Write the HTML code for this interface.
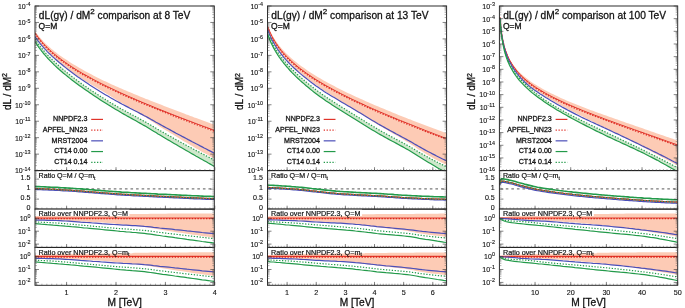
<!DOCTYPE html>
<html><head><meta charset="utf-8"><style>
html,body{margin:0;padding:0;background:#fff;}
svg{display:block;will-change:transform;}
text{font-family:"Liberation Sans", sans-serif;fill:#111;stroke:#111;stroke-width:0.28px;}
</style></head><body>
<svg xmlns="http://www.w3.org/2000/svg" width="685" height="308" viewBox="0 0 685 308">
<rect width="685" height="308" fill="#fff"/>
<g>
<clipPath id="cm0"><rect x="35.00" y="6.00" width="179.30" height="164.60"/></clipPath>
<clipPath id="ca0"><rect x="35.00" y="170.60" width="179.30" height="38.50"/></clipPath>
<clipPath id="cb0"><rect x="35.00" y="209.10" width="179.30" height="38.30"/></clipPath>
<clipPath id="cc0"><rect x="35.00" y="247.40" width="179.30" height="37.90"/></clipPath>
<g clip-path="url(#cm0)">
<path d="M35.0,31.0L35.5,31.7L36.0,32.4L36.5,33.1L37.0,33.8L37.5,34.5L38.0,35.1L38.5,35.7L39.0,36.3L39.5,36.9L40.0,37.5L40.5,38.1L41.0,38.7L41.5,39.3L42.0,39.8L42.5,40.3L43.0,40.9L43.5,41.4L44.0,41.9L44.5,42.4L45.0,42.9L45.5,43.4L46.0,43.9L46.5,44.4L47.0,44.9L47.5,45.3L48.0,45.8L48.5,46.3L49.0,46.7L49.5,47.2L50.0,47.6L50.5,48.0L51.0,48.5L51.5,48.9L52.0,49.3L52.5,49.7L53.0,50.1L53.5,50.5L54.0,51.0L54.5,51.4L55.0,51.7L55.5,52.1L57.5,53.7L59.5,55.2L61.5,56.6L63.5,58.0L65.6,59.3L67.6,60.6L69.6,61.9L71.6,63.2L73.6,64.4L75.6,65.6L77.6,66.8L79.6,68.0L81.6,69.1L83.6,70.3L85.7,71.4L87.7,72.5L89.7,73.6L91.7,74.6L93.7,75.7L95.7,76.7L97.7,77.7L99.7,78.7L101.7,79.7L103.7,80.7L105.8,81.6L107.8,82.5L109.8,83.5L111.8,84.4L113.8,85.3L115.8,86.2L117.8,87.0L119.8,87.9L121.8,88.8L123.8,89.7L125.9,90.5L127.9,91.4L129.9,92.3L131.9,93.1L133.9,93.9L135.9,94.8L137.9,95.6L139.9,96.4L141.9,97.2L143.9,98.0L146.0,98.9L148.0,99.6L150.0,100.4L152.0,101.2L154.0,102.0L156.0,102.8L158.0,103.6L160.0,104.3L162.0,105.1L164.0,105.9L166.1,106.7L168.1,107.5L170.1,108.3L172.1,109.0L174.1,109.8L176.1,110.6L178.1,111.3L180.1,112.1L182.1,112.8L184.1,113.6L186.2,114.4L188.2,115.1L190.2,115.9L192.2,116.6L194.2,117.4L196.2,118.1L198.2,118.8L200.2,119.6L202.2,120.3L204.2,121.1L206.3,121.8L208.3,122.5L210.3,123.3L212.3,124.0L214.3,124.8 L214.3,158.6L212.3,157.5L210.3,156.4L208.3,155.3L206.3,154.1L204.2,153.0L202.2,151.9L200.2,150.7L198.2,149.6L196.2,148.4L194.2,147.2L192.2,146.1L190.2,144.9L188.2,143.7L186.2,142.5L184.1,141.4L182.1,140.2L180.1,139.0L178.1,137.8L176.1,136.5L174.1,135.3L172.1,134.1L170.1,132.9L168.1,131.6L166.1,130.4L164.0,129.2L162.0,127.9L160.0,126.7L158.0,125.4L156.0,124.1L154.0,122.8L152.0,121.5L150.0,120.2L148.0,118.9L146.0,117.6L143.9,116.4L141.9,115.1L139.9,113.9L137.9,112.7L135.9,111.5L133.9,110.3L131.9,109.1L129.9,107.9L127.9,106.7L125.9,105.5L123.8,104.3L121.8,103.1L119.8,101.9L117.8,100.7L115.8,99.5L113.8,98.2L111.8,97.0L109.8,95.7L107.8,94.4L105.8,93.2L103.7,92.0L101.7,90.8L99.7,89.7L97.7,88.5L95.7,87.3L93.7,86.1L91.7,84.9L89.7,83.6L87.7,82.4L85.7,81.2L83.6,79.9L81.6,78.6L79.6,77.3L77.6,76.0L75.6,74.6L73.6,73.2L71.6,71.8L69.6,70.3L67.6,68.9L65.6,67.3L63.5,65.8L61.5,64.2L59.5,62.5L57.5,60.8L55.5,59.1L55.0,58.7L54.5,58.2L54.0,57.8L53.5,57.3L53.0,56.9L52.5,56.4L52.0,56.0L51.5,55.5L51.0,55.0L50.5,54.5L50.0,54.0L49.5,53.6L49.0,53.1L48.5,52.6L48.0,52.1L47.5,51.6L47.0,51.0L46.5,50.5L46.0,50.0L45.5,49.5L45.0,48.9L44.5,48.4L44.0,47.8L43.5,47.2L43.0,46.7L42.5,46.1L42.0,45.5L41.5,44.9L41.0,44.3L40.5,43.7L40.0,43.0L39.5,42.4L39.0,41.8L38.5,41.1L38.0,40.4L37.5,39.7L37.0,39.0L36.5,38.3L36.0,37.6L35.5,36.8L35.0,36.1 Z" fill="#fdcbb5" stroke="none"/>
<path d="M35.0,39.0L35.5,39.8L36.0,40.6L36.5,41.3L37.0,42.0L37.5,42.7L38.0,43.4L38.5,44.1L39.0,44.8L39.5,45.5L40.0,46.1L40.5,46.8L41.0,47.4L41.5,48.0L42.0,48.6L42.5,49.2L43.0,49.8L43.5,50.4L44.0,51.0L44.5,51.6L45.0,52.1L45.5,52.7L46.0,53.3L46.5,53.8L47.0,54.3L47.5,54.9L48.0,55.4L48.5,55.9L49.0,56.4L49.5,57.0L50.0,57.5L50.5,58.0L51.0,58.5L51.5,58.9L52.0,59.4L52.5,59.9L53.0,60.4L53.5,60.9L54.0,61.3L54.5,61.8L55.0,62.3L55.5,62.7L57.5,64.6L59.5,66.3L61.5,68.1L63.5,69.8L65.6,71.5L67.6,73.1L69.6,74.7L71.6,76.3L73.6,77.8L75.6,79.3L77.6,80.8L79.6,82.3L81.6,83.7L83.6,85.2L85.7,86.6L87.7,87.9L89.7,89.3L91.7,90.7L93.7,92.0L95.7,93.3L97.7,94.6L99.7,95.9L101.7,97.2L103.7,98.4L105.8,99.7L107.8,100.9L109.8,102.2L111.8,103.4L113.8,104.6L115.8,105.8L117.8,106.9L119.8,108.1L121.8,109.2L123.8,110.3L125.9,111.4L127.9,112.5L129.9,113.6L131.9,114.7L133.9,115.7L135.9,116.8L137.9,117.9L139.9,119.0L141.9,120.1L143.9,121.2L146.0,122.3L148.0,123.5L150.0,124.6L152.0,125.8L154.0,127.0L156.0,128.2L158.0,129.4L160.0,130.6L162.0,131.7L164.0,132.9L166.1,134.0L168.1,135.2L170.1,136.3L172.1,137.4L174.1,138.5L176.1,139.7L178.1,140.8L180.1,141.9L182.1,143.0L184.1,144.1L186.2,145.2L188.2,146.3L190.2,147.3L192.2,148.4L194.2,149.5L196.2,150.6L198.2,151.6L200.2,152.7L202.2,153.8L204.2,154.8L206.3,155.9L208.3,156.9L210.3,158.0L212.3,159.0L214.3,160.0 L214.3,166.4L212.3,165.2L210.3,164.1L208.3,163.0L206.3,161.8L204.2,160.7L202.2,159.6L200.2,158.4L198.2,157.3L196.2,156.2L194.2,155.0L192.2,153.9L190.2,152.7L188.2,151.6L186.2,150.4L184.1,149.2L182.1,148.1L180.1,146.9L178.1,145.8L176.1,144.6L174.1,143.4L172.1,142.2L170.1,141.0L168.1,139.9L166.1,138.7L164.0,137.5L162.0,136.3L160.0,135.1L158.0,133.9L156.0,132.6L154.0,131.4L152.0,130.2L150.0,128.9L148.0,127.7L146.0,126.5L143.9,125.4L141.9,124.2L139.9,123.1L137.9,122.0L135.9,120.8L133.9,119.7L131.9,118.6L129.9,117.5L127.9,116.4L125.9,115.2L123.8,114.1L121.8,113.0L119.8,111.8L117.8,110.6L115.8,109.4L113.8,108.2L111.8,107.0L109.8,105.7L107.8,104.5L105.8,103.2L103.7,101.9L101.7,100.7L99.7,99.4L97.7,98.1L95.7,96.7L93.7,95.4L91.7,94.1L89.7,92.7L87.7,91.3L85.7,89.9L83.6,88.5L81.6,87.1L79.6,85.7L77.6,84.2L75.6,82.7L73.6,81.2L71.6,79.7L69.6,78.1L67.6,76.5L65.6,74.9L63.5,73.2L61.5,71.5L59.5,69.8L57.5,68.0L55.5,66.1L55.0,65.6L54.5,65.1L54.0,64.7L53.5,64.2L53.0,63.7L52.5,63.2L52.0,62.7L51.5,62.2L51.0,61.7L50.5,61.2L50.0,60.7L49.5,60.1L49.0,59.6L48.5,59.1L48.0,58.5L47.5,58.0L47.0,57.4L46.5,56.9L46.0,56.3L45.5,55.7L45.0,55.2L44.5,54.6L44.0,54.0L43.5,53.4L43.0,52.8L42.5,52.2L42.0,51.5L41.5,50.9L41.0,50.2L40.5,49.6L40.0,48.9L39.5,48.2L39.0,47.6L38.5,46.9L38.0,46.1L37.5,45.4L37.0,44.7L36.5,43.9L36.0,43.1L35.5,42.4L35.0,41.6 Z" fill="#cfe8cc" stroke="none"/>
<path d="M35.0,32.8L35.5,33.5L36.0,34.3L36.5,35.0L37.0,35.7L37.5,36.4L38.0,37.0L38.5,37.7L39.0,38.3L39.5,39.0L40.0,39.6L40.5,40.2L41.0,40.8L41.5,41.4L42.0,42.0L42.5,42.5L43.0,43.1L43.5,43.7L44.0,44.2L44.5,44.7L45.0,45.3L45.5,45.8L46.0,46.3L46.5,46.8L47.0,47.3L47.5,47.8L48.0,48.3L48.5,48.8L49.0,49.3L49.5,49.7L50.0,50.2L50.5,50.7L51.0,51.1L51.5,51.6L52.0,52.0L52.5,52.4L53.0,52.9L53.5,53.3L54.0,53.7L54.5,54.2L55.0,54.6L55.5,55.0L57.5,56.6L59.5,58.2L61.5,59.7L63.5,61.2L65.6,62.6L67.6,64.0L69.6,65.4L71.6,66.7L73.6,68.0L75.6,69.3L77.6,70.5L79.6,71.7L81.6,72.9L83.6,74.1L85.7,75.2L87.7,76.3L89.7,77.4L91.7,78.5L93.7,79.6L95.7,80.7L97.7,81.7L99.7,82.8L101.7,83.8L103.7,84.8L105.8,85.8L107.8,86.8L109.8,87.7L111.8,88.7L113.8,89.6L115.8,90.6L117.8,91.5L119.8,92.5L121.8,93.4L123.8,94.3L125.9,95.2L127.9,96.1L129.9,97.0L131.9,97.8L133.9,98.7L135.9,99.6L137.9,100.5L139.9,101.3L141.9,102.2L143.9,103.0L146.0,103.9L148.0,104.7L150.0,105.5L152.0,106.3L154.0,107.2L156.0,108.0L158.0,108.8L160.0,109.6L162.0,110.4L164.0,111.2L166.1,112.0L168.1,112.8L170.1,113.6L172.1,114.4L174.1,115.2L176.1,116.0L178.1,116.7L180.1,117.5L182.1,118.3L184.1,119.0L186.2,119.8L188.2,120.6L190.2,121.3L192.2,122.1L194.2,122.9L196.2,123.6L198.2,124.4L200.2,125.1L202.2,125.9L204.2,126.6L206.3,127.3L208.3,128.1L210.3,128.8L212.3,129.6L214.3,130.3" fill="none" stroke="#e0332a" stroke-width="1.0"/>
<path d="M35.0,33.6L35.5,34.3L36.0,35.1L36.5,35.8L37.0,36.5L37.5,37.2L38.0,37.8L38.5,38.5L39.0,39.1L39.5,39.8L40.0,40.4L40.5,41.0L41.0,41.6L41.5,42.2L42.0,42.8L42.5,43.3L43.0,43.9L43.5,44.5L44.0,45.0L44.5,45.5L45.0,46.1L45.5,46.6L46.0,47.1L46.5,47.6L47.0,48.1L47.5,48.6L48.0,49.1L48.5,49.6L49.0,50.1L49.5,50.5L50.0,51.0L50.5,51.5L51.0,51.9L51.5,52.4L52.0,52.8L52.5,53.2L53.0,53.7L53.5,54.1L54.0,54.5L54.5,55.0L55.0,55.4L55.5,55.8L57.5,57.4L59.5,59.0L61.5,60.5L63.5,62.0L65.6,63.4L67.6,64.8L69.6,66.2L71.6,67.5L73.6,68.8L75.6,70.1L77.6,71.3L79.6,72.5L81.6,73.7L83.6,74.9L85.7,76.0L87.7,77.1L89.7,78.2L91.7,79.3L93.7,80.4L95.7,81.5L97.7,82.5L99.7,83.6L101.7,84.6L103.7,85.6L105.8,86.6L107.8,87.6L109.8,88.5L111.8,89.5L113.8,90.4L115.8,91.4L117.8,92.3L119.8,93.3L121.8,94.2L123.8,95.1L125.9,96.0L127.9,96.9L129.9,97.8L131.9,98.6L133.9,99.5L135.9,100.4L137.9,101.3L139.9,102.1L141.9,103.0L143.9,103.8L146.0,104.7L148.0,105.5L150.0,106.3L152.0,107.1L154.0,108.0L156.0,108.8L158.0,109.6L160.0,110.4L162.0,111.2L164.0,112.0L166.1,112.8L168.1,113.6L170.1,114.4L172.1,115.2L174.1,116.0L176.1,116.8L178.1,117.5L180.1,118.3L182.1,119.1L184.1,119.8L186.2,120.6L188.2,121.4L190.2,122.1L192.2,122.9L194.2,123.7L196.2,124.4L198.2,125.2L200.2,125.9L202.2,126.7L204.2,127.4L206.3,128.1L208.3,128.9L210.3,129.6L212.3,130.4L214.3,131.1" fill="none" stroke="#e0332a" stroke-width="1.5" stroke-dasharray="1.4,1.45"/>
<path d="M35.0,36.5L35.5,37.2L36.0,38.0L36.5,38.7L37.0,39.4L37.5,40.1L38.0,40.8L38.5,41.4L39.0,42.1L39.5,42.7L40.0,43.4L40.5,44.0L41.0,44.6L41.5,45.2L42.0,45.8L42.5,46.4L43.0,46.9L43.5,47.5L44.0,48.0L44.5,48.6L45.0,49.1L45.5,49.7L46.0,50.2L46.5,50.7L47.0,51.3L47.5,51.8L48.0,52.3L48.5,52.8L49.0,53.3L49.5,53.8L50.0,54.2L50.5,54.7L51.0,55.2L51.5,55.7L52.0,56.1L52.5,56.6L53.0,57.0L53.5,57.5L54.0,57.9L54.5,58.4L55.0,58.8L55.5,59.3L57.5,61.0L59.5,62.7L61.5,64.3L63.5,66.0L65.6,67.6L67.6,69.2L69.6,70.8L71.6,72.3L73.6,73.8L75.6,75.2L77.6,76.7L79.6,78.1L81.6,79.5L83.6,80.8L85.7,82.2L87.7,83.5L89.7,84.9L91.7,86.2L93.7,87.5L95.7,88.8L97.7,90.0L99.7,91.3L101.7,92.5L103.7,93.7L105.8,94.9L107.8,96.1L109.8,97.3L111.8,98.4L113.8,99.6L115.8,100.7L117.8,101.8L119.8,102.9L121.8,104.0L123.8,105.0L125.9,106.1L127.9,107.1L129.9,108.2L131.9,109.2L133.9,110.3L135.9,111.3L137.9,112.3L139.9,113.4L141.9,114.4L143.9,115.5L146.0,116.5L148.0,117.6L150.0,118.7L152.0,119.9L154.0,121.0L156.0,122.2L158.0,123.3L160.0,124.4L162.0,125.5L164.0,126.6L166.1,127.7L168.1,128.8L170.1,129.9L172.1,131.0L174.1,132.1L176.1,133.2L178.1,134.2L180.1,135.3L182.1,136.4L184.1,137.4L186.2,138.5L188.2,139.6L190.2,140.6L192.2,141.7L194.2,142.7L196.2,143.8L198.2,144.8L200.2,145.9L202.2,146.9L204.2,148.0L206.3,149.0L208.3,150.1L210.3,151.1L212.3,152.1L214.3,153.2" fill="none" stroke="#4b4fb8" stroke-width="1.20"/>
<path d="M35.0,41.6L35.5,42.4L36.0,43.1L36.5,43.9L37.0,44.7L37.5,45.4L38.0,46.1L38.5,46.9L39.0,47.6L39.5,48.2L40.0,48.9L40.5,49.6L41.0,50.2L41.5,50.9L42.0,51.5L42.5,52.2L43.0,52.8L43.5,53.4L44.0,54.0L44.5,54.6L45.0,55.2L45.5,55.7L46.0,56.3L46.5,56.9L47.0,57.4L47.5,58.0L48.0,58.5L48.5,59.1L49.0,59.6L49.5,60.1L50.0,60.7L50.5,61.2L51.0,61.7L51.5,62.2L52.0,62.7L52.5,63.2L53.0,63.7L53.5,64.2L54.0,64.7L54.5,65.1L55.0,65.6L55.5,66.1L57.5,68.0L59.5,69.8L61.5,71.5L63.5,73.2L65.6,74.9L67.6,76.5L69.6,78.1L71.6,79.7L73.6,81.2L75.6,82.7L77.6,84.2L79.6,85.7L81.6,87.1L83.6,88.5L85.7,89.9L87.7,91.3L89.7,92.7L91.7,94.1L93.7,95.4L95.7,96.7L97.7,98.1L99.7,99.4L101.7,100.7L103.7,101.9L105.8,103.2L107.8,104.5L109.8,105.7L111.8,107.0L113.8,108.2L115.8,109.4L117.8,110.6L119.8,111.8L121.8,113.0L123.8,114.1L125.9,115.2L127.9,116.4L129.9,117.5L131.9,118.6L133.9,119.7L135.9,120.8L137.9,122.0L139.9,123.1L141.9,124.2L143.9,125.4L146.0,126.5L148.0,127.7L150.0,128.9L152.0,130.2L154.0,131.4L156.0,132.6L158.0,133.9L160.0,135.1L162.0,136.3L164.0,137.5L166.1,138.7L168.1,139.9L170.1,141.0L172.1,142.2L174.1,143.4L176.1,144.6L178.1,145.8L180.1,146.9L182.1,148.1L184.1,149.2L186.2,150.4L188.2,151.6L190.2,152.7L192.2,153.9L194.2,155.0L196.2,156.2L198.2,157.3L200.2,158.4L202.2,159.6L204.2,160.7L206.3,161.8L208.3,163.0L210.3,164.1L212.3,165.2L214.3,166.4" fill="none" stroke="#239a4a" stroke-width="1.20"/>
<path d="M35.0,39.0L35.5,39.8L36.0,40.6L36.5,41.3L37.0,42.0L37.5,42.7L38.0,43.4L38.5,44.1L39.0,44.8L39.5,45.5L40.0,46.1L40.5,46.8L41.0,47.4L41.5,48.0L42.0,48.6L42.5,49.2L43.0,49.8L43.5,50.4L44.0,51.0L44.5,51.6L45.0,52.1L45.5,52.7L46.0,53.3L46.5,53.8L47.0,54.3L47.5,54.9L48.0,55.4L48.5,55.9L49.0,56.4L49.5,57.0L50.0,57.5L50.5,58.0L51.0,58.5L51.5,58.9L52.0,59.4L52.5,59.9L53.0,60.4L53.5,60.9L54.0,61.3L54.5,61.8L55.0,62.3L55.5,62.7L57.5,64.6L59.5,66.3L61.5,68.1L63.5,69.8L65.6,71.5L67.6,73.1L69.6,74.7L71.6,76.3L73.6,77.8L75.6,79.3L77.6,80.8L79.6,82.3L81.6,83.7L83.6,85.2L85.7,86.6L87.7,87.9L89.7,89.3L91.7,90.7L93.7,92.0L95.7,93.3L97.7,94.6L99.7,95.9L101.7,97.2L103.7,98.4L105.8,99.7L107.8,100.9L109.8,102.2L111.8,103.4L113.8,104.6L115.8,105.8L117.8,106.9L119.8,108.1L121.8,109.2L123.8,110.3L125.9,111.4L127.9,112.5L129.9,113.6L131.9,114.7L133.9,115.7L135.9,116.8L137.9,117.9L139.9,119.0L141.9,120.1L143.9,121.2L146.0,122.3L148.0,123.5L150.0,124.6L152.0,125.8L154.0,127.0L156.0,128.2L158.0,129.4L160.0,130.6L162.0,131.7L164.0,132.9L166.1,134.0L168.1,135.2L170.1,136.3L172.1,137.4L174.1,138.5L176.1,139.7L178.1,140.8L180.1,141.9L182.1,143.0L184.1,144.1L186.2,145.2L188.2,146.3L190.2,147.3L192.2,148.4L194.2,149.5L196.2,150.6L198.2,151.6L200.2,152.7L202.2,153.8L204.2,154.8L206.3,155.9L208.3,156.9L210.3,158.0L212.3,159.0L214.3,160.0" fill="none" stroke="#239a4a" stroke-width="1.20" stroke-dasharray="1.3,1.6"/>
</g>
<g clip-path="url(#cb0)">
<path d="M35.0,216.2L38.0,216.1L41.1,215.9L44.1,215.8L47.2,215.7L50.2,215.6L53.2,215.5L56.3,215.4L59.3,215.3L62.4,215.2L65.4,215.1L68.4,215.0L71.5,215.0L74.5,214.9L77.5,214.8L80.6,214.8L83.6,214.8L86.7,214.7L89.7,214.7L92.7,214.7L95.8,214.6L98.8,214.6L101.9,214.5L104.9,214.5L107.9,214.4L111.0,214.4L114.0,214.3L117.1,214.3L120.1,214.2L123.1,214.2L126.2,214.1L129.2,214.1L132.2,214.1L135.3,214.0L138.3,214.0L141.4,213.9L144.4,213.9L147.4,213.9L150.5,213.8L153.5,213.8L156.6,213.7L159.6,213.7L162.6,213.7L165.7,213.7L168.7,213.6L171.8,213.6L174.8,213.6L177.8,213.6L180.9,213.6L183.9,213.6L186.9,213.6L190.0,213.5L193.0,213.5L196.1,213.5L199.1,213.5L202.1,213.5L205.2,213.5L208.2,213.5L211.3,213.5L214.3,213.5 L214.3,237.6L211.3,237.2L208.2,236.8L205.2,236.4L202.1,236.0L199.1,235.5L196.1,235.1L193.0,234.7L190.0,234.2L186.9,233.8L183.9,233.3L180.9,232.8L177.8,232.4L174.8,231.9L171.8,231.4L168.7,231.0L165.7,230.5L162.6,230.0L159.6,229.5L156.6,229.0L153.5,228.5L150.5,228.0L147.4,227.5L144.4,227.0L141.4,226.6L138.3,226.2L135.3,225.9L132.2,225.5L129.2,225.2L126.2,224.9L123.1,224.5L120.1,224.2L117.1,223.9L114.0,223.6L111.0,223.3L107.9,222.9L104.9,222.7L101.9,222.5L98.8,222.3L95.8,222.2L92.7,222.0L89.7,221.9L86.7,221.7L83.6,221.6L80.6,221.5L77.5,221.4L74.5,221.2L71.5,221.1L68.4,220.9L65.4,220.8L62.4,220.7L59.3,220.5L56.3,220.4L53.2,220.3L50.2,220.2L47.2,220.1L44.1,220.0L41.1,219.9L38.0,219.9L35.0,219.8 Z" fill="#fdcbb5" stroke="none"/>
<path d="M35.0,218.0L38.0,218.0L41.1,218.0L44.1,218.0L47.2,218.0L50.2,218.0L53.2,218.0L56.3,218.0L59.3,218.0L62.4,218.0L65.4,218.0L68.4,218.0L71.5,218.0L74.5,218.0L77.5,218.0L80.6,218.0L83.6,218.0L86.7,218.0L89.7,218.0L92.7,218.0L95.8,218.0L98.8,218.0L101.9,218.0L104.9,218.0L107.9,218.0L111.0,218.0L114.0,218.0L117.1,218.0L120.1,218.0L123.1,218.0L126.2,218.0L129.2,218.0L132.2,218.0L135.3,218.0L138.3,218.0L141.4,218.0L144.4,218.0L147.4,218.0L150.5,218.0L153.5,218.0L156.6,218.0L159.6,218.0L162.6,218.0L165.7,218.0L168.7,218.0L171.8,218.0L174.8,218.0L177.8,218.0L180.9,218.0L183.9,218.0L186.9,218.0L190.0,218.0L193.0,218.0L196.1,218.0L199.1,218.0L202.1,218.0L205.2,218.0L208.2,218.0L211.3,218.0L214.3,218.0" fill="none" stroke="#e43a2e" stroke-width="1.2"/>
<path d="M35.0,218.7L38.0,218.7L41.1,218.7L44.1,218.7L47.2,218.7L50.2,218.7L53.2,218.7L56.3,218.7L59.3,218.7L62.4,218.7L65.4,218.7L68.4,218.7L71.5,218.7L74.5,218.7L77.5,218.7L80.6,218.7L83.6,218.7L86.7,218.7L89.7,218.7L92.7,218.7L95.8,218.7L98.8,218.7L101.9,218.7L104.9,218.7L107.9,218.7L111.0,218.7L114.0,218.7L117.1,218.7L120.1,218.7L123.1,218.7L126.2,218.7L129.2,218.7L132.2,218.7L135.3,218.7L138.3,218.7L141.4,218.7L144.4,218.7L147.4,218.7L150.5,218.7L153.5,218.7L156.6,218.7L159.6,218.7L162.6,218.7L165.7,218.7L168.7,218.7L171.8,218.7L174.8,218.7L177.8,218.7L180.9,218.7L183.9,218.7L186.9,218.7L190.0,218.7L193.0,218.7L196.1,218.7L199.1,218.7L202.1,218.7L205.2,218.7L208.2,218.7L211.3,218.7L214.3,218.7" fill="none" stroke="#dc2418" stroke-width="1.3" stroke-dasharray="1.4,1.45"/>
<path d="M35.0,220.1L38.0,220.1L41.1,220.1L44.1,220.2L47.2,220.3L50.2,220.3L53.2,220.4L56.3,220.5L59.3,220.6L62.4,220.8L65.4,221.0L68.4,221.2L71.5,221.4L74.5,221.6L77.5,221.8L80.6,222.1L83.6,222.3L86.7,222.5L89.7,222.7L92.7,223.0L95.8,223.2L98.8,223.4L101.9,223.7L104.9,223.9L107.9,224.1L111.0,224.3L114.0,224.5L117.1,224.7L120.1,224.9L123.1,225.1L126.2,225.2L129.2,225.4L132.2,225.6L135.3,225.7L138.3,225.9L141.4,226.1L144.4,226.4L147.4,226.6L150.5,226.9L153.5,227.3L156.6,227.6L159.6,228.0L162.6,228.3L165.7,228.6L168.7,228.9L171.8,229.2L174.8,229.6L177.8,229.9L180.9,230.2L183.9,230.5L186.9,230.9L190.0,231.2L193.0,231.5L196.1,231.8L199.1,232.1L202.1,232.5L205.2,232.8L208.2,233.1L211.3,233.4L214.3,233.7" fill="none" stroke="#4b4fb8" stroke-width="1.20"/>
<path d="M35.0,223.7L38.0,223.9L41.1,224.2L44.1,224.4L47.2,224.7L50.2,224.9L53.2,225.2L56.3,225.4L59.3,225.7L62.4,225.9L65.4,226.2L68.4,226.4L71.5,226.7L74.5,226.9L77.5,227.2L80.6,227.5L83.6,227.8L86.7,228.0L89.7,228.3L92.7,228.6L95.8,228.9L98.8,229.2L101.9,229.5L104.9,229.8L107.9,230.1L111.0,230.4L114.0,230.7L117.1,231.0L120.1,231.3L123.1,231.5L126.2,231.8L129.2,232.0L132.2,232.3L135.3,232.5L138.3,232.8L141.4,233.1L144.4,233.4L147.4,233.8L150.5,234.2L153.5,234.6L156.6,235.1L159.6,235.5L162.6,236.0L165.7,236.4L168.7,236.8L171.8,237.2L174.8,237.7L177.8,238.1L180.9,238.5L183.9,238.9L186.9,239.4L190.0,239.8L193.0,240.2L196.1,240.6L199.1,241.0L202.1,241.5L205.2,241.9L208.2,242.3L211.3,242.7L214.3,243.1" fill="none" stroke="#239a4a" stroke-width="1.20"/>
<path d="M35.0,221.9L38.0,222.0L41.1,222.2L44.1,222.3L47.2,222.5L50.2,222.6L53.2,222.8L56.3,223.0L59.3,223.2L62.4,223.5L65.4,223.7L68.4,224.0L71.5,224.3L74.5,224.5L77.5,224.8L80.6,225.1L83.6,225.4L86.7,225.6L89.7,225.9L92.7,226.2L95.8,226.5L98.8,226.7L101.9,227.0L104.9,227.3L107.9,227.6L111.0,227.8L114.0,228.1L117.1,228.4L120.1,228.6L123.1,228.8L126.2,229.0L129.2,229.2L132.2,229.5L135.3,229.7L138.3,229.9L141.4,230.2L144.4,230.4L147.4,230.8L150.5,231.1L153.5,231.5L156.6,232.0L159.6,232.4L162.6,232.7L165.7,233.1L168.7,233.5L171.8,233.8L174.8,234.2L177.8,234.5L180.9,234.9L183.9,235.3L186.9,235.6L190.0,236.0L193.0,236.3L196.1,236.6L199.1,237.0L202.1,237.3L205.2,237.7L208.2,238.0L211.3,238.3L214.3,238.6" fill="none" stroke="#239a4a" stroke-width="1.20" stroke-dasharray="1.3,1.6"/>
</g>
<g clip-path="url(#cc0)">
<path d="M35.0,255.0L38.0,254.9L41.1,254.7L44.1,254.6L47.2,254.5L50.2,254.4L53.2,254.3L56.3,254.2L59.3,254.1L62.4,254.0L65.4,253.9L68.4,253.8L71.5,253.8L74.5,253.7L77.5,253.6L80.6,253.6L83.6,253.6L86.7,253.5L89.7,253.5L92.7,253.5L95.8,253.4L98.8,253.4L101.9,253.3L104.9,253.3L107.9,253.2L111.0,253.2L114.0,253.1L117.1,253.1L120.1,253.0L123.1,253.0L126.2,252.9L129.2,252.9L132.2,252.9L135.3,252.8L138.3,252.8L141.4,252.7L144.4,252.7L147.4,252.7L150.5,252.6L153.5,252.6L156.6,252.5L159.6,252.5L162.6,252.5L165.7,252.5L168.7,252.4L171.8,252.4L174.8,252.4L177.8,252.4L180.9,252.4L183.9,252.4L186.9,252.4L190.0,252.3L193.0,252.3L196.1,252.3L199.1,252.3L202.1,252.3L205.2,252.3L208.2,252.3L211.3,252.3L214.3,252.3 L214.3,275.9L211.3,275.5L208.2,275.1L205.2,274.7L202.1,274.3L199.1,273.8L196.1,273.4L193.0,273.0L190.0,272.5L186.9,272.1L183.9,271.6L180.9,271.1L177.8,270.7L174.8,270.2L171.8,269.7L168.7,269.3L165.7,268.8L162.6,268.3L159.6,267.8L156.6,267.3L153.5,266.8L150.5,266.3L147.4,265.8L144.4,265.3L141.4,264.9L138.3,264.5L135.3,264.2L132.2,263.8L129.2,263.5L126.2,263.2L123.1,262.8L120.1,262.5L117.1,262.2L114.0,261.9L111.0,261.6L107.9,261.2L104.9,261.0L101.9,260.8L98.8,260.6L95.8,260.5L92.7,260.3L89.7,260.2L86.7,260.0L83.6,259.9L80.6,259.8L77.5,259.7L74.5,259.5L71.5,259.4L68.4,259.2L65.4,259.1L62.4,259.0L59.3,258.8L56.3,258.7L53.2,258.6L50.2,258.5L47.2,258.4L44.1,258.3L41.1,258.2L38.0,258.2L35.0,258.1 Z" fill="#fdcbb5" stroke="none"/>
<path d="M35.0,256.3L38.0,256.3L41.1,256.3L44.1,256.3L47.2,256.3L50.2,256.3L53.2,256.3L56.3,256.3L59.3,256.3L62.4,256.3L65.4,256.3L68.4,256.3L71.5,256.3L74.5,256.3L77.5,256.3L80.6,256.3L83.6,256.3L86.7,256.3L89.7,256.3L92.7,256.3L95.8,256.3L98.8,256.3L101.9,256.3L104.9,256.3L107.9,256.3L111.0,256.3L114.0,256.3L117.1,256.3L120.1,256.3L123.1,256.3L126.2,256.3L129.2,256.3L132.2,256.3L135.3,256.3L138.3,256.3L141.4,256.3L144.4,256.3L147.4,256.3L150.5,256.3L153.5,256.3L156.6,256.3L159.6,256.3L162.6,256.3L165.7,256.3L168.7,256.3L171.8,256.3L174.8,256.3L177.8,256.3L180.9,256.3L183.9,256.3L186.9,256.3L190.0,256.3L193.0,256.3L196.1,256.3L199.1,256.3L202.1,256.3L205.2,256.3L208.2,256.3L211.3,256.3L214.3,256.3" fill="none" stroke="#e43a2e" stroke-width="1.2"/>
<path d="M35.0,257.0L38.0,257.0L41.1,257.0L44.1,257.0L47.2,257.0L50.2,257.0L53.2,257.0L56.3,257.0L59.3,257.0L62.4,257.0L65.4,257.0L68.4,257.0L71.5,257.0L74.5,257.0L77.5,257.0L80.6,257.0L83.6,257.0L86.7,257.0L89.7,257.0L92.7,257.0L95.8,257.0L98.8,257.0L101.9,257.0L104.9,257.0L107.9,257.0L111.0,257.0L114.0,257.0L117.1,257.0L120.1,257.0L123.1,257.0L126.2,257.0L129.2,257.0L132.2,257.0L135.3,257.0L138.3,257.0L141.4,257.0L144.4,257.0L147.4,257.0L150.5,257.0L153.5,257.0L156.6,257.0L159.6,257.0L162.6,257.0L165.7,257.0L168.7,257.0L171.8,257.0L174.8,257.0L177.8,257.0L180.9,257.0L183.9,257.0L186.9,257.0L190.0,257.0L193.0,257.0L196.1,257.0L199.1,257.0L202.1,257.0L205.2,257.0L208.2,257.0L211.3,257.0L214.3,257.0" fill="none" stroke="#dc2418" stroke-width="1.3" stroke-dasharray="1.4,1.45"/>
<path d="M35.0,258.4L38.0,258.4L41.1,258.4L44.1,258.5L47.2,258.6L50.2,258.6L53.2,258.7L56.3,258.8L59.3,258.9L62.4,259.1L65.4,259.3L68.4,259.5L71.5,259.7L74.5,259.9L77.5,260.1L80.6,260.4L83.6,260.6L86.7,260.8L89.7,261.0L92.7,261.3L95.8,261.5L98.8,261.7L101.9,262.0L104.9,262.2L107.9,262.4L111.0,262.6L114.0,262.8L117.1,263.0L120.1,263.2L123.1,263.4L126.2,263.5L129.2,263.7L132.2,263.9L135.3,264.0L138.3,264.2L141.4,264.4L144.4,264.7L147.4,264.9L150.5,265.2L153.5,265.6L156.6,265.9L159.6,266.3L162.6,266.6L165.7,266.9L168.7,267.2L171.8,267.5L174.8,267.9L177.8,268.2L180.9,268.5L183.9,268.8L186.9,269.2L190.0,269.5L193.0,269.8L196.1,270.1L199.1,270.4L202.1,270.8L205.2,271.1L208.2,271.4L211.3,271.7L214.3,272.0" fill="none" stroke="#4b4fb8" stroke-width="1.20"/>
<path d="M35.0,262.0L38.0,262.2L41.1,262.5L44.1,262.7L47.2,263.0L50.2,263.2L53.2,263.5L56.3,263.7L59.3,264.0L62.4,264.2L65.4,264.5L68.4,264.7L71.5,265.0L74.5,265.2L77.5,265.5L80.6,265.8L83.6,266.1L86.7,266.3L89.7,266.6L92.7,266.9L95.8,267.2L98.8,267.5L101.9,267.8L104.9,268.1L107.9,268.4L111.0,268.7L114.0,269.0L117.1,269.3L120.1,269.6L123.1,269.8L126.2,270.1L129.2,270.3L132.2,270.6L135.3,270.8L138.3,271.1L141.4,271.4L144.4,271.7L147.4,272.1L150.5,272.5L153.5,272.9L156.6,273.4L159.6,273.8L162.6,274.3L165.7,274.7L168.7,275.1L171.8,275.5L174.8,276.0L177.8,276.4L180.9,276.8L183.9,277.2L186.9,277.7L190.0,278.1L193.0,278.5L196.1,278.9L199.1,279.3L202.1,279.8L205.2,280.2L208.2,280.6L211.3,281.0L214.3,281.4" fill="none" stroke="#239a4a" stroke-width="1.20"/>
<path d="M35.0,260.2L38.0,260.3L41.1,260.5L44.1,260.6L47.2,260.8L50.2,260.9L53.2,261.1L56.3,261.3L59.3,261.5L62.4,261.8L65.4,262.0L68.4,262.3L71.5,262.6L74.5,262.8L77.5,263.1L80.6,263.4L83.6,263.7L86.7,263.9L89.7,264.2L92.7,264.5L95.8,264.8L98.8,265.0L101.9,265.3L104.9,265.6L107.9,265.9L111.0,266.1L114.0,266.4L117.1,266.7L120.1,266.9L123.1,267.1L126.2,267.3L129.2,267.5L132.2,267.8L135.3,268.0L138.3,268.2L141.4,268.5L144.4,268.7L147.4,269.1L150.5,269.4L153.5,269.8L156.6,270.3L159.6,270.7L162.6,271.0L165.7,271.4L168.7,271.8L171.8,272.1L174.8,272.5L177.8,272.8L180.9,273.2L183.9,273.6L186.9,273.9L190.0,274.3L193.0,274.6L196.1,274.9L199.1,275.3L202.1,275.6L205.2,276.0L208.2,276.3L211.3,276.6L214.3,276.9" fill="none" stroke="#239a4a" stroke-width="1.20" stroke-dasharray="1.3,1.6"/>
</g>
<g clip-path="url(#ca0)">
<line x1="35.00" y1="188.85" x2="214.30" y2="188.85" stroke="#7a7a7a" stroke-width="1.1" stroke-dasharray="2.6,2.97" stroke-dashoffset="-0.8"/>
<path d="M35.0,188.6L37.0,188.7L39.0,188.7L41.0,188.8L43.1,188.9L45.1,189.0L47.1,189.1L49.1,189.2L51.1,189.3L53.1,189.3L55.1,189.4L57.2,189.5L59.2,189.6L61.2,189.8L63.2,189.9L65.2,190.0L67.2,190.1L69.2,190.2L71.3,190.3L73.3,190.5L75.3,190.6L77.3,190.8L79.3,190.9L81.3,191.0L83.4,191.2L85.4,191.4L87.4,191.5L89.4,191.7L91.4,191.8L93.4,192.0L95.4,192.2L97.5,192.3L99.5,192.5L101.5,192.7L103.5,192.8L105.5,193.0L107.5,193.1L109.5,193.3L111.6,193.4L113.6,193.6L115.6,193.7L117.6,193.9L119.6,194.0L121.6,194.2L123.6,194.3L125.7,194.4L127.7,194.5L129.7,194.6L131.7,194.8L133.7,194.9L135.7,195.0L137.7,195.1L139.8,195.2L141.8,195.3L143.8,195.4L145.8,195.5L147.8,195.6L149.8,195.7L151.8,195.8L153.9,195.9L155.9,196.0L157.9,196.2L159.9,196.3L161.9,196.3L163.9,196.4L165.9,196.5L168.0,196.6L170.0,196.7L172.0,196.8L174.0,196.9L176.0,197.0L178.0,197.1L180.1,197.2L182.1,197.3L184.1,197.4L186.1,197.5L188.1,197.6L190.1,197.7L192.1,197.8L194.2,197.9L196.2,197.9L198.2,198.0L200.2,198.1L202.2,198.2L204.2,198.3L206.2,198.4L208.3,198.5L210.3,198.5L212.3,198.6L214.3,198.7" fill="none" stroke="#e0332a" stroke-width="1.0"/>
<path d="M35.0,189.5L37.0,189.6L39.0,189.6L41.0,189.7L43.1,189.8L45.1,189.9L47.1,190.0L49.1,190.1L51.1,190.2L53.1,190.2L55.1,190.3L57.2,190.4L59.2,190.5L61.2,190.7L63.2,190.8L65.2,190.9L67.2,191.0L69.2,191.1L71.3,191.2L73.3,191.4L75.3,191.5L77.3,191.7L79.3,191.8L81.3,191.9L83.4,192.1L85.4,192.3L87.4,192.4L89.4,192.6L91.4,192.7L93.4,192.9L95.4,193.1L97.5,193.2L99.5,193.4L101.5,193.6L103.5,193.7L105.5,193.9L107.5,194.0L109.5,194.2L111.6,194.3L113.6,194.5L115.6,194.6L117.6,194.8L119.6,194.9L121.6,195.1L123.6,195.2L125.7,195.3L127.7,195.4L129.7,195.5L131.7,195.7L133.7,195.8L135.7,195.9L137.7,196.0L139.8,196.1L141.8,196.2L143.8,196.3L145.8,196.4L147.8,196.5L149.8,196.6L151.8,196.7L153.9,196.8L155.9,196.9L157.9,197.1L159.9,197.2L161.9,197.2L163.9,197.3L165.9,197.4L168.0,197.5L170.0,197.6L172.0,197.7L174.0,197.8L176.0,197.9L178.0,198.0L180.1,198.1L182.1,198.2L184.1,198.3L186.1,198.4L188.1,198.5L190.1,198.6L192.1,198.7L194.2,198.8L196.2,198.8L198.2,198.9L200.2,199.0L202.2,199.1L204.2,199.2L206.2,199.3L208.3,199.4L210.3,199.4L212.3,199.5L214.3,199.6" fill="none" stroke="#4b4fb8" stroke-width="1.2"/>
<path d="M35.0,186.5L37.0,186.6L39.0,186.6L41.0,186.7L43.1,186.8L45.1,186.9L47.1,187.0L49.1,187.1L51.1,187.2L53.1,187.2L55.1,187.3L57.2,187.4L59.2,187.5L61.2,187.7L63.2,187.8L65.2,187.9L67.2,188.0L69.2,188.1L71.3,188.2L73.3,188.4L75.3,188.5L77.3,188.7L79.3,188.8L81.3,188.9L83.4,189.1L85.4,189.3L87.4,189.4L89.4,189.6L91.4,189.7L93.4,189.9L95.4,190.1L97.5,190.2L99.5,190.4L101.5,190.6L103.5,190.7L105.5,190.9L107.5,191.0L109.5,191.2L111.6,191.3L113.6,191.5L115.6,191.6L117.6,191.8L119.6,191.9L121.6,192.1L123.6,192.2L125.7,192.3L127.7,192.4L129.7,192.5L131.7,192.7L133.7,192.8L135.7,192.9L137.7,193.0L139.8,193.1L141.8,193.2L143.8,193.3L145.8,193.4L147.8,193.5L149.8,193.6L151.8,193.7L153.9,193.8L155.9,193.9L157.9,194.1L159.9,194.2L161.9,194.2L163.9,194.3L165.9,194.4L168.0,194.5L170.0,194.6L172.0,194.7L174.0,194.8L176.0,194.9L178.0,195.0L180.1,195.1L182.1,195.2L184.1,195.3L186.1,195.4L188.1,195.5L190.1,195.6L192.1,195.7L194.2,195.8L196.2,195.8L198.2,195.9L200.2,196.0L202.2,196.1L204.2,196.2L206.2,196.3L208.3,196.4L210.3,196.4L212.3,196.5L214.3,196.6" fill="none" stroke="#239a4a" stroke-width="1.6"/>
<path d="M35.0,188.6L37.0,188.7L39.0,188.7L41.0,188.8L43.1,188.9L45.1,189.0L47.1,189.1L49.1,189.2L51.1,189.3L53.1,189.3L55.1,189.4L57.2,189.5L59.2,189.6L61.2,189.8L63.2,189.9L65.2,190.0L67.2,190.1L69.2,190.2L71.3,190.3L73.3,190.5L75.3,190.6L77.3,190.8L79.3,190.9L81.3,191.0L83.4,191.2L85.4,191.4L87.4,191.5L89.4,191.7L91.4,191.8L93.4,192.0L95.4,192.2L97.5,192.3L99.5,192.5L101.5,192.7L103.5,192.8L105.5,193.0L107.5,193.1L109.5,193.3L111.6,193.4L113.6,193.6L115.6,193.7L117.6,193.9L119.6,194.0L121.6,194.2L123.6,194.3L125.7,194.4L127.7,194.5L129.7,194.6L131.7,194.8L133.7,194.9L135.7,195.0L137.7,195.1L139.8,195.2L141.8,195.3L143.8,195.4L145.8,195.5L147.8,195.6L149.8,195.7L151.8,195.8L153.9,195.9L155.9,196.0L157.9,196.2L159.9,196.3L161.9,196.3L163.9,196.4L165.9,196.5L168.0,196.6L170.0,196.7L172.0,196.8L174.0,196.9L176.0,197.0L178.0,197.1L180.1,197.2L182.1,197.3L184.1,197.4L186.1,197.5L188.1,197.6L190.1,197.7L192.1,197.8L194.2,197.9L196.2,197.9L198.2,198.0L200.2,198.1L202.2,198.2L204.2,198.3L206.2,198.4L208.3,198.5L210.3,198.5L212.3,198.6L214.3,198.7" fill="none" stroke="#1d7a48" stroke-width="1.2"/>
<path d="M35.0,188.6L37.0,188.7L39.0,188.7L41.0,188.8L43.1,188.9L45.1,189.0L47.1,189.1L49.1,189.2L51.1,189.3L53.1,189.3L55.1,189.4L57.2,189.5L59.2,189.6L61.2,189.8L63.2,189.9L65.2,190.0L67.2,190.1L69.2,190.2L71.3,190.3L73.3,190.5L75.3,190.6L77.3,190.8L79.3,190.9L81.3,191.0L83.4,191.2L85.4,191.4L87.4,191.5L89.4,191.7L91.4,191.8L93.4,192.0L95.4,192.2L97.5,192.3L99.5,192.5L101.5,192.7L103.5,192.8L105.5,193.0L107.5,193.1L109.5,193.3L111.6,193.4L113.6,193.6L115.6,193.7L117.6,193.9L119.6,194.0L121.6,194.2L123.6,194.3L125.7,194.4L127.7,194.5L129.7,194.6L131.7,194.8L133.7,194.9L135.7,195.0L137.7,195.1L139.8,195.2L141.8,195.3L143.8,195.4L145.8,195.5L147.8,195.6L149.8,195.7L151.8,195.8L153.9,195.9L155.9,196.0L157.9,196.2L159.9,196.3L161.9,196.3L163.9,196.4L165.9,196.5L168.0,196.6L170.0,196.7L172.0,196.8L174.0,196.9L176.0,197.0L178.0,197.1L180.1,197.2L182.1,197.3L184.1,197.4L186.1,197.5L188.1,197.6L190.1,197.7L192.1,197.8L194.2,197.9L196.2,197.9L198.2,198.0L200.2,198.1L202.2,198.2L204.2,198.3L206.2,198.4L208.3,198.5L210.3,198.5L212.3,198.6L214.3,198.7" fill="none" stroke="#e8503a" stroke-width="1.3" stroke-dasharray="1.4,1.45"/>
</g>
<rect x="35.00" y="6.00" width="179.30" height="164.60" fill="none" stroke="#222" stroke-width="0.95"/>
<rect x="35.00" y="170.60" width="179.30" height="38.50" fill="none" stroke="#222" stroke-width="0.95"/>
<rect x="35.00" y="209.10" width="179.30" height="38.30" fill="none" stroke="#222" stroke-width="0.95"/>
<rect x="35.00" y="247.40" width="179.30" height="37.90" fill="none" stroke="#222" stroke-width="0.95"/>
<path d="M35.00,165.65h2.00M214.30,165.65h-2.00M35.00,162.75h2.00M214.30,162.75h-2.00M35.00,160.69h2.00M214.30,160.69h-2.00M35.00,159.09h2.00M214.30,159.09h-2.00M35.00,157.79h2.00M214.30,157.79h-2.00M35.00,156.69h2.00M214.30,156.69h-2.00M35.00,155.74h2.00M214.30,155.74h-2.00M35.00,154.89h2.00M214.30,154.89h-2.00M35.00,149.19h2.00M214.30,149.19h-2.00M35.00,146.29h2.00M214.30,146.29h-2.00M35.00,144.23h2.00M214.30,144.23h-2.00M35.00,142.63h2.00M214.30,142.63h-2.00M35.00,141.33h2.00M214.30,141.33h-2.00M35.00,140.23h2.00M214.30,140.23h-2.00M35.00,139.28h2.00M214.30,139.28h-2.00M35.00,138.43h2.00M214.30,138.43h-2.00M35.00,132.73h2.00M214.30,132.73h-2.00M35.00,129.83h2.00M214.30,129.83h-2.00M35.00,127.77h2.00M214.30,127.77h-2.00M35.00,126.17h2.00M214.30,126.17h-2.00M35.00,124.87h2.00M214.30,124.87h-2.00M35.00,123.77h2.00M214.30,123.77h-2.00M35.00,122.82h2.00M214.30,122.82h-2.00M35.00,121.97h2.00M214.30,121.97h-2.00M35.00,116.27h2.00M214.30,116.27h-2.00M35.00,113.37h2.00M214.30,113.37h-2.00M35.00,111.31h2.00M214.30,111.31h-2.00M35.00,109.71h2.00M214.30,109.71h-2.00M35.00,108.41h2.00M214.30,108.41h-2.00M35.00,107.31h2.00M214.30,107.31h-2.00M35.00,106.36h2.00M214.30,106.36h-2.00M35.00,105.51h2.00M214.30,105.51h-2.00M35.00,99.81h2.00M214.30,99.81h-2.00M35.00,96.91h2.00M214.30,96.91h-2.00M35.00,94.85h2.00M214.30,94.85h-2.00M35.00,93.25h2.00M214.30,93.25h-2.00M35.00,91.95h2.00M214.30,91.95h-2.00M35.00,90.85h2.00M214.30,90.85h-2.00M35.00,89.90h2.00M214.30,89.90h-2.00M35.00,89.05h2.00M214.30,89.05h-2.00M35.00,83.35h2.00M214.30,83.35h-2.00M35.00,80.45h2.00M214.30,80.45h-2.00M35.00,78.39h2.00M214.30,78.39h-2.00M35.00,76.79h2.00M214.30,76.79h-2.00M35.00,75.49h2.00M214.30,75.49h-2.00M35.00,74.39h2.00M214.30,74.39h-2.00M35.00,73.44h2.00M214.30,73.44h-2.00M35.00,72.59h2.00M214.30,72.59h-2.00M35.00,66.89h2.00M214.30,66.89h-2.00M35.00,63.99h2.00M214.30,63.99h-2.00M35.00,61.93h2.00M214.30,61.93h-2.00M35.00,60.33h2.00M214.30,60.33h-2.00M35.00,59.03h2.00M214.30,59.03h-2.00M35.00,57.93h2.00M214.30,57.93h-2.00M35.00,56.98h2.00M214.30,56.98h-2.00M35.00,56.13h2.00M214.30,56.13h-2.00M35.00,50.43h2.00M214.30,50.43h-2.00M35.00,47.53h2.00M214.30,47.53h-2.00M35.00,45.47h2.00M214.30,45.47h-2.00M35.00,43.87h2.00M214.30,43.87h-2.00M35.00,42.57h2.00M214.30,42.57h-2.00M35.00,41.47h2.00M214.30,41.47h-2.00M35.00,40.52h2.00M214.30,40.52h-2.00M35.00,39.67h2.00M214.30,39.67h-2.00M35.00,33.97h2.00M214.30,33.97h-2.00M35.00,31.07h2.00M214.30,31.07h-2.00M35.00,29.01h2.00M214.30,29.01h-2.00M35.00,27.41h2.00M214.30,27.41h-2.00M35.00,26.11h2.00M214.30,26.11h-2.00M35.00,25.01h2.00M214.30,25.01h-2.00M35.00,24.06h2.00M214.30,24.06h-2.00M35.00,23.21h2.00M214.30,23.21h-2.00M35.00,17.51h2.00M214.30,17.51h-2.00M35.00,14.61h2.00M214.30,14.61h-2.00M35.00,12.55h2.00M214.30,12.55h-2.00M35.00,10.95h2.00M214.30,10.95h-2.00M35.00,9.65h2.00M214.30,9.65h-2.00M35.00,8.55h2.00M214.30,8.55h-2.00M35.00,7.60h2.00M214.30,7.60h-2.00M35.00,6.75h2.00M214.30,6.75h-2.00M35.00,246.96h2.00M214.30,246.96h-2.00M35.00,246.10h2.00M214.30,246.10h-2.00M35.00,245.35h2.00M214.30,245.35h-2.00M35.00,244.69h2.00M214.30,244.69h-2.00M35.00,240.22h2.00M214.30,240.22h-2.00M35.00,237.95h2.00M214.30,237.95h-2.00M35.00,236.33h2.00M214.30,236.33h-2.00M35.00,235.08h2.00M214.30,235.08h-2.00M35.00,234.06h2.00M214.30,234.06h-2.00M35.00,233.20h2.00M214.30,233.20h-2.00M35.00,232.45h2.00M214.30,232.45h-2.00M35.00,231.79h2.00M214.30,231.79h-2.00M35.00,227.32h2.00M214.30,227.32h-2.00M35.00,225.05h2.00M214.30,225.05h-2.00M35.00,223.43h2.00M214.30,223.43h-2.00M35.00,222.18h2.00M214.30,222.18h-2.00M35.00,221.16h2.00M214.30,221.16h-2.00M35.00,220.30h2.00M214.30,220.30h-2.00M35.00,219.55h2.00M214.30,219.55h-2.00M35.00,218.89h2.00M214.30,218.89h-2.00M35.00,214.42h2.00M214.30,214.42h-2.00M35.00,212.15h2.00M214.30,212.15h-2.00M35.00,210.53h2.00M214.30,210.53h-2.00M35.00,209.28h2.00M214.30,209.28h-2.00M35.00,285.26h2.00M214.30,285.26h-2.00M35.00,284.40h2.00M214.30,284.40h-2.00M35.00,283.65h2.00M214.30,283.65h-2.00M35.00,282.99h2.00M214.30,282.99h-2.00M35.00,278.52h2.00M214.30,278.52h-2.00M35.00,276.25h2.00M214.30,276.25h-2.00M35.00,274.63h2.00M214.30,274.63h-2.00M35.00,273.38h2.00M214.30,273.38h-2.00M35.00,272.36h2.00M214.30,272.36h-2.00M35.00,271.50h2.00M214.30,271.50h-2.00M35.00,270.75h2.00M214.30,270.75h-2.00M35.00,270.09h2.00M214.30,270.09h-2.00M35.00,265.62h2.00M214.30,265.62h-2.00M35.00,263.35h2.00M214.30,263.35h-2.00M35.00,261.73h2.00M214.30,261.73h-2.00M35.00,260.48h2.00M214.30,260.48h-2.00M35.00,259.46h2.00M214.30,259.46h-2.00M35.00,258.60h2.00M214.30,258.60h-2.00M35.00,257.85h2.00M214.30,257.85h-2.00M35.00,257.19h2.00M214.30,257.19h-2.00M35.00,252.72h2.00M214.30,252.72h-2.00M35.00,250.45h2.00M214.30,250.45h-2.00M35.00,248.83h2.00M214.30,248.83h-2.00M35.00,247.58h2.00M214.30,247.58h-2.00M35.00,207.10h2.00M214.30,207.10h-2.00M35.00,205.10h2.00M214.30,205.10h-2.00M35.00,203.10h2.00M214.30,203.10h-2.00M35.00,201.10h2.00M214.30,201.10h-2.00M35.00,197.10h2.00M214.30,197.10h-2.00M35.00,195.10h2.00M214.30,195.10h-2.00M35.00,193.10h2.00M214.30,193.10h-2.00M35.00,191.10h2.00M214.30,191.10h-2.00M35.00,187.10h2.00M214.30,187.10h-2.00M35.00,185.10h2.00M214.30,185.10h-2.00M35.00,183.10h2.00M214.30,183.10h-2.00M35.00,181.10h2.00M214.30,181.10h-2.00M35.00,177.10h2.00M214.30,177.10h-2.00M35.00,175.10h2.00M214.30,175.10h-2.00M35.00,173.10h2.00M214.30,173.10h-2.00M35.00,171.10h2.00M214.30,171.10h-2.00M36.96,170.60v-1.60M36.96,209.10v-1.60M36.96,247.40v-1.60M36.96,285.30v-1.60M41.90,170.60v-1.60M41.90,209.10v-1.60M41.90,247.40v-1.60M41.90,285.30v-1.60M46.84,170.60v-1.60M46.84,209.10v-1.60M46.84,247.40v-1.60M46.84,285.30v-1.60M51.78,170.60v-1.60M51.78,209.10v-1.60M51.78,247.40v-1.60M51.78,285.30v-1.60M56.72,170.60v-1.60M56.72,209.10v-1.60M56.72,247.40v-1.60M56.72,285.30v-1.60M61.66,170.60v-1.60M61.66,209.10v-1.60M61.66,247.40v-1.60M61.66,285.30v-1.60M66.60,170.60v-1.60M66.60,209.10v-1.60M66.60,247.40v-1.60M66.60,285.30v-1.60M71.54,170.60v-1.60M71.54,209.10v-1.60M71.54,247.40v-1.60M71.54,285.30v-1.60M76.48,170.60v-1.60M76.48,209.10v-1.60M76.48,247.40v-1.60M76.48,285.30v-1.60M81.42,170.60v-1.60M81.42,209.10v-1.60M81.42,247.40v-1.60M81.42,285.30v-1.60M86.36,170.60v-1.60M86.36,209.10v-1.60M86.36,247.40v-1.60M86.36,285.30v-1.60M91.30,170.60v-1.60M91.30,209.10v-1.60M91.30,247.40v-1.60M91.30,285.30v-1.60M96.24,170.60v-1.60M96.24,209.10v-1.60M96.24,247.40v-1.60M96.24,285.30v-1.60M101.18,170.60v-1.60M101.18,209.10v-1.60M101.18,247.40v-1.60M101.18,285.30v-1.60M106.12,170.60v-1.60M106.12,209.10v-1.60M106.12,247.40v-1.60M106.12,285.30v-1.60M111.06,170.60v-1.60M111.06,209.10v-1.60M111.06,247.40v-1.60M111.06,285.30v-1.60M116.00,170.60v-1.60M116.00,209.10v-1.60M116.00,247.40v-1.60M116.00,285.30v-1.60M120.94,170.60v-1.60M120.94,209.10v-1.60M120.94,247.40v-1.60M120.94,285.30v-1.60M125.88,170.60v-1.60M125.88,209.10v-1.60M125.88,247.40v-1.60M125.88,285.30v-1.60M130.82,170.60v-1.60M130.82,209.10v-1.60M130.82,247.40v-1.60M130.82,285.30v-1.60M135.76,170.60v-1.60M135.76,209.10v-1.60M135.76,247.40v-1.60M135.76,285.30v-1.60M140.70,170.60v-1.60M140.70,209.10v-1.60M140.70,247.40v-1.60M140.70,285.30v-1.60M145.64,170.60v-1.60M145.64,209.10v-1.60M145.64,247.40v-1.60M145.64,285.30v-1.60M150.58,170.60v-1.60M150.58,209.10v-1.60M150.58,247.40v-1.60M150.58,285.30v-1.60M155.52,170.60v-1.60M155.52,209.10v-1.60M155.52,247.40v-1.60M155.52,285.30v-1.60M160.46,170.60v-1.60M160.46,209.10v-1.60M160.46,247.40v-1.60M160.46,285.30v-1.60M165.40,170.60v-1.60M165.40,209.10v-1.60M165.40,247.40v-1.60M165.40,285.30v-1.60M170.34,170.60v-1.60M170.34,209.10v-1.60M170.34,247.40v-1.60M170.34,285.30v-1.60M175.28,170.60v-1.60M175.28,209.10v-1.60M175.28,247.40v-1.60M175.28,285.30v-1.60M180.22,170.60v-1.60M180.22,209.10v-1.60M180.22,247.40v-1.60M180.22,285.30v-1.60M185.16,170.60v-1.60M185.16,209.10v-1.60M185.16,247.40v-1.60M185.16,285.30v-1.60M190.10,170.60v-1.60M190.10,209.10v-1.60M190.10,247.40v-1.60M190.10,285.30v-1.60M195.04,170.60v-1.60M195.04,209.10v-1.60M195.04,247.40v-1.60M195.04,285.30v-1.60M199.98,170.60v-1.60M199.98,209.10v-1.60M199.98,247.40v-1.60M199.98,285.30v-1.60M204.92,170.60v-1.60M204.92,209.10v-1.60M204.92,247.40v-1.60M204.92,285.30v-1.60M209.86,170.60v-1.60M209.86,209.10v-1.60M209.86,247.40v-1.60M209.86,285.30v-1.60" stroke="#555" stroke-width="0.45" fill="none"/>
<path d="M35.00,170.60h4.00M214.30,170.60h-4.00M35.00,154.14h4.00M214.30,154.14h-4.00M35.00,137.68h4.00M214.30,137.68h-4.00M35.00,121.22h4.00M214.30,121.22h-4.00M35.00,104.76h4.00M214.30,104.76h-4.00M35.00,88.30h4.00M214.30,88.30h-4.00M35.00,71.84h4.00M214.30,71.84h-4.00M35.00,55.38h4.00M214.30,55.38h-4.00M35.00,38.92h4.00M214.30,38.92h-4.00M35.00,22.46h4.00M214.30,22.46h-4.00M35.00,6.00h4.00M214.30,6.00h-4.00M35.00,244.10h4.00M214.30,244.10h-4.00M35.00,231.20h4.00M214.30,231.20h-4.00M35.00,218.30h4.00M214.30,218.30h-4.00M35.00,282.40h4.00M214.30,282.40h-4.00M35.00,269.50h4.00M214.30,269.50h-4.00M35.00,256.60h4.00M214.30,256.60h-4.00M35.00,209.10h4.00M214.30,209.10h-4.00M35.00,199.10h4.00M214.30,199.10h-4.00M35.00,189.10h4.00M214.30,189.10h-4.00M35.00,179.10h4.00M214.30,179.10h-4.00M66.60,170.60v-3.40M66.60,209.10v-3.40M66.60,247.40v-3.40M66.60,285.30v-3.40M116.00,170.60v-3.40M116.00,209.10v-3.40M116.00,247.40v-3.40M116.00,285.30v-3.40M165.40,170.60v-3.40M165.40,209.10v-3.40M165.40,247.40v-3.40M165.40,285.30v-3.40M214.80,170.60v-3.40M214.80,209.10v-3.40M214.80,247.40v-3.40M214.80,285.30v-3.40" stroke="#333" stroke-width="0.6" fill="none"/>
<text x="66.60" y="295.00" font-size="7.20" text-anchor="middle" fill="#000" style="stroke-width:0.12px">1</text>
<text x="116.00" y="295.00" font-size="7.20" text-anchor="middle" fill="#000" style="stroke-width:0.12px">2</text>
<text x="165.40" y="295.00" font-size="7.20" text-anchor="middle" fill="#000" style="stroke-width:0.12px">3</text>
<text x="214.80" y="295.00" font-size="7.20" text-anchor="middle" fill="#000" style="stroke-width:0.12px">4</text>
<text x="124.65" y="305.70" font-size="10.20" text-anchor="middle" fill="#000" >M [TeV]</text>
<text x="30.50" y="173.45" font-size="7.0" text-anchor="end" style="stroke-width:0.12px">10<tspan dy="-2.7" font-size="5.4">-14</tspan></text>
<text x="30.50" y="156.99" font-size="7.0" text-anchor="end" style="stroke-width:0.12px">10<tspan dy="-2.7" font-size="5.4">-13</tspan></text>
<text x="30.50" y="140.53" font-size="7.0" text-anchor="end" style="stroke-width:0.12px">10<tspan dy="-2.7" font-size="5.4">-12</tspan></text>
<text x="30.50" y="124.07" font-size="7.0" text-anchor="end" style="stroke-width:0.12px">10<tspan dy="-2.7" font-size="5.4">-11</tspan></text>
<text x="30.50" y="107.61" font-size="7.0" text-anchor="end" style="stroke-width:0.12px">10<tspan dy="-2.7" font-size="5.4">-10</tspan></text>
<text x="30.50" y="91.15" font-size="7.0" text-anchor="end" style="stroke-width:0.12px">10<tspan dy="-2.7" font-size="5.4">-9</tspan></text>
<text x="30.50" y="74.69" font-size="7.0" text-anchor="end" style="stroke-width:0.12px">10<tspan dy="-2.7" font-size="5.4">-8</tspan></text>
<text x="30.50" y="58.23" font-size="7.0" text-anchor="end" style="stroke-width:0.12px">10<tspan dy="-2.7" font-size="5.4">-7</tspan></text>
<text x="30.50" y="41.77" font-size="7.0" text-anchor="end" style="stroke-width:0.12px">10<tspan dy="-2.7" font-size="5.4">-6</tspan></text>
<text x="30.50" y="25.31" font-size="7.0" text-anchor="end" style="stroke-width:0.12px">10<tspan dy="-2.7" font-size="5.4">-5</tspan></text>
<text x="30.50" y="8.85" font-size="7.0" text-anchor="end" style="stroke-width:0.12px">10<tspan dy="-2.7" font-size="5.4">-4</tspan></text>
<text x="30.40" y="180.25" font-size="7.10" text-anchor="end" fill="#000" style="stroke-width:0.12px">1.5</text>
<text x="30.40" y="190.10" font-size="7.10" text-anchor="end" fill="#000" style="stroke-width:0.12px">1</text>
<text x="30.40" y="199.95" font-size="7.10" text-anchor="end" fill="#000" style="stroke-width:0.12px">0.5</text>
<text x="30.40" y="209.80" font-size="7.10" text-anchor="end" fill="#000" style="stroke-width:0.12px">0</text>
<text x="30.50" y="220.90" font-size="7.0" text-anchor="end" style="stroke-width:0.12px">10<tspan dy="-3" font-size="5.4">0</tspan></text>
<text x="30.50" y="233.80" font-size="7.0" text-anchor="end" style="stroke-width:0.12px">10<tspan dy="-3" font-size="5.4">-1</tspan></text>
<text x="30.50" y="246.70" font-size="7.0" text-anchor="end" style="stroke-width:0.12px">10<tspan dy="-3" font-size="5.4">-2</tspan></text>
<text x="30.50" y="259.20" font-size="7.0" text-anchor="end" style="stroke-width:0.12px">10<tspan dy="-3" font-size="5.4">0</tspan></text>
<text x="30.50" y="272.10" font-size="7.0" text-anchor="end" style="stroke-width:0.12px">10<tspan dy="-3" font-size="5.4">-1</tspan></text>
<text x="30.50" y="285.00" font-size="7.0" text-anchor="end" style="stroke-width:0.12px">10<tspan dy="-3" font-size="5.4">-2</tspan></text>
<text transform="translate(10.90,91.50) rotate(-90)" font-size="10" text-anchor="middle">dL / dM<tspan dy="-3.8" font-size="7">2</tspan></text>
<text x="38.80" y="18.70" font-size="10.2">dL(g&#947;) / dM<tspan dy="-4.6" font-size="8">2</tspan><tspan dy="4.6"> comparison at 8 TeV</tspan></text>
<text x="38.60" y="28.90" font-size="8.50" text-anchor="start" fill="#000" >Q=M</text>
<text x="87.40" y="121.30" font-size="7.10" text-anchor="end" fill="#000" >NNPDF2.3</text>
<line x1="91.20" y1="119.40" x2="103.00" y2="119.40" stroke="#e0332a" stroke-width="1.2" />
<text x="87.40" y="132.02" font-size="7.10" text-anchor="end" fill="#000" >APFEL_NN23</text>
<line x1="91.20" y1="130.12" x2="103.00" y2="130.12" stroke="#e0332a" stroke-width="1.2" stroke-dasharray="1.3,1.6"/>
<text x="87.40" y="142.74" font-size="7.10" text-anchor="end" fill="#000" >MRST2004</text>
<line x1="91.20" y1="140.84" x2="103.00" y2="140.84" stroke="#4b4fb8" stroke-width="1.2" />
<text x="87.40" y="153.46" font-size="7.10" text-anchor="end" fill="#000" >CT14 0.00</text>
<line x1="91.20" y1="151.56" x2="103.00" y2="151.56" stroke="#239a4a" stroke-width="1.2" />
<text x="87.40" y="164.18" font-size="7.10" text-anchor="end" fill="#000" >CT14 0.14</text>
<line x1="91.20" y1="162.28" x2="103.00" y2="162.28" stroke="#239a4a" stroke-width="1.2" stroke-dasharray="1.3,1.6"/>
<text x="38.60" y="178.30" font-size="7.08" style="stroke-width:0.2px">Ratio Q=M / Q=m<tspan dy="1.6" font-size="5">t</tspan></text>
<rect x="35.60" y="209.7" width="93.84" height="6.3" fill="#fff"/>
<text x="38.60" y="216.20" font-size="7.20" text-anchor="start" fill="#000" style="stroke-width:0.2px">Ratio over NNPDF2.3, Q=M</text>
<rect x="35.60" y="248.0" width="96.75" height="5.4" fill="#fff"/>
<text x="38.60" y="254.80" font-size="7.2" style="stroke-width:0.2px">Ratio over NNPDF2.3, Q=m<tspan dy="1.6" font-size="5">t</tspan></text>
</g>
<g>
<clipPath id="cm1"><rect x="267.50" y="6.00" width="179.10" height="164.60"/></clipPath>
<clipPath id="ca1"><rect x="267.50" y="170.60" width="179.10" height="38.50"/></clipPath>
<clipPath id="cb1"><rect x="267.50" y="209.10" width="179.10" height="38.30"/></clipPath>
<clipPath id="cc1"><rect x="267.50" y="247.40" width="179.10" height="37.90"/></clipPath>
<g clip-path="url(#cm1)">
<path d="M267.5,24.7L268.0,26.0L268.5,27.2L269.0,28.4L269.5,29.5L270.0,30.6L270.5,31.7L271.0,32.7L271.5,33.6L272.0,34.6L272.5,35.5L273.0,36.4L273.5,37.2L274.0,38.1L274.5,38.9L275.0,39.6L275.5,40.4L276.0,41.1L276.5,41.9L277.0,42.6L277.5,43.3L278.0,43.9L278.5,44.6L279.0,45.3L279.5,45.9L280.0,46.5L280.5,47.1L281.0,47.7L281.5,48.3L282.0,48.9L282.5,49.4L283.0,50.0L283.5,50.5L284.0,51.1L284.5,51.6L285.0,52.1L285.5,52.7L286.0,53.2L286.5,53.7L287.0,54.2L287.5,54.6L288.0,55.1L290.0,57.0L292.0,58.8L294.0,60.5L296.0,62.1L298.0,63.7L300.0,65.2L302.1,66.7L304.1,68.1L306.1,69.5L308.1,70.9L310.1,72.2L312.1,73.5L314.1,74.7L316.1,76.0L318.1,77.2L320.1,78.3L322.1,79.5L324.1,80.7L326.1,81.8L328.2,82.9L330.2,84.0L332.2,85.1L334.2,86.1L336.2,87.2L338.2,88.2L340.2,89.2L342.2,90.2L344.2,91.2L346.2,92.2L348.2,93.2L350.2,94.1L352.2,95.1L354.3,96.0L356.3,96.9L358.3,97.8L360.3,98.7L362.3,99.6L364.3,100.5L366.3,101.4L368.3,102.3L370.3,103.2L372.3,104.0L374.3,104.9L376.3,105.7L378.3,106.6L380.3,107.4L382.4,108.3L384.4,109.1L386.4,110.0L388.4,110.8L390.4,111.6L392.4,112.4L394.4,113.3L396.4,114.1L398.4,114.9L400.4,115.7L402.4,116.5L404.4,117.3L406.4,118.1L408.5,118.9L410.5,119.6L412.5,120.4L414.5,121.2L416.5,122.0L418.5,122.7L420.5,123.5L422.5,124.3L424.5,125.0L426.5,125.8L428.5,126.5L430.5,127.3L432.5,128.0L434.6,128.8L436.6,129.5L438.6,130.3L440.6,131.0L442.6,131.8L444.6,132.5L446.6,133.3 L446.6,165.0L444.6,164.1L442.6,163.1L440.6,162.1L438.6,161.0L436.6,160.0L434.6,158.9L432.5,157.7L430.5,156.6L428.5,155.4L426.5,154.2L424.5,153.0L422.5,151.8L420.5,150.6L418.5,149.4L416.5,148.0L414.5,146.6L412.5,145.2L410.5,143.9L408.5,142.6L406.4,141.4L404.4,140.2L402.4,139.0L400.4,137.8L398.4,136.6L396.4,135.5L394.4,134.3L392.4,133.2L390.4,132.0L388.4,130.8L386.4,129.7L384.4,128.5L382.4,127.3L380.3,126.1L378.3,124.9L376.3,123.7L374.3,122.4L372.3,121.2L370.3,119.9L368.3,118.6L366.3,117.4L364.3,116.1L362.3,114.8L360.3,113.5L358.3,112.3L356.3,111.0L354.3,109.7L352.2,108.5L350.2,107.2L348.2,106.0L346.2,104.7L344.2,103.5L342.2,102.2L340.2,101.0L338.2,99.7L336.2,98.4L334.2,97.1L332.2,95.8L330.2,94.5L328.2,93.2L326.1,91.9L324.1,90.6L322.1,89.2L320.1,87.9L318.1,86.5L316.1,85.1L314.1,83.7L312.1,82.3L310.1,80.8L308.1,79.3L306.1,77.8L304.1,76.2L302.1,74.6L300.0,73.0L298.0,71.3L296.0,69.6L294.0,67.8L292.0,65.9L290.0,63.9L288.0,61.9L287.5,61.3L287.0,60.8L286.5,60.3L286.0,59.7L285.5,59.1L285.0,58.6L284.5,58.0L284.0,57.4L283.5,56.8L283.0,56.3L282.5,55.6L282.0,55.0L281.5,54.4L281.0,53.8L280.5,53.1L280.0,52.5L279.5,51.8L279.0,51.1L278.5,50.4L278.0,49.7L277.5,49.0L277.0,48.2L276.5,47.5L276.0,46.7L275.5,45.9L275.0,45.1L274.5,44.3L274.0,43.4L273.5,42.5L273.0,41.6L272.5,40.7L272.0,39.7L271.5,38.7L271.0,37.7L270.5,36.7L270.0,35.6L269.5,34.4L269.0,33.2L268.5,32.0L268.0,30.7L267.5,29.4 Z" fill="#fdcbb5" stroke="none"/>
<path d="M267.5,31.9L268.0,33.2L268.5,34.5L269.0,35.8L269.5,37.0L270.0,38.1L270.5,39.2L271.0,40.3L271.5,41.3L272.0,42.3L272.5,43.3L273.0,44.3L273.5,45.2L274.0,46.1L274.5,47.0L275.0,47.8L275.5,48.6L276.0,49.4L276.5,50.2L277.0,51.0L277.5,51.8L278.0,52.5L278.5,53.3L279.0,54.0L279.5,54.7L280.0,55.4L280.5,56.0L281.0,56.7L281.5,57.4L282.0,58.0L282.5,58.6L283.0,59.3L283.5,59.9L284.0,60.5L284.5,61.1L285.0,61.7L285.5,62.3L286.0,62.8L286.5,63.4L287.0,64.0L287.5,64.5L288.0,65.1L290.0,67.2L292.0,69.3L294.0,71.2L296.0,73.1L298.0,75.0L300.0,76.8L302.1,78.6L304.1,80.3L306.1,82.0L308.1,83.6L310.1,85.2L312.1,86.8L314.1,88.4L316.1,89.9L318.1,91.4L320.1,92.8L322.1,94.3L324.1,95.7L326.1,97.0L328.2,98.4L330.2,99.7L332.2,101.0L334.2,102.3L336.2,103.6L338.2,104.9L340.2,106.1L342.2,107.4L344.2,108.6L346.2,109.9L348.2,111.1L350.2,112.3L352.2,113.6L354.3,114.8L356.3,116.1L358.3,117.3L360.3,118.6L362.3,119.8L364.3,121.0L366.3,122.3L368.3,123.5L370.3,124.7L372.3,125.9L374.3,127.1L376.3,128.3L378.3,129.5L380.3,130.6L382.4,131.8L384.4,132.9L386.4,134.0L388.4,135.1L390.4,136.2L392.4,137.2L394.4,138.3L396.4,139.4L398.4,140.4L400.4,141.5L402.4,142.6L404.4,143.7L406.4,144.8L408.5,145.9L410.5,147.0L412.5,148.2L414.5,149.4L416.5,150.7L418.5,151.9L420.5,153.1L422.5,154.2L424.5,155.3L426.5,156.4L428.5,157.6L430.5,158.6L432.5,159.7L434.6,160.8L436.6,161.8L438.6,162.9L440.6,163.9L442.6,164.9L444.6,165.9L446.6,166.8 L446.6,173.1L444.6,171.9L442.6,170.8L440.6,169.6L438.6,168.4L436.6,167.2L434.6,166.0L432.5,164.8L430.5,163.6L428.5,162.4L426.5,161.2L424.5,160.0L422.5,158.7L420.5,157.5L418.5,156.3L416.5,155.0L414.5,153.7L412.5,152.4L410.5,151.2L408.5,150.0L406.4,148.9L404.4,147.7L402.4,146.6L400.4,145.6L398.4,144.5L396.4,143.4L394.4,142.3L392.4,141.3L390.4,140.2L388.4,139.1L386.4,138.0L384.4,136.9L382.4,135.8L380.3,134.6L378.3,133.5L376.3,132.3L374.3,131.1L372.3,129.9L370.3,128.7L368.3,127.4L366.3,126.2L364.3,125.0L362.3,123.7L360.3,122.5L358.3,121.2L356.3,119.9L354.3,118.7L352.2,117.4L350.2,116.2L348.2,115.0L346.2,113.7L344.2,112.5L342.2,111.2L340.2,110.0L338.2,108.7L336.2,107.5L334.2,106.2L332.2,104.9L330.2,103.6L328.2,102.3L326.1,100.9L324.1,99.5L322.1,98.1L320.1,96.7L318.1,95.2L316.1,93.7L314.1,92.2L312.1,90.6L310.1,89.0L308.1,87.3L306.1,85.7L304.1,83.9L302.1,82.2L300.0,80.4L298.0,78.5L296.0,76.6L294.0,74.6L292.0,72.6L290.0,70.5L288.0,68.2L287.5,67.7L287.0,67.1L286.5,66.5L286.0,65.9L285.5,65.3L285.0,64.7L284.5,64.1L284.0,63.5L283.5,62.9L283.0,62.2L282.5,61.6L282.0,60.9L281.5,60.3L281.0,59.6L280.5,58.9L280.0,58.2L279.5,57.5L279.0,56.8L278.5,56.0L278.0,55.3L277.5,54.5L277.0,53.7L276.5,52.9L276.0,52.1L275.5,51.3L275.0,50.4L274.5,49.5L274.0,48.6L273.5,47.7L273.0,46.8L272.5,45.8L272.0,44.8L271.5,43.8L271.0,42.7L270.5,41.6L270.0,40.5L269.5,39.3L269.0,38.1L268.5,36.8L268.0,35.5L267.5,34.1 Z" fill="#cfe8cc" stroke="none"/>
<path d="M267.5,26.1L268.0,27.5L268.5,28.7L269.0,30.0L269.5,31.1L270.0,32.3L270.5,33.3L271.0,34.4L271.5,35.4L272.0,36.4L272.5,37.3L273.0,38.2L273.5,39.1L274.0,40.0L274.5,40.8L275.0,41.6L275.5,42.4L276.0,43.2L276.5,43.9L277.0,44.7L277.5,45.4L278.0,46.1L278.5,46.8L279.0,47.5L279.5,48.2L280.0,48.8L280.5,49.4L281.0,50.1L281.5,50.7L282.0,51.3L282.5,51.9L283.0,52.5L283.5,53.1L284.0,53.6L284.5,54.2L285.0,54.7L285.5,55.3L286.0,55.8L286.5,56.3L287.0,56.9L287.5,57.4L288.0,57.9L290.0,59.8L292.0,61.7L294.0,63.5L296.0,65.2L298.0,66.9L300.0,68.5L302.1,70.0L304.1,71.5L306.1,73.0L308.1,74.4L310.1,75.7L312.1,77.1L314.1,78.4L316.1,79.7L318.1,80.9L320.1,82.1L322.1,83.3L324.1,84.5L326.1,85.7L328.2,86.8L330.2,87.9L332.2,89.0L334.2,90.1L336.2,91.2L338.2,92.2L340.2,93.3L342.2,94.3L344.2,95.3L346.2,96.3L348.2,97.3L350.2,98.3L352.2,99.3L354.3,100.3L356.3,101.2L358.3,102.2L360.3,103.1L362.3,104.0L364.3,104.9L366.3,105.9L368.3,106.8L370.3,107.7L372.3,108.6L374.3,109.4L376.3,110.3L378.3,111.2L380.3,112.1L382.4,112.9L384.4,113.8L386.4,114.6L388.4,115.5L390.4,116.3L392.4,117.2L394.4,118.0L396.4,118.8L398.4,119.7L400.4,120.5L402.4,121.3L404.4,122.1L406.4,122.9L408.5,123.7L410.5,124.5L412.5,125.3L414.5,126.1L416.5,126.9L418.5,127.7L420.5,128.5L422.5,129.3L424.5,130.1L426.5,130.9L428.5,131.7L430.5,132.4L432.5,133.2L434.6,134.0L436.6,134.8L438.6,135.5L440.6,136.3L442.6,137.1L444.6,137.8L446.6,138.6" fill="none" stroke="#e0332a" stroke-width="1.0"/>
<path d="M267.5,26.9L268.0,28.3L268.5,29.5L269.0,30.8L269.5,31.9L270.0,33.1L270.5,34.1L271.0,35.2L271.5,36.2L272.0,37.2L272.5,38.1L273.0,39.0L273.5,39.9L274.0,40.8L274.5,41.6L275.0,42.4L275.5,43.2L276.0,44.0L276.5,44.7L277.0,45.5L277.5,46.2L278.0,46.9L278.5,47.6L279.0,48.3L279.5,49.0L280.0,49.6L280.5,50.2L281.0,50.9L281.5,51.5L282.0,52.1L282.5,52.7L283.0,53.3L283.5,53.9L284.0,54.4L284.5,55.0L285.0,55.5L285.5,56.1L286.0,56.6L286.5,57.1L287.0,57.7L287.5,58.2L288.0,58.7L290.0,60.6L292.0,62.5L294.0,64.3L296.0,66.0L298.0,67.7L300.0,69.3L302.1,70.8L304.1,72.3L306.1,73.8L308.1,75.2L310.1,76.5L312.1,77.9L314.1,79.2L316.1,80.5L318.1,81.7L320.1,82.9L322.1,84.1L324.1,85.3L326.1,86.5L328.2,87.6L330.2,88.7L332.2,89.8L334.2,90.9L336.2,92.0L338.2,93.0L340.2,94.1L342.2,95.1L344.2,96.1L346.2,97.1L348.2,98.1L350.2,99.1L352.2,100.1L354.3,101.1L356.3,102.0L358.3,103.0L360.3,103.9L362.3,104.8L364.3,105.7L366.3,106.7L368.3,107.6L370.3,108.5L372.3,109.4L374.3,110.2L376.3,111.1L378.3,112.0L380.3,112.9L382.4,113.7L384.4,114.6L386.4,115.4L388.4,116.3L390.4,117.1L392.4,118.0L394.4,118.8L396.4,119.6L398.4,120.5L400.4,121.3L402.4,122.1L404.4,122.9L406.4,123.7L408.5,124.5L410.5,125.3L412.5,126.1L414.5,126.9L416.5,127.7L418.5,128.5L420.5,129.3L422.5,130.1L424.5,130.9L426.5,131.7L428.5,132.5L430.5,133.2L432.5,134.0L434.6,134.8L436.6,135.6L438.6,136.3L440.6,137.1L442.6,137.9L444.6,138.6L446.6,139.4" fill="none" stroke="#e0332a" stroke-width="1.5" stroke-dasharray="1.4,1.45"/>
<path d="M267.5,29.4L268.0,30.7L268.5,32.0L269.0,33.3L269.5,34.4L270.0,35.6L270.5,36.7L271.0,37.7L271.5,38.8L272.0,39.7L272.5,40.7L273.0,41.6L273.5,42.5L274.0,43.4L274.5,44.3L275.0,45.1L275.5,45.9L276.0,46.7L276.5,47.5L277.0,48.3L277.5,49.0L278.0,49.8L278.5,50.5L279.0,51.2L279.5,51.9L280.0,52.5L280.5,53.2L281.0,53.9L281.5,54.5L282.0,55.1L282.5,55.7L283.0,56.4L283.5,57.0L284.0,57.6L284.5,58.1L285.0,58.7L285.5,59.3L286.0,59.8L286.5,60.4L287.0,60.9L287.5,61.5L288.0,62.0L290.0,64.1L292.0,66.1L294.0,68.0L296.0,69.8L298.0,71.6L300.0,73.4L302.1,75.1L304.1,76.7L306.1,78.3L308.1,79.9L310.1,81.5L312.1,83.0L314.1,84.4L316.1,85.9L318.1,87.3L320.1,88.7L322.1,90.0L324.1,91.4L326.1,92.7L328.2,93.9L330.2,95.2L332.2,96.4L334.2,97.6L336.2,98.8L338.2,100.0L340.2,101.2L342.2,102.4L344.2,103.6L346.2,104.7L348.2,105.9L350.2,107.1L352.2,108.3L354.3,109.5L356.3,110.7L358.3,111.9L360.3,113.1L362.3,114.3L364.3,115.6L366.3,116.8L368.3,118.0L370.3,119.2L372.3,120.4L374.3,121.6L376.3,122.8L378.3,124.0L380.3,125.1L382.4,126.3L384.4,127.4L386.4,128.5L388.4,129.6L390.4,130.7L392.4,131.8L394.4,132.9L396.4,134.0L398.4,135.0L400.4,136.1L402.4,137.2L404.4,138.3L406.4,139.4L408.5,140.5L410.5,141.6L412.5,142.8L414.5,144.0L416.5,145.1L418.5,146.3L420.5,147.4L422.5,148.5L424.5,149.6L426.5,150.7L428.5,151.8L430.5,152.8L432.5,153.9L434.6,154.9L436.6,156.0L438.6,157.0L440.6,158.0L442.6,159.0L444.6,159.9L446.6,160.9" fill="none" stroke="#4b4fb8" stroke-width="1.20"/>
<path d="M267.5,34.1L268.0,35.5L268.5,36.8L269.0,38.1L269.5,39.3L270.0,40.5L270.5,41.6L271.0,42.7L271.5,43.8L272.0,44.8L272.5,45.8L273.0,46.8L273.5,47.7L274.0,48.6L274.5,49.5L275.0,50.4L275.5,51.3L276.0,52.1L276.5,52.9L277.0,53.7L277.5,54.5L278.0,55.3L278.5,56.0L279.0,56.8L279.5,57.5L280.0,58.2L280.5,58.9L281.0,59.6L281.5,60.3L282.0,60.9L282.5,61.6L283.0,62.2L283.5,62.9L284.0,63.5L284.5,64.1L285.0,64.7L285.5,65.3L286.0,65.9L286.5,66.5L287.0,67.1L287.5,67.7L288.0,68.2L290.0,70.5L292.0,72.6L294.0,74.6L296.0,76.6L298.0,78.5L300.0,80.4L302.1,82.2L304.1,83.9L306.1,85.7L308.1,87.3L310.1,89.0L312.1,90.6L314.1,92.2L316.1,93.7L318.1,95.2L320.1,96.7L322.1,98.1L324.1,99.5L326.1,100.9L328.2,102.3L330.2,103.6L332.2,104.9L334.2,106.2L336.2,107.5L338.2,108.7L340.2,110.0L342.2,111.2L344.2,112.5L346.2,113.7L348.2,115.0L350.2,116.2L352.2,117.4L354.3,118.7L356.3,119.9L358.3,121.2L360.3,122.5L362.3,123.7L364.3,125.0L366.3,126.2L368.3,127.4L370.3,128.7L372.3,129.9L374.3,131.1L376.3,132.3L378.3,133.5L380.3,134.6L382.4,135.8L384.4,136.9L386.4,138.0L388.4,139.1L390.4,140.2L392.4,141.3L394.4,142.3L396.4,143.4L398.4,144.5L400.4,145.6L402.4,146.6L404.4,147.7L406.4,148.9L408.5,150.0L410.5,151.2L412.5,152.4L414.5,153.7L416.5,155.0L418.5,156.3L420.5,157.5L422.5,158.7L424.5,160.0L426.5,161.2L428.5,162.4L430.5,163.6L432.5,164.8L434.6,166.0L436.6,167.2L438.6,168.4L440.6,169.6L442.6,170.8L444.6,171.9L446.6,173.1" fill="none" stroke="#239a4a" stroke-width="1.20"/>
<path d="M267.5,31.9L268.0,33.2L268.5,34.5L269.0,35.8L269.5,37.0L270.0,38.1L270.5,39.2L271.0,40.3L271.5,41.3L272.0,42.3L272.5,43.3L273.0,44.3L273.5,45.2L274.0,46.1L274.5,47.0L275.0,47.8L275.5,48.6L276.0,49.4L276.5,50.2L277.0,51.0L277.5,51.8L278.0,52.5L278.5,53.3L279.0,54.0L279.5,54.7L280.0,55.4L280.5,56.0L281.0,56.7L281.5,57.4L282.0,58.0L282.5,58.6L283.0,59.3L283.5,59.9L284.0,60.5L284.5,61.1L285.0,61.7L285.5,62.3L286.0,62.8L286.5,63.4L287.0,64.0L287.5,64.5L288.0,65.1L290.0,67.2L292.0,69.3L294.0,71.2L296.0,73.1L298.0,75.0L300.0,76.8L302.1,78.6L304.1,80.3L306.1,82.0L308.1,83.6L310.1,85.2L312.1,86.8L314.1,88.4L316.1,89.9L318.1,91.4L320.1,92.8L322.1,94.3L324.1,95.7L326.1,97.0L328.2,98.4L330.2,99.7L332.2,101.0L334.2,102.3L336.2,103.6L338.2,104.9L340.2,106.1L342.2,107.4L344.2,108.6L346.2,109.9L348.2,111.1L350.2,112.3L352.2,113.6L354.3,114.8L356.3,116.1L358.3,117.3L360.3,118.6L362.3,119.8L364.3,121.0L366.3,122.3L368.3,123.5L370.3,124.7L372.3,125.9L374.3,127.1L376.3,128.3L378.3,129.5L380.3,130.6L382.4,131.8L384.4,132.9L386.4,134.0L388.4,135.1L390.4,136.2L392.4,137.2L394.4,138.3L396.4,139.4L398.4,140.4L400.4,141.5L402.4,142.6L404.4,143.7L406.4,144.8L408.5,145.9L410.5,147.0L412.5,148.2L414.5,149.4L416.5,150.7L418.5,151.9L420.5,153.1L422.5,154.2L424.5,155.3L426.5,156.4L428.5,157.6L430.5,158.6L432.5,159.7L434.6,160.8L436.6,161.8L438.6,162.9L440.6,163.9L442.6,164.9L444.6,165.9L446.6,166.8" fill="none" stroke="#239a4a" stroke-width="1.20" stroke-dasharray="1.3,1.6"/>
</g>
<g clip-path="url(#cb1)">
<path d="M267.5,216.4L270.5,216.2L273.6,216.1L276.6,215.9L279.6,215.8L282.7,215.7L285.7,215.5L288.7,215.4L291.8,215.3L294.8,215.2L297.9,215.1L300.9,215.1L303.9,215.0L307.0,214.9L310.0,214.9L313.0,214.8L316.1,214.8L319.1,214.7L322.1,214.7L325.2,214.6L328.2,214.6L331.2,214.6L334.3,214.5L337.3,214.5L340.4,214.5L343.4,214.5L346.4,214.4L349.5,214.4L352.5,214.4L355.5,214.3L358.6,214.3L361.6,214.3L364.6,214.2L367.7,214.2L370.7,214.2L373.7,214.2L376.8,214.1L379.8,214.1L382.9,214.1L385.9,214.1L388.9,214.0L392.0,214.0L395.0,214.0L398.0,214.0L401.1,214.0L404.1,213.9L407.1,213.9L410.2,213.9L413.2,213.9L416.2,213.8L419.3,213.8L422.3,213.8L425.4,213.8L428.4,213.7L431.4,213.7L434.5,213.7L437.5,213.7L440.5,213.6L443.6,213.6L446.6,213.6 L446.6,236.6L443.6,236.4L440.5,236.1L437.5,235.8L434.5,235.5L431.4,235.1L428.4,234.7L425.4,234.2L422.3,233.8L419.3,233.3L416.2,232.7L413.2,232.0L410.2,231.4L407.1,231.0L404.1,230.5L401.1,230.1L398.0,229.7L395.0,229.4L392.0,229.0L388.9,228.7L385.9,228.3L382.9,227.9L379.8,227.6L376.8,227.2L373.7,226.8L370.7,226.4L367.7,226.0L364.6,225.6L361.6,225.2L358.6,224.8L355.5,224.5L352.5,224.1L349.5,223.8L346.4,223.6L343.4,223.3L340.4,223.0L337.3,222.8L334.3,222.5L331.2,222.3L328.2,222.1L325.2,221.9L322.1,221.7L319.1,221.6L316.1,221.4L313.0,221.3L310.0,221.1L307.0,221.0L303.9,220.9L300.9,220.8L297.9,220.7L294.8,220.6L291.8,220.5L288.7,220.4L285.7,220.3L282.7,220.2L279.6,220.1L276.6,220.0L273.6,219.9L270.5,219.9L267.5,219.8 Z" fill="#fdcbb5" stroke="none"/>
<path d="M267.5,218.0L270.5,218.0L273.6,218.0L276.6,218.0L279.6,218.0L282.7,218.0L285.7,218.0L288.7,218.0L291.8,218.0L294.8,218.0L297.9,218.0L300.9,218.0L303.9,218.0L307.0,218.0L310.0,218.0L313.0,218.0L316.1,218.0L319.1,218.0L322.1,218.0L325.2,218.0L328.2,218.0L331.2,218.0L334.3,218.0L337.3,218.0L340.4,218.0L343.4,218.0L346.4,218.0L349.5,218.0L352.5,218.0L355.5,218.0L358.6,218.0L361.6,218.0L364.6,218.0L367.7,218.0L370.7,218.0L373.7,218.0L376.8,218.0L379.8,218.0L382.9,218.0L385.9,218.0L388.9,218.0L392.0,218.0L395.0,218.0L398.0,218.0L401.1,218.0L404.1,218.0L407.1,218.0L410.2,218.0L413.2,218.0L416.2,218.0L419.3,218.0L422.3,218.0L425.4,218.0L428.4,218.0L431.4,218.0L434.5,218.0L437.5,218.0L440.5,218.0L443.6,218.0L446.6,218.0" fill="none" stroke="#e43a2e" stroke-width="1.2"/>
<path d="M267.5,218.7L270.5,218.7L273.6,218.7L276.6,218.7L279.6,218.7L282.7,218.7L285.7,218.7L288.7,218.7L291.8,218.7L294.8,218.7L297.9,218.7L300.9,218.7L303.9,218.7L307.0,218.7L310.0,218.7L313.0,218.7L316.1,218.7L319.1,218.7L322.1,218.7L325.2,218.7L328.2,218.7L331.2,218.7L334.3,218.7L337.3,218.7L340.4,218.7L343.4,218.7L346.4,218.7L349.5,218.7L352.5,218.7L355.5,218.7L358.6,218.7L361.6,218.7L364.6,218.7L367.7,218.7L370.7,218.7L373.7,218.7L376.8,218.7L379.8,218.7L382.9,218.7L385.9,218.7L388.9,218.7L392.0,218.7L395.0,218.7L398.0,218.7L401.1,218.7L404.1,218.7L407.1,218.7L410.2,218.7L413.2,218.7L416.2,218.7L419.3,218.7L422.3,218.7L425.4,218.7L428.4,218.7L431.4,218.7L434.5,218.7L437.5,218.7L440.5,218.7L443.6,218.7L446.6,218.7" fill="none" stroke="#dc2418" stroke-width="1.3" stroke-dasharray="1.4,1.45"/>
<path d="M267.5,219.8L270.5,219.9L273.6,220.0L276.6,220.0L279.6,220.1L282.7,220.3L285.7,220.4L288.7,220.5L291.8,220.6L294.8,220.7L297.9,220.9L300.9,221.0L303.9,221.2L307.0,221.4L310.0,221.6L313.0,221.8L316.1,222.0L319.1,222.1L322.1,222.3L325.2,222.5L328.2,222.6L331.2,222.8L334.3,222.9L337.3,223.1L340.4,223.2L343.4,223.4L346.4,223.6L349.5,223.8L352.5,224.0L355.5,224.3L358.6,224.5L361.6,224.9L364.6,225.2L367.7,225.5L370.7,225.9L373.7,226.2L376.8,226.6L379.8,226.9L382.9,227.2L385.9,227.5L388.9,227.7L392.0,228.0L395.0,228.3L398.0,228.6L401.1,228.9L404.1,229.2L407.1,229.5L410.2,229.8L413.2,230.2L416.2,230.6L419.3,231.0L422.3,231.4L425.4,231.7L428.4,232.0L431.4,232.3L434.5,232.6L437.5,232.9L440.5,233.2L443.6,233.4L446.6,233.6" fill="none" stroke="#4b4fb8" stroke-width="1.20"/>
<path d="M267.5,223.2L270.5,223.5L273.6,223.7L276.6,224.0L279.6,224.2L282.7,224.5L285.7,224.8L288.7,225.0L291.8,225.3L294.8,225.6L297.9,225.9L300.9,226.2L303.9,226.5L307.0,226.8L310.0,227.1L313.0,227.4L316.1,227.6L319.1,227.9L322.1,228.2L325.2,228.4L328.2,228.7L331.2,228.9L334.3,229.1L337.3,229.4L340.4,229.6L343.4,229.8L346.4,230.1L349.5,230.3L352.5,230.6L355.5,231.0L358.6,231.3L361.6,231.7L364.6,232.0L367.7,232.4L370.7,232.7L373.7,233.1L376.8,233.5L379.8,233.8L382.9,234.1L385.9,234.4L388.9,234.6L392.0,234.9L395.0,235.2L398.0,235.4L401.1,235.7L404.1,236.0L407.1,236.3L410.2,236.7L413.2,237.2L416.2,237.7L419.3,238.3L422.3,238.8L425.4,239.3L428.4,239.7L431.4,240.2L434.5,240.7L437.5,241.2L440.5,241.6L443.6,242.1L446.6,242.5" fill="none" stroke="#239a4a" stroke-width="1.20"/>
<path d="M267.5,221.6L270.5,221.7L273.6,221.9L276.6,222.0L279.6,222.2L282.7,222.4L285.7,222.5L288.7,222.7L291.8,222.9L294.8,223.1L297.9,223.3L300.9,223.6L303.9,223.8L307.0,224.1L310.0,224.3L313.0,224.6L316.1,224.9L319.1,225.1L322.1,225.4L325.2,225.6L328.2,225.8L331.2,226.1L334.3,226.3L337.3,226.5L340.4,226.8L343.4,227.0L346.4,227.3L349.5,227.6L352.5,227.8L355.5,228.2L358.6,228.5L361.6,228.8L364.6,229.2L367.7,229.5L370.7,229.9L373.7,230.2L376.8,230.6L379.8,230.9L382.9,231.2L385.9,231.5L388.9,231.7L392.0,232.0L395.0,232.2L398.0,232.5L401.1,232.8L404.1,233.1L407.1,233.4L410.2,233.7L413.2,234.2L416.2,234.6L419.3,235.1L422.3,235.5L425.4,235.9L428.4,236.2L431.4,236.6L434.5,236.9L437.5,237.2L440.5,237.5L443.6,237.7L446.6,237.9" fill="none" stroke="#239a4a" stroke-width="1.20" stroke-dasharray="1.3,1.6"/>
</g>
<g clip-path="url(#cc1)">
<path d="M267.5,255.2L270.5,255.0L273.6,254.9L276.6,254.7L279.6,254.6L282.7,254.5L285.7,254.3L288.7,254.2L291.8,254.1L294.8,254.0L297.9,253.9L300.9,253.9L303.9,253.8L307.0,253.7L310.0,253.7L313.0,253.6L316.1,253.6L319.1,253.5L322.1,253.5L325.2,253.4L328.2,253.4L331.2,253.4L334.3,253.3L337.3,253.3L340.4,253.3L343.4,253.3L346.4,253.2L349.5,253.2L352.5,253.2L355.5,253.1L358.6,253.1L361.6,253.1L364.6,253.0L367.7,253.0L370.7,253.0L373.7,253.0L376.8,252.9L379.8,252.9L382.9,252.9L385.9,252.9L388.9,252.8L392.0,252.8L395.0,252.8L398.0,252.8L401.1,252.8L404.1,252.7L407.1,252.7L410.2,252.7L413.2,252.7L416.2,252.6L419.3,252.6L422.3,252.6L425.4,252.6L428.4,252.5L431.4,252.5L434.5,252.5L437.5,252.5L440.5,252.4L443.6,252.4L446.6,252.4 L446.6,274.9L443.6,274.7L440.5,274.4L437.5,274.1L434.5,273.8L431.4,273.4L428.4,273.0L425.4,272.5L422.3,272.1L419.3,271.6L416.2,271.0L413.2,270.3L410.2,269.7L407.1,269.3L404.1,268.8L401.1,268.4L398.0,268.0L395.0,267.7L392.0,267.3L388.9,267.0L385.9,266.6L382.9,266.2L379.8,265.9L376.8,265.5L373.7,265.1L370.7,264.7L367.7,264.3L364.6,263.9L361.6,263.5L358.6,263.1L355.5,262.8L352.5,262.4L349.5,262.1L346.4,261.9L343.4,261.6L340.4,261.3L337.3,261.1L334.3,260.8L331.2,260.6L328.2,260.4L325.2,260.2L322.1,260.0L319.1,259.9L316.1,259.7L313.0,259.6L310.0,259.4L307.0,259.3L303.9,259.2L300.9,259.1L297.9,259.0L294.8,258.9L291.8,258.8L288.7,258.7L285.7,258.6L282.7,258.5L279.6,258.4L276.6,258.3L273.6,258.2L270.5,258.2L267.5,258.1 Z" fill="#fdcbb5" stroke="none"/>
<path d="M267.5,256.3L270.5,256.3L273.6,256.3L276.6,256.3L279.6,256.3L282.7,256.3L285.7,256.3L288.7,256.3L291.8,256.3L294.8,256.3L297.9,256.3L300.9,256.3L303.9,256.3L307.0,256.3L310.0,256.3L313.0,256.3L316.1,256.3L319.1,256.3L322.1,256.3L325.2,256.3L328.2,256.3L331.2,256.3L334.3,256.3L337.3,256.3L340.4,256.3L343.4,256.3L346.4,256.3L349.5,256.3L352.5,256.3L355.5,256.3L358.6,256.3L361.6,256.3L364.6,256.3L367.7,256.3L370.7,256.3L373.7,256.3L376.8,256.3L379.8,256.3L382.9,256.3L385.9,256.3L388.9,256.3L392.0,256.3L395.0,256.3L398.0,256.3L401.1,256.3L404.1,256.3L407.1,256.3L410.2,256.3L413.2,256.3L416.2,256.3L419.3,256.3L422.3,256.3L425.4,256.3L428.4,256.3L431.4,256.3L434.5,256.3L437.5,256.3L440.5,256.3L443.6,256.3L446.6,256.3" fill="none" stroke="#e43a2e" stroke-width="1.2"/>
<path d="M267.5,257.0L270.5,257.0L273.6,257.0L276.6,257.0L279.6,257.0L282.7,257.0L285.7,257.0L288.7,257.0L291.8,257.0L294.8,257.0L297.9,257.0L300.9,257.0L303.9,257.0L307.0,257.0L310.0,257.0L313.0,257.0L316.1,257.0L319.1,257.0L322.1,257.0L325.2,257.0L328.2,257.0L331.2,257.0L334.3,257.0L337.3,257.0L340.4,257.0L343.4,257.0L346.4,257.0L349.5,257.0L352.5,257.0L355.5,257.0L358.6,257.0L361.6,257.0L364.6,257.0L367.7,257.0L370.7,257.0L373.7,257.0L376.8,257.0L379.8,257.0L382.9,257.0L385.9,257.0L388.9,257.0L392.0,257.0L395.0,257.0L398.0,257.0L401.1,257.0L404.1,257.0L407.1,257.0L410.2,257.0L413.2,257.0L416.2,257.0L419.3,257.0L422.3,257.0L425.4,257.0L428.4,257.0L431.4,257.0L434.5,257.0L437.5,257.0L440.5,257.0L443.6,257.0L446.6,257.0" fill="none" stroke="#dc2418" stroke-width="1.3" stroke-dasharray="1.4,1.45"/>
<path d="M267.5,258.1L270.5,258.2L273.6,258.3L276.6,258.3L279.6,258.4L282.7,258.6L285.7,258.7L288.7,258.8L291.8,258.9L294.8,259.0L297.9,259.2L300.9,259.3L303.9,259.5L307.0,259.7L310.0,259.9L313.0,260.1L316.1,260.3L319.1,260.4L322.1,260.6L325.2,260.8L328.2,260.9L331.2,261.1L334.3,261.2L337.3,261.4L340.4,261.5L343.4,261.7L346.4,261.9L349.5,262.1L352.5,262.3L355.5,262.6L358.6,262.8L361.6,263.2L364.6,263.5L367.7,263.8L370.7,264.2L373.7,264.5L376.8,264.9L379.8,265.2L382.9,265.5L385.9,265.8L388.9,266.0L392.0,266.3L395.0,266.6L398.0,266.9L401.1,267.2L404.1,267.5L407.1,267.8L410.2,268.1L413.2,268.5L416.2,268.9L419.3,269.3L422.3,269.7L425.4,270.0L428.4,270.3L431.4,270.6L434.5,270.9L437.5,271.2L440.5,271.5L443.6,271.7L446.6,271.9" fill="none" stroke="#4b4fb8" stroke-width="1.20"/>
<path d="M267.5,261.5L270.5,261.8L273.6,262.0L276.6,262.3L279.6,262.5L282.7,262.8L285.7,263.1L288.7,263.3L291.8,263.6L294.8,263.9L297.9,264.2L300.9,264.5L303.9,264.8L307.0,265.1L310.0,265.4L313.0,265.7L316.1,265.9L319.1,266.2L322.1,266.5L325.2,266.7L328.2,267.0L331.2,267.2L334.3,267.4L337.3,267.7L340.4,267.9L343.4,268.1L346.4,268.4L349.5,268.6L352.5,268.9L355.5,269.3L358.6,269.6L361.6,270.0L364.6,270.3L367.7,270.7L370.7,271.0L373.7,271.4L376.8,271.8L379.8,272.1L382.9,272.4L385.9,272.7L388.9,272.9L392.0,273.2L395.0,273.5L398.0,273.7L401.1,274.0L404.1,274.3L407.1,274.6L410.2,275.0L413.2,275.5L416.2,276.0L419.3,276.6L422.3,277.1L425.4,277.6L428.4,278.0L431.4,278.5L434.5,279.0L437.5,279.5L440.5,279.9L443.6,280.4L446.6,280.8" fill="none" stroke="#239a4a" stroke-width="1.20"/>
<path d="M267.5,259.9L270.5,260.0L273.6,260.2L276.6,260.3L279.6,260.5L282.7,260.7L285.7,260.8L288.7,261.0L291.8,261.2L294.8,261.4L297.9,261.6L300.9,261.9L303.9,262.1L307.0,262.4L310.0,262.6L313.0,262.9L316.1,263.2L319.1,263.4L322.1,263.7L325.2,263.9L328.2,264.1L331.2,264.4L334.3,264.6L337.3,264.8L340.4,265.1L343.4,265.3L346.4,265.6L349.5,265.9L352.5,266.1L355.5,266.5L358.6,266.8L361.6,267.1L364.6,267.5L367.7,267.8L370.7,268.2L373.7,268.5L376.8,268.9L379.8,269.2L382.9,269.5L385.9,269.8L388.9,270.0L392.0,270.3L395.0,270.5L398.0,270.8L401.1,271.1L404.1,271.4L407.1,271.7L410.2,272.0L413.2,272.5L416.2,272.9L419.3,273.4L422.3,273.8L425.4,274.2L428.4,274.5L431.4,274.9L434.5,275.2L437.5,275.5L440.5,275.8L443.6,276.0L446.6,276.2" fill="none" stroke="#239a4a" stroke-width="1.20" stroke-dasharray="1.3,1.6"/>
</g>
<g clip-path="url(#ca1)">
<line x1="267.50" y1="188.85" x2="446.60" y2="188.85" stroke="#7a7a7a" stroke-width="1.1" stroke-dasharray="2.6,2.97" stroke-dashoffset="-0.8"/>
<path d="M267.5,187.4L269.5,187.5L271.5,187.6L273.5,187.7L275.5,187.8L277.6,187.9L279.6,188.0L281.6,188.2L283.6,188.3L285.6,188.4L287.6,188.6L289.6,188.7L291.6,188.9L293.7,189.0L295.7,189.2L297.7,189.3L299.7,189.5L301.7,189.7L303.7,189.9L305.7,190.1L307.7,190.3L309.8,190.5L311.8,190.8L313.8,191.0L315.8,191.2L317.8,191.5L319.8,191.7L321.8,191.9L323.8,192.2L325.9,192.4L327.9,192.6L329.9,192.8L331.9,193.0L333.9,193.2L335.9,193.4L337.9,193.5L339.9,193.7L342.0,193.8L344.0,194.0L346.0,194.1L348.0,194.2L350.0,194.3L352.0,194.4L354.0,194.5L356.0,194.7L358.1,194.8L360.1,194.9L362.1,195.0L364.1,195.1L366.1,195.2L368.1,195.3L370.1,195.4L372.1,195.5L374.2,195.6L376.2,195.7L378.2,195.8L380.2,195.9L382.2,196.0L384.2,196.2L386.2,196.3L388.2,196.5L390.3,196.6L392.3,196.7L394.3,196.9L396.3,197.0L398.3,197.2L400.3,197.3L402.3,197.5L404.3,197.6L406.4,197.7L408.4,197.8L410.4,197.9L412.4,198.0L414.4,198.1L416.4,198.2L418.4,198.3L420.4,198.4L422.5,198.5L424.5,198.6L426.5,198.7L428.5,198.7L430.5,198.8L432.5,198.9L434.5,199.0L436.5,199.0L438.6,199.1L440.6,199.2L442.6,199.2L444.6,199.3L446.6,199.3" fill="none" stroke="#e0332a" stroke-width="1.0"/>
<path d="M267.5,188.2L269.5,188.3L271.5,188.4L273.5,188.5L275.5,188.6L277.6,188.7L279.6,188.8L281.6,189.0L283.6,189.1L285.6,189.2L287.6,189.4L289.6,189.5L291.6,189.7L293.7,189.8L295.7,190.0L297.7,190.1L299.7,190.3L301.7,190.5L303.7,190.7L305.7,190.9L307.7,191.1L309.8,191.3L311.8,191.6L313.8,191.8L315.8,192.0L317.8,192.3L319.8,192.5L321.8,192.7L323.8,193.0L325.9,193.2L327.9,193.4L329.9,193.6L331.9,193.8L333.9,194.0L335.9,194.2L337.9,194.3L339.9,194.5L342.0,194.6L344.0,194.8L346.0,194.9L348.0,195.0L350.0,195.1L352.0,195.2L354.0,195.3L356.0,195.5L358.1,195.6L360.1,195.7L362.1,195.8L364.1,195.9L366.1,196.0L368.1,196.1L370.1,196.2L372.1,196.3L374.2,196.4L376.2,196.5L378.2,196.6L380.2,196.7L382.2,196.8L384.2,197.0L386.2,197.1L388.2,197.3L390.3,197.4L392.3,197.5L394.3,197.7L396.3,197.8L398.3,198.0L400.3,198.1L402.3,198.3L404.3,198.4L406.4,198.5L408.4,198.6L410.4,198.7L412.4,198.8L414.4,198.9L416.4,199.0L418.4,199.1L420.4,199.2L422.5,199.3L424.5,199.4L426.5,199.5L428.5,199.5L430.5,199.6L432.5,199.7L434.5,199.8L436.5,199.8L438.6,199.9L440.6,200.0L442.6,200.0L444.6,200.1L446.6,200.1" fill="none" stroke="#4b4fb8" stroke-width="1.2"/>
<path d="M267.5,185.1L269.5,185.2L271.5,185.3L273.5,185.4L275.5,185.5L277.6,185.6L279.6,185.7L281.6,185.9L283.6,186.0L285.6,186.1L287.6,186.3L289.6,186.4L291.6,186.6L293.7,186.7L295.7,186.9L297.7,187.0L299.7,187.2L301.7,187.4L303.7,187.6L305.7,187.8L307.7,188.0L309.8,188.2L311.8,188.5L313.8,188.7L315.8,188.9L317.8,189.2L319.8,189.4L321.8,189.6L323.8,189.9L325.9,190.1L327.9,190.3L329.9,190.5L331.9,190.7L333.9,190.9L335.9,191.1L337.9,191.2L339.9,191.4L342.0,191.5L344.0,191.7L346.0,191.8L348.0,191.9L350.0,192.0L352.0,192.1L354.0,192.2L356.0,192.4L358.1,192.5L360.1,192.6L362.1,192.7L364.1,192.8L366.1,192.9L368.1,193.0L370.1,193.1L372.1,193.2L374.2,193.3L376.2,193.4L378.2,193.5L380.2,193.6L382.2,193.7L384.2,193.9L386.2,194.0L388.2,194.2L390.3,194.3L392.3,194.4L394.3,194.6L396.3,194.7L398.3,194.9L400.3,195.0L402.3,195.2L404.3,195.3L406.4,195.4L408.4,195.5L410.4,195.6L412.4,195.7L414.4,195.8L416.4,195.9L418.4,196.0L420.4,196.1L422.5,196.2L424.5,196.3L426.5,196.4L428.5,196.4L430.5,196.5L432.5,196.6L434.5,196.7L436.5,196.7L438.6,196.8L440.6,196.9L442.6,196.9L444.6,197.0L446.6,197.0" fill="none" stroke="#239a4a" stroke-width="1.6"/>
<path d="M267.5,187.4L269.5,187.5L271.5,187.6L273.5,187.7L275.5,187.8L277.6,187.9L279.6,188.0L281.6,188.2L283.6,188.3L285.6,188.4L287.6,188.6L289.6,188.7L291.6,188.9L293.7,189.0L295.7,189.2L297.7,189.3L299.7,189.5L301.7,189.7L303.7,189.9L305.7,190.1L307.7,190.3L309.8,190.5L311.8,190.8L313.8,191.0L315.8,191.2L317.8,191.5L319.8,191.7L321.8,191.9L323.8,192.2L325.9,192.4L327.9,192.6L329.9,192.8L331.9,193.0L333.9,193.2L335.9,193.4L337.9,193.5L339.9,193.7L342.0,193.8L344.0,194.0L346.0,194.1L348.0,194.2L350.0,194.3L352.0,194.4L354.0,194.5L356.0,194.7L358.1,194.8L360.1,194.9L362.1,195.0L364.1,195.1L366.1,195.2L368.1,195.3L370.1,195.4L372.1,195.5L374.2,195.6L376.2,195.7L378.2,195.8L380.2,195.9L382.2,196.0L384.2,196.2L386.2,196.3L388.2,196.5L390.3,196.6L392.3,196.7L394.3,196.9L396.3,197.0L398.3,197.2L400.3,197.3L402.3,197.5L404.3,197.6L406.4,197.7L408.4,197.8L410.4,197.9L412.4,198.0L414.4,198.1L416.4,198.2L418.4,198.3L420.4,198.4L422.5,198.5L424.5,198.6L426.5,198.7L428.5,198.7L430.5,198.8L432.5,198.9L434.5,199.0L436.5,199.0L438.6,199.1L440.6,199.2L442.6,199.2L444.6,199.3L446.6,199.3" fill="none" stroke="#1d7a48" stroke-width="1.2"/>
<path d="M267.5,187.4L269.5,187.5L271.5,187.6L273.5,187.7L275.5,187.8L277.6,187.9L279.6,188.0L281.6,188.2L283.6,188.3L285.6,188.4L287.6,188.6L289.6,188.7L291.6,188.9L293.7,189.0L295.7,189.2L297.7,189.3L299.7,189.5L301.7,189.7L303.7,189.9L305.7,190.1L307.7,190.3L309.8,190.5L311.8,190.8L313.8,191.0L315.8,191.2L317.8,191.5L319.8,191.7L321.8,191.9L323.8,192.2L325.9,192.4L327.9,192.6L329.9,192.8L331.9,193.0L333.9,193.2L335.9,193.4L337.9,193.5L339.9,193.7L342.0,193.8L344.0,194.0L346.0,194.1L348.0,194.2L350.0,194.3L352.0,194.4L354.0,194.5L356.0,194.7L358.1,194.8L360.1,194.9L362.1,195.0L364.1,195.1L366.1,195.2L368.1,195.3L370.1,195.4L372.1,195.5L374.2,195.6L376.2,195.7L378.2,195.8L380.2,195.9L382.2,196.0L384.2,196.2L386.2,196.3L388.2,196.5L390.3,196.6L392.3,196.7L394.3,196.9L396.3,197.0L398.3,197.2L400.3,197.3L402.3,197.5L404.3,197.6L406.4,197.7L408.4,197.8L410.4,197.9L412.4,198.0L414.4,198.1L416.4,198.2L418.4,198.3L420.4,198.4L422.5,198.5L424.5,198.6L426.5,198.7L428.5,198.7L430.5,198.8L432.5,198.9L434.5,199.0L436.5,199.0L438.6,199.1L440.6,199.2L442.6,199.2L444.6,199.3L446.6,199.3" fill="none" stroke="#e8503a" stroke-width="1.3" stroke-dasharray="1.4,1.45"/>
</g>
<rect x="267.50" y="6.00" width="179.10" height="164.60" fill="none" stroke="#222" stroke-width="0.95"/>
<rect x="267.50" y="170.60" width="179.10" height="38.50" fill="none" stroke="#222" stroke-width="0.95"/>
<rect x="267.50" y="209.10" width="179.10" height="38.30" fill="none" stroke="#222" stroke-width="0.95"/>
<rect x="267.50" y="247.40" width="179.10" height="37.90" fill="none" stroke="#222" stroke-width="0.95"/>
<path d="M267.50,165.65h2.00M446.60,165.65h-2.00M267.50,162.75h2.00M446.60,162.75h-2.00M267.50,160.69h2.00M446.60,160.69h-2.00M267.50,159.09h2.00M446.60,159.09h-2.00M267.50,157.79h2.00M446.60,157.79h-2.00M267.50,156.69h2.00M446.60,156.69h-2.00M267.50,155.74h2.00M446.60,155.74h-2.00M267.50,154.89h2.00M446.60,154.89h-2.00M267.50,149.19h2.00M446.60,149.19h-2.00M267.50,146.29h2.00M446.60,146.29h-2.00M267.50,144.23h2.00M446.60,144.23h-2.00M267.50,142.63h2.00M446.60,142.63h-2.00M267.50,141.33h2.00M446.60,141.33h-2.00M267.50,140.23h2.00M446.60,140.23h-2.00M267.50,139.28h2.00M446.60,139.28h-2.00M267.50,138.43h2.00M446.60,138.43h-2.00M267.50,132.73h2.00M446.60,132.73h-2.00M267.50,129.83h2.00M446.60,129.83h-2.00M267.50,127.77h2.00M446.60,127.77h-2.00M267.50,126.17h2.00M446.60,126.17h-2.00M267.50,124.87h2.00M446.60,124.87h-2.00M267.50,123.77h2.00M446.60,123.77h-2.00M267.50,122.82h2.00M446.60,122.82h-2.00M267.50,121.97h2.00M446.60,121.97h-2.00M267.50,116.27h2.00M446.60,116.27h-2.00M267.50,113.37h2.00M446.60,113.37h-2.00M267.50,111.31h2.00M446.60,111.31h-2.00M267.50,109.71h2.00M446.60,109.71h-2.00M267.50,108.41h2.00M446.60,108.41h-2.00M267.50,107.31h2.00M446.60,107.31h-2.00M267.50,106.36h2.00M446.60,106.36h-2.00M267.50,105.51h2.00M446.60,105.51h-2.00M267.50,99.81h2.00M446.60,99.81h-2.00M267.50,96.91h2.00M446.60,96.91h-2.00M267.50,94.85h2.00M446.60,94.85h-2.00M267.50,93.25h2.00M446.60,93.25h-2.00M267.50,91.95h2.00M446.60,91.95h-2.00M267.50,90.85h2.00M446.60,90.85h-2.00M267.50,89.90h2.00M446.60,89.90h-2.00M267.50,89.05h2.00M446.60,89.05h-2.00M267.50,83.35h2.00M446.60,83.35h-2.00M267.50,80.45h2.00M446.60,80.45h-2.00M267.50,78.39h2.00M446.60,78.39h-2.00M267.50,76.79h2.00M446.60,76.79h-2.00M267.50,75.49h2.00M446.60,75.49h-2.00M267.50,74.39h2.00M446.60,74.39h-2.00M267.50,73.44h2.00M446.60,73.44h-2.00M267.50,72.59h2.00M446.60,72.59h-2.00M267.50,66.89h2.00M446.60,66.89h-2.00M267.50,63.99h2.00M446.60,63.99h-2.00M267.50,61.93h2.00M446.60,61.93h-2.00M267.50,60.33h2.00M446.60,60.33h-2.00M267.50,59.03h2.00M446.60,59.03h-2.00M267.50,57.93h2.00M446.60,57.93h-2.00M267.50,56.98h2.00M446.60,56.98h-2.00M267.50,56.13h2.00M446.60,56.13h-2.00M267.50,50.43h2.00M446.60,50.43h-2.00M267.50,47.53h2.00M446.60,47.53h-2.00M267.50,45.47h2.00M446.60,45.47h-2.00M267.50,43.87h2.00M446.60,43.87h-2.00M267.50,42.57h2.00M446.60,42.57h-2.00M267.50,41.47h2.00M446.60,41.47h-2.00M267.50,40.52h2.00M446.60,40.52h-2.00M267.50,39.67h2.00M446.60,39.67h-2.00M267.50,33.97h2.00M446.60,33.97h-2.00M267.50,31.07h2.00M446.60,31.07h-2.00M267.50,29.01h2.00M446.60,29.01h-2.00M267.50,27.41h2.00M446.60,27.41h-2.00M267.50,26.11h2.00M446.60,26.11h-2.00M267.50,25.01h2.00M446.60,25.01h-2.00M267.50,24.06h2.00M446.60,24.06h-2.00M267.50,23.21h2.00M446.60,23.21h-2.00M267.50,17.51h2.00M446.60,17.51h-2.00M267.50,14.61h2.00M446.60,14.61h-2.00M267.50,12.55h2.00M446.60,12.55h-2.00M267.50,10.95h2.00M446.60,10.95h-2.00M267.50,9.65h2.00M446.60,9.65h-2.00M267.50,8.55h2.00M446.60,8.55h-2.00M267.50,7.60h2.00M446.60,7.60h-2.00M267.50,6.75h2.00M446.60,6.75h-2.00M267.50,246.96h2.00M446.60,246.96h-2.00M267.50,246.10h2.00M446.60,246.10h-2.00M267.50,245.35h2.00M446.60,245.35h-2.00M267.50,244.69h2.00M446.60,244.69h-2.00M267.50,240.22h2.00M446.60,240.22h-2.00M267.50,237.95h2.00M446.60,237.95h-2.00M267.50,236.33h2.00M446.60,236.33h-2.00M267.50,235.08h2.00M446.60,235.08h-2.00M267.50,234.06h2.00M446.60,234.06h-2.00M267.50,233.20h2.00M446.60,233.20h-2.00M267.50,232.45h2.00M446.60,232.45h-2.00M267.50,231.79h2.00M446.60,231.79h-2.00M267.50,227.32h2.00M446.60,227.32h-2.00M267.50,225.05h2.00M446.60,225.05h-2.00M267.50,223.43h2.00M446.60,223.43h-2.00M267.50,222.18h2.00M446.60,222.18h-2.00M267.50,221.16h2.00M446.60,221.16h-2.00M267.50,220.30h2.00M446.60,220.30h-2.00M267.50,219.55h2.00M446.60,219.55h-2.00M267.50,218.89h2.00M446.60,218.89h-2.00M267.50,214.42h2.00M446.60,214.42h-2.00M267.50,212.15h2.00M446.60,212.15h-2.00M267.50,210.53h2.00M446.60,210.53h-2.00M267.50,209.28h2.00M446.60,209.28h-2.00M267.50,285.26h2.00M446.60,285.26h-2.00M267.50,284.40h2.00M446.60,284.40h-2.00M267.50,283.65h2.00M446.60,283.65h-2.00M267.50,282.99h2.00M446.60,282.99h-2.00M267.50,278.52h2.00M446.60,278.52h-2.00M267.50,276.25h2.00M446.60,276.25h-2.00M267.50,274.63h2.00M446.60,274.63h-2.00M267.50,273.38h2.00M446.60,273.38h-2.00M267.50,272.36h2.00M446.60,272.36h-2.00M267.50,271.50h2.00M446.60,271.50h-2.00M267.50,270.75h2.00M446.60,270.75h-2.00M267.50,270.09h2.00M446.60,270.09h-2.00M267.50,265.62h2.00M446.60,265.62h-2.00M267.50,263.35h2.00M446.60,263.35h-2.00M267.50,261.73h2.00M446.60,261.73h-2.00M267.50,260.48h2.00M446.60,260.48h-2.00M267.50,259.46h2.00M446.60,259.46h-2.00M267.50,258.60h2.00M446.60,258.60h-2.00M267.50,257.85h2.00M446.60,257.85h-2.00M267.50,257.19h2.00M446.60,257.19h-2.00M267.50,252.72h2.00M446.60,252.72h-2.00M267.50,250.45h2.00M446.60,250.45h-2.00M267.50,248.83h2.00M446.60,248.83h-2.00M267.50,247.58h2.00M446.60,247.58h-2.00M267.50,207.10h2.00M446.60,207.10h-2.00M267.50,205.10h2.00M446.60,205.10h-2.00M267.50,203.10h2.00M446.60,203.10h-2.00M267.50,201.10h2.00M446.60,201.10h-2.00M267.50,197.10h2.00M446.60,197.10h-2.00M267.50,195.10h2.00M446.60,195.10h-2.00M267.50,193.10h2.00M446.60,193.10h-2.00M267.50,191.10h2.00M446.60,191.10h-2.00M267.50,187.10h2.00M446.60,187.10h-2.00M267.50,185.10h2.00M446.60,185.10h-2.00M267.50,183.10h2.00M446.60,183.10h-2.00M267.50,181.10h2.00M446.60,181.10h-2.00M267.50,177.10h2.00M446.60,177.10h-2.00M267.50,175.10h2.00M446.60,175.10h-2.00M267.50,173.10h2.00M446.60,173.10h-2.00M267.50,171.10h2.00M446.60,171.10h-2.00M269.62,170.60v-1.60M269.62,209.10v-1.60M269.62,247.40v-1.60M269.62,285.30v-1.60M272.53,170.60v-1.60M272.53,209.10v-1.60M272.53,247.40v-1.60M272.53,285.30v-1.60M275.44,170.60v-1.60M275.44,209.10v-1.60M275.44,247.40v-1.60M275.44,285.30v-1.60M278.36,170.60v-1.60M278.36,209.10v-1.60M278.36,247.40v-1.60M278.36,285.30v-1.60M281.27,170.60v-1.60M281.27,209.10v-1.60M281.27,247.40v-1.60M281.27,285.30v-1.60M284.19,170.60v-1.60M284.19,209.10v-1.60M284.19,247.40v-1.60M284.19,285.30v-1.60M287.10,170.60v-1.60M287.10,209.10v-1.60M287.10,247.40v-1.60M287.10,285.30v-1.60M290.01,170.60v-1.60M290.01,209.10v-1.60M290.01,247.40v-1.60M290.01,285.30v-1.60M292.93,170.60v-1.60M292.93,209.10v-1.60M292.93,247.40v-1.60M292.93,285.30v-1.60M295.84,170.60v-1.60M295.84,209.10v-1.60M295.84,247.40v-1.60M295.84,285.30v-1.60M298.76,170.60v-1.60M298.76,209.10v-1.60M298.76,247.40v-1.60M298.76,285.30v-1.60M301.67,170.60v-1.60M301.67,209.10v-1.60M301.67,247.40v-1.60M301.67,285.30v-1.60M304.58,170.60v-1.60M304.58,209.10v-1.60M304.58,247.40v-1.60M304.58,285.30v-1.60M307.50,170.60v-1.60M307.50,209.10v-1.60M307.50,247.40v-1.60M307.50,285.30v-1.60M310.41,170.60v-1.60M310.41,209.10v-1.60M310.41,247.40v-1.60M310.41,285.30v-1.60M313.33,170.60v-1.60M313.33,209.10v-1.60M313.33,247.40v-1.60M313.33,285.30v-1.60M316.24,170.60v-1.60M316.24,209.10v-1.60M316.24,247.40v-1.60M316.24,285.30v-1.60M319.15,170.60v-1.60M319.15,209.10v-1.60M319.15,247.40v-1.60M319.15,285.30v-1.60M322.07,170.60v-1.60M322.07,209.10v-1.60M322.07,247.40v-1.60M322.07,285.30v-1.60M324.98,170.60v-1.60M324.98,209.10v-1.60M324.98,247.40v-1.60M324.98,285.30v-1.60M327.90,170.60v-1.60M327.90,209.10v-1.60M327.90,247.40v-1.60M327.90,285.30v-1.60M330.81,170.60v-1.60M330.81,209.10v-1.60M330.81,247.40v-1.60M330.81,285.30v-1.60M333.72,170.60v-1.60M333.72,209.10v-1.60M333.72,247.40v-1.60M333.72,285.30v-1.60M336.64,170.60v-1.60M336.64,209.10v-1.60M336.64,247.40v-1.60M336.64,285.30v-1.60M339.55,170.60v-1.60M339.55,209.10v-1.60M339.55,247.40v-1.60M339.55,285.30v-1.60M342.47,170.60v-1.60M342.47,209.10v-1.60M342.47,247.40v-1.60M342.47,285.30v-1.60M345.38,170.60v-1.60M345.38,209.10v-1.60M345.38,247.40v-1.60M345.38,285.30v-1.60M348.29,170.60v-1.60M348.29,209.10v-1.60M348.29,247.40v-1.60M348.29,285.30v-1.60M351.21,170.60v-1.60M351.21,209.10v-1.60M351.21,247.40v-1.60M351.21,285.30v-1.60M354.12,170.60v-1.60M354.12,209.10v-1.60M354.12,247.40v-1.60M354.12,285.30v-1.60M357.04,170.60v-1.60M357.04,209.10v-1.60M357.04,247.40v-1.60M357.04,285.30v-1.60M359.95,170.60v-1.60M359.95,209.10v-1.60M359.95,247.40v-1.60M359.95,285.30v-1.60M362.86,170.60v-1.60M362.86,209.10v-1.60M362.86,247.40v-1.60M362.86,285.30v-1.60M365.78,170.60v-1.60M365.78,209.10v-1.60M365.78,247.40v-1.60M365.78,285.30v-1.60M368.69,170.60v-1.60M368.69,209.10v-1.60M368.69,247.40v-1.60M368.69,285.30v-1.60M371.61,170.60v-1.60M371.61,209.10v-1.60M371.61,247.40v-1.60M371.61,285.30v-1.60M374.52,170.60v-1.60M374.52,209.10v-1.60M374.52,247.40v-1.60M374.52,285.30v-1.60M377.43,170.60v-1.60M377.43,209.10v-1.60M377.43,247.40v-1.60M377.43,285.30v-1.60M380.35,170.60v-1.60M380.35,209.10v-1.60M380.35,247.40v-1.60M380.35,285.30v-1.60M383.26,170.60v-1.60M383.26,209.10v-1.60M383.26,247.40v-1.60M383.26,285.30v-1.60M386.18,170.60v-1.60M386.18,209.10v-1.60M386.18,247.40v-1.60M386.18,285.30v-1.60M389.09,170.60v-1.60M389.09,209.10v-1.60M389.09,247.40v-1.60M389.09,285.30v-1.60M392.00,170.60v-1.60M392.00,209.10v-1.60M392.00,247.40v-1.60M392.00,285.30v-1.60M394.92,170.60v-1.60M394.92,209.10v-1.60M394.92,247.40v-1.60M394.92,285.30v-1.60M397.83,170.60v-1.60M397.83,209.10v-1.60M397.83,247.40v-1.60M397.83,285.30v-1.60M400.75,170.60v-1.60M400.75,209.10v-1.60M400.75,247.40v-1.60M400.75,285.30v-1.60M403.66,170.60v-1.60M403.66,209.10v-1.60M403.66,247.40v-1.60M403.66,285.30v-1.60M406.57,170.60v-1.60M406.57,209.10v-1.60M406.57,247.40v-1.60M406.57,285.30v-1.60M409.49,170.60v-1.60M409.49,209.10v-1.60M409.49,247.40v-1.60M409.49,285.30v-1.60M412.40,170.60v-1.60M412.40,209.10v-1.60M412.40,247.40v-1.60M412.40,285.30v-1.60M415.32,170.60v-1.60M415.32,209.10v-1.60M415.32,247.40v-1.60M415.32,285.30v-1.60M418.23,170.60v-1.60M418.23,209.10v-1.60M418.23,247.40v-1.60M418.23,285.30v-1.60M421.14,170.60v-1.60M421.14,209.10v-1.60M421.14,247.40v-1.60M421.14,285.30v-1.60M424.06,170.60v-1.60M424.06,209.10v-1.60M424.06,247.40v-1.60M424.06,285.30v-1.60M426.97,170.60v-1.60M426.97,209.10v-1.60M426.97,247.40v-1.60M426.97,285.30v-1.60M429.89,170.60v-1.60M429.89,209.10v-1.60M429.89,247.40v-1.60M429.89,285.30v-1.60M432.80,170.60v-1.60M432.80,209.10v-1.60M432.80,247.40v-1.60M432.80,285.30v-1.60M435.71,170.60v-1.60M435.71,209.10v-1.60M435.71,247.40v-1.60M435.71,285.30v-1.60M438.63,170.60v-1.60M438.63,209.10v-1.60M438.63,247.40v-1.60M438.63,285.30v-1.60M441.54,170.60v-1.60M441.54,209.10v-1.60M441.54,247.40v-1.60M441.54,285.30v-1.60M444.46,170.60v-1.60M444.46,209.10v-1.60M444.46,247.40v-1.60M444.46,285.30v-1.60" stroke="#555" stroke-width="0.45" fill="none"/>
<path d="M267.50,170.60h4.00M446.60,170.60h-4.00M267.50,154.14h4.00M446.60,154.14h-4.00M267.50,137.68h4.00M446.60,137.68h-4.00M267.50,121.22h4.00M446.60,121.22h-4.00M267.50,104.76h4.00M446.60,104.76h-4.00M267.50,88.30h4.00M446.60,88.30h-4.00M267.50,71.84h4.00M446.60,71.84h-4.00M267.50,55.38h4.00M446.60,55.38h-4.00M267.50,38.92h4.00M446.60,38.92h-4.00M267.50,22.46h4.00M446.60,22.46h-4.00M267.50,6.00h4.00M446.60,6.00h-4.00M267.50,244.10h4.00M446.60,244.10h-4.00M267.50,231.20h4.00M446.60,231.20h-4.00M267.50,218.30h4.00M446.60,218.30h-4.00M267.50,282.40h4.00M446.60,282.40h-4.00M267.50,269.50h4.00M446.60,269.50h-4.00M267.50,256.60h4.00M446.60,256.60h-4.00M267.50,209.10h4.00M446.60,209.10h-4.00M267.50,199.10h4.00M446.60,199.10h-4.00M267.50,189.10h4.00M446.60,189.10h-4.00M267.50,179.10h4.00M446.60,179.10h-4.00M287.10,170.60v-3.40M287.10,209.10v-3.40M287.10,247.40v-3.40M287.10,285.30v-3.40M316.24,170.60v-3.40M316.24,209.10v-3.40M316.24,247.40v-3.40M316.24,285.30v-3.40M345.38,170.60v-3.40M345.38,209.10v-3.40M345.38,247.40v-3.40M345.38,285.30v-3.40M374.52,170.60v-3.40M374.52,209.10v-3.40M374.52,247.40v-3.40M374.52,285.30v-3.40M403.66,170.60v-3.40M403.66,209.10v-3.40M403.66,247.40v-3.40M403.66,285.30v-3.40M432.80,170.60v-3.40M432.80,209.10v-3.40M432.80,247.40v-3.40M432.80,285.30v-3.40" stroke="#333" stroke-width="0.6" fill="none"/>
<text x="287.10" y="295.00" font-size="7.20" text-anchor="middle" fill="#000" style="stroke-width:0.12px">1</text>
<text x="316.24" y="295.00" font-size="7.20" text-anchor="middle" fill="#000" style="stroke-width:0.12px">2</text>
<text x="345.38" y="295.00" font-size="7.20" text-anchor="middle" fill="#000" style="stroke-width:0.12px">3</text>
<text x="374.52" y="295.00" font-size="7.20" text-anchor="middle" fill="#000" style="stroke-width:0.12px">4</text>
<text x="403.66" y="295.00" font-size="7.20" text-anchor="middle" fill="#000" style="stroke-width:0.12px">5</text>
<text x="432.80" y="295.00" font-size="7.20" text-anchor="middle" fill="#000" style="stroke-width:0.12px">6</text>
<text x="357.05" y="305.70" font-size="10.20" text-anchor="middle" fill="#000" >M [TeV]</text>
<text x="263.00" y="173.45" font-size="7.0" text-anchor="end" style="stroke-width:0.12px">10<tspan dy="-2.7" font-size="5.4">-14</tspan></text>
<text x="263.00" y="156.99" font-size="7.0" text-anchor="end" style="stroke-width:0.12px">10<tspan dy="-2.7" font-size="5.4">-13</tspan></text>
<text x="263.00" y="140.53" font-size="7.0" text-anchor="end" style="stroke-width:0.12px">10<tspan dy="-2.7" font-size="5.4">-12</tspan></text>
<text x="263.00" y="124.07" font-size="7.0" text-anchor="end" style="stroke-width:0.12px">10<tspan dy="-2.7" font-size="5.4">-11</tspan></text>
<text x="263.00" y="107.61" font-size="7.0" text-anchor="end" style="stroke-width:0.12px">10<tspan dy="-2.7" font-size="5.4">-10</tspan></text>
<text x="263.00" y="91.15" font-size="7.0" text-anchor="end" style="stroke-width:0.12px">10<tspan dy="-2.7" font-size="5.4">-9</tspan></text>
<text x="263.00" y="74.69" font-size="7.0" text-anchor="end" style="stroke-width:0.12px">10<tspan dy="-2.7" font-size="5.4">-8</tspan></text>
<text x="263.00" y="58.23" font-size="7.0" text-anchor="end" style="stroke-width:0.12px">10<tspan dy="-2.7" font-size="5.4">-7</tspan></text>
<text x="263.00" y="41.77" font-size="7.0" text-anchor="end" style="stroke-width:0.12px">10<tspan dy="-2.7" font-size="5.4">-6</tspan></text>
<text x="263.00" y="25.31" font-size="7.0" text-anchor="end" style="stroke-width:0.12px">10<tspan dy="-2.7" font-size="5.4">-5</tspan></text>
<text x="263.00" y="8.85" font-size="7.0" text-anchor="end" style="stroke-width:0.12px">10<tspan dy="-2.7" font-size="5.4">-4</tspan></text>
<text x="262.90" y="180.25" font-size="7.10" text-anchor="end" fill="#000" style="stroke-width:0.12px">1.5</text>
<text x="262.90" y="190.10" font-size="7.10" text-anchor="end" fill="#000" style="stroke-width:0.12px">1</text>
<text x="262.90" y="199.95" font-size="7.10" text-anchor="end" fill="#000" style="stroke-width:0.12px">0.5</text>
<text x="262.90" y="209.80" font-size="7.10" text-anchor="end" fill="#000" style="stroke-width:0.12px">0</text>
<text x="263.00" y="220.90" font-size="7.0" text-anchor="end" style="stroke-width:0.12px">10<tspan dy="-3" font-size="5.4">0</tspan></text>
<text x="263.00" y="233.80" font-size="7.0" text-anchor="end" style="stroke-width:0.12px">10<tspan dy="-3" font-size="5.4">-1</tspan></text>
<text x="263.00" y="246.70" font-size="7.0" text-anchor="end" style="stroke-width:0.12px">10<tspan dy="-3" font-size="5.4">-2</tspan></text>
<text x="263.00" y="259.20" font-size="7.0" text-anchor="end" style="stroke-width:0.12px">10<tspan dy="-3" font-size="5.4">0</tspan></text>
<text x="263.00" y="272.10" font-size="7.0" text-anchor="end" style="stroke-width:0.12px">10<tspan dy="-3" font-size="5.4">-1</tspan></text>
<text x="263.00" y="285.00" font-size="7.0" text-anchor="end" style="stroke-width:0.12px">10<tspan dy="-3" font-size="5.4">-2</tspan></text>
<text transform="translate(243.40,91.50) rotate(-90)" font-size="10" text-anchor="middle">dL / dM<tspan dy="-3.8" font-size="7">2</tspan></text>
<text x="271.30" y="18.70" font-size="10.2">dL(g&#947;) / dM<tspan dy="-4.6" font-size="8">2</tspan><tspan dy="4.6"> comparison at 13 TeV</tspan></text>
<text x="271.10" y="28.90" font-size="8.50" text-anchor="start" fill="#000" >Q=M</text>
<text x="319.90" y="121.30" font-size="7.10" text-anchor="end" fill="#000" >NNPDF2.3</text>
<line x1="323.70" y1="119.40" x2="335.50" y2="119.40" stroke="#e0332a" stroke-width="1.2" />
<text x="319.90" y="132.02" font-size="7.10" text-anchor="end" fill="#000" >APFEL_NN23</text>
<line x1="323.70" y1="130.12" x2="335.50" y2="130.12" stroke="#e0332a" stroke-width="1.2" stroke-dasharray="1.3,1.6"/>
<text x="319.90" y="142.74" font-size="7.10" text-anchor="end" fill="#000" >MRST2004</text>
<line x1="323.70" y1="140.84" x2="335.50" y2="140.84" stroke="#4b4fb8" stroke-width="1.2" />
<text x="319.90" y="153.46" font-size="7.10" text-anchor="end" fill="#000" >CT14 0.00</text>
<line x1="323.70" y1="151.56" x2="335.50" y2="151.56" stroke="#239a4a" stroke-width="1.2" />
<text x="319.90" y="164.18" font-size="7.10" text-anchor="end" fill="#000" >CT14 0.14</text>
<line x1="323.70" y1="162.28" x2="335.50" y2="162.28" stroke="#239a4a" stroke-width="1.2" stroke-dasharray="1.3,1.6"/>
<text x="271.10" y="178.30" font-size="7.08" style="stroke-width:0.2px">Ratio Q=M / Q=m<tspan dy="1.6" font-size="5">t</tspan></text>
<rect x="268.10" y="209.7" width="93.84" height="6.3" fill="#fff"/>
<text x="271.10" y="216.20" font-size="7.20" text-anchor="start" fill="#000" style="stroke-width:0.2px">Ratio over NNPDF2.3, Q=M</text>
<rect x="268.10" y="248.0" width="96.75" height="5.4" fill="#fff"/>
<text x="271.10" y="254.80" font-size="7.2" style="stroke-width:0.2px">Ratio over NNPDF2.3, Q=m<tspan dy="1.6" font-size="5">t</tspan></text>
</g>
<g>
<clipPath id="cm2"><rect x="499.40" y="6.00" width="178.30" height="164.60"/></clipPath>
<clipPath id="ca2"><rect x="499.40" y="170.60" width="178.30" height="38.50"/></clipPath>
<clipPath id="cb2"><rect x="499.40" y="209.10" width="178.30" height="38.30"/></clipPath>
<clipPath id="cc2"><rect x="499.40" y="247.40" width="178.30" height="37.90"/></clipPath>
<g clip-path="url(#cm2)">
<path d="M500.0,17.4L500.0,17.9L500.1,18.4L500.1,19.0L500.2,19.6L500.2,20.2L500.2,20.8L500.3,21.4L500.3,22.0L500.4,22.7L500.5,23.4L500.5,24.0L500.6,24.7L500.7,25.5L500.7,26.2L500.8,26.9L500.9,27.7L501.0,28.5L501.1,29.2L501.2,30.0L501.3,30.8L501.4,31.7L501.5,32.5L501.6,33.3L501.8,34.2L501.9,35.1L502.1,35.9L502.2,36.8L502.4,37.7L502.6,38.6L502.8,39.6L503.0,40.5L503.2,41.4L503.4,42.4L503.6,43.3L503.9,44.3L504.1,45.2L504.4,46.2L504.7,47.2L505.0,48.2L505.4,49.2L505.7,50.2L506.1,51.3L506.5,52.3L506.9,53.3L507.3,54.4L507.8,55.4L508.3,56.5L508.8,57.5L509.4,58.6L509.9,59.5L511.8,62.6L513.7,65.4L515.6,67.8L517.4,70.0L519.3,72.0L521.2,73.8L523.1,75.5L525.0,77.1L526.9,78.6L528.8,80.0L530.6,81.4L532.5,82.7L534.4,83.9L536.3,85.1L538.2,86.2L540.1,87.3L542.0,88.4L543.8,89.5L545.7,90.5L547.6,91.5L549.5,92.5L551.4,93.4L553.3,94.3L555.1,95.3L557.0,96.1L558.9,97.0L560.8,97.9L562.7,98.7L564.6,99.6L566.5,100.4L568.3,101.2L570.2,102.0L572.1,102.8L574.0,103.6L575.9,104.3L577.8,105.1L579.7,105.8L581.5,106.6L583.4,107.3L585.3,108.0L587.2,108.7L589.1,109.5L591.0,110.2L592.9,110.8L594.7,111.5L596.6,112.2L598.5,112.9L600.4,113.6L602.3,114.3L604.2,114.9L606.1,115.6L607.9,116.3L609.8,117.0L611.7,117.6L613.6,118.3L615.5,119.0L617.4,119.6L619.3,120.3L621.1,120.9L623.0,121.6L624.9,122.2L626.8,122.9L628.7,123.5L630.6,124.2L632.5,124.8L634.3,125.5L636.2,126.2L638.1,126.8L640.0,127.5L641.9,128.1L643.8,128.8L645.6,129.4L647.5,130.1L649.4,130.7L651.3,131.4L653.2,132.1L655.1,132.7L657.0,133.4L658.8,134.0L660.7,134.7L662.6,135.3L664.5,136.0L666.4,136.7L668.3,137.3L670.2,138.0L672.0,138.6L673.9,139.3L675.8,140.0L677.7,140.6 L677.7,165.6L675.8,164.5L673.9,163.5L672.0,162.5L670.2,161.4L668.3,160.4L666.4,159.4L664.5,158.4L662.6,157.4L660.7,156.4L658.8,155.4L657.0,154.4L655.1,153.4L653.2,152.4L651.3,151.4L649.4,150.4L647.5,149.4L645.6,148.5L643.8,147.5L641.9,146.5L640.0,145.6L638.1,144.6L636.2,143.6L634.3,142.7L632.5,141.7L630.6,140.7L628.7,139.8L626.8,138.8L624.9,137.8L623.0,136.9L621.1,135.9L619.3,135.0L617.4,134.0L615.5,133.1L613.6,132.1L611.7,131.2L609.8,130.2L607.9,129.3L606.1,128.4L604.2,127.4L602.3,126.5L600.4,125.5L598.5,124.6L596.6,123.7L594.7,122.7L592.9,121.8L591.0,120.8L589.1,119.9L587.2,118.9L585.3,118.0L583.4,117.1L581.5,116.1L579.7,115.2L577.8,114.2L575.9,113.3L574.0,112.3L572.1,111.4L570.2,110.4L568.3,109.4L566.5,108.5L564.6,107.5L562.7,106.5L560.8,105.5L558.9,104.4L557.0,103.4L555.1,102.3L553.3,101.3L551.4,100.2L549.5,99.1L547.6,98.0L545.7,96.8L543.8,95.7L542.0,94.5L540.1,93.2L538.2,92.0L536.3,90.7L534.4,89.3L532.5,87.9L530.6,86.5L528.8,85.0L526.9,83.4L525.0,81.7L523.1,79.9L521.2,78.0L519.3,76.0L517.4,73.8L515.6,71.4L513.7,68.8L511.8,65.9L509.9,62.5L509.4,61.5L508.8,60.4L508.3,59.2L507.8,58.1L507.3,57.0L506.9,55.9L506.5,54.8L506.1,53.7L505.7,52.6L505.4,51.5L505.0,50.5L504.7,49.4L504.4,48.4L504.1,47.3L503.9,46.3L503.6,45.3L503.4,44.3L503.2,43.3L503.0,42.3L502.8,41.3L502.6,40.4L502.4,39.4L502.2,38.5L502.1,37.5L501.9,36.6L501.8,35.7L501.6,34.8L501.5,34.0L501.4,33.1L501.3,32.2L501.2,31.4L501.1,30.6L501.0,29.8L500.9,29.0L500.8,28.2L500.7,27.4L500.7,26.7L500.6,25.9L500.5,25.2L500.5,24.5L500.4,23.8L500.3,23.2L500.3,22.5L500.2,21.9L500.2,21.2L500.2,20.6L500.1,20.1L500.1,19.5L500.0,18.9L500.0,18.4 Z" fill="#fdcbb5" stroke="none"/>
<path d="M500.0,18.3L500.0,18.8L500.1,19.4L500.1,20.0L500.2,20.6L500.2,21.2L500.2,21.9L500.3,22.5L500.3,23.2L500.4,23.9L500.5,24.6L500.5,25.3L500.6,26.1L500.7,26.8L500.7,27.6L500.8,28.4L500.9,29.2L501.0,30.0L501.1,30.9L501.2,31.7L501.3,32.6L501.4,33.5L501.5,34.4L501.6,35.4L501.8,36.3L501.9,37.3L502.1,38.2L502.2,39.2L502.4,40.2L502.6,41.2L502.8,42.2L503.0,43.3L503.2,44.3L503.4,45.4L503.6,46.5L503.9,47.5L504.1,48.6L504.4,49.7L504.7,50.8L505.0,51.9L505.4,53.0L505.7,54.1L506.1,55.2L506.5,56.3L506.9,57.5L507.3,58.6L507.8,59.7L508.3,60.9L508.8,62.1L509.4,63.2L509.9,64.3L511.8,67.7L513.7,70.7L515.6,73.4L517.4,75.8L519.3,78.0L521.2,80.1L523.1,82.0L525.0,83.8L526.9,85.6L528.8,87.3L530.6,88.9L532.5,90.5L534.4,92.1L536.3,93.6L538.2,95.1L540.1,96.6L542.0,97.9L543.8,99.3L545.7,100.6L547.6,101.8L549.5,103.0L551.4,104.2L553.3,105.3L555.1,106.4L557.0,107.5L558.9,108.6L560.8,109.7L562.7,110.7L564.6,111.8L566.5,112.8L568.3,113.8L570.2,114.8L572.1,115.7L574.0,116.7L575.9,117.7L577.8,118.6L579.7,119.6L581.5,120.5L583.4,121.5L585.3,122.4L587.2,123.3L589.1,124.3L591.0,125.2L592.9,126.1L594.7,127.0L596.6,127.9L598.5,128.8L600.4,129.7L602.3,130.6L604.2,131.5L606.1,132.4L607.9,133.3L609.8,134.2L611.7,135.1L613.6,136.0L615.5,136.9L617.4,137.8L619.3,138.7L621.1,139.6L623.0,140.5L624.9,141.4L626.8,142.3L628.7,143.2L630.6,144.1L632.5,145.0L634.3,145.9L636.2,146.8L638.1,147.7L640.0,148.6L641.9,149.5L643.8,150.4L645.6,151.4L647.5,152.3L649.4,153.2L651.3,154.2L653.2,155.1L655.1,156.1L657.0,157.0L658.8,158.0L660.7,158.9L662.6,159.9L664.5,160.9L666.4,161.9L668.3,162.8L670.2,163.8L672.0,164.8L673.9,165.8L675.8,166.8L677.7,167.8 L677.7,171.8L675.8,170.7L673.9,169.6L672.0,168.5L670.2,167.4L668.3,166.4L666.4,165.3L664.5,164.3L662.6,163.2L660.7,162.2L658.8,161.1L657.0,160.1L655.1,159.1L653.2,158.1L651.3,157.1L649.4,156.2L647.5,155.2L645.6,154.3L643.8,153.3L641.9,152.4L640.0,151.5L638.1,150.6L636.2,149.7L634.3,148.8L632.5,147.9L630.6,147.1L628.7,146.2L626.8,145.3L624.9,144.4L623.0,143.6L621.1,142.7L619.3,141.8L617.4,141.0L615.5,140.1L613.6,139.2L611.7,138.3L609.8,137.4L607.9,136.6L606.1,135.7L604.2,134.7L602.3,133.8L600.4,132.9L598.5,132.0L596.6,131.1L594.7,130.1L592.9,129.2L591.0,128.3L589.1,127.3L587.2,126.4L585.3,125.4L583.4,124.4L581.5,123.5L579.7,122.5L577.8,121.5L575.9,120.5L574.0,119.5L572.1,118.5L570.2,117.4L568.3,116.4L566.5,115.3L564.6,114.3L562.7,113.2L560.8,112.1L558.9,111.0L557.0,109.9L555.1,108.7L553.3,107.5L551.4,106.4L549.5,105.2L547.6,103.9L545.7,102.7L543.8,101.4L542.0,100.1L540.1,98.8L538.2,97.4L536.3,96.0L534.4,94.6L532.5,93.1L530.6,91.5L528.8,89.9L526.9,88.1L525.0,86.3L523.1,84.4L521.2,82.4L519.3,80.3L517.4,78.0L515.6,75.5L513.7,72.7L511.8,69.5L509.9,65.9L509.4,64.9L508.8,63.6L508.3,62.4L507.8,61.2L507.3,60.0L506.9,58.8L506.5,57.7L506.1,56.5L505.7,55.3L505.4,54.2L505.0,53.1L504.7,51.9L504.4,50.8L504.1,49.7L503.9,48.6L503.6,47.4L503.4,46.3L503.2,45.2L503.0,44.1L502.8,43.0L502.6,42.0L502.4,40.9L502.2,39.9L502.1,38.9L501.9,37.9L501.8,36.9L501.6,35.9L501.5,35.0L501.4,34.0L501.3,33.1L501.2,32.2L501.1,31.3L501.0,30.4L500.9,29.6L500.8,28.7L500.7,27.9L500.7,27.1L500.6,26.4L500.5,25.6L500.5,24.9L500.4,24.1L500.3,23.4L500.3,22.7L500.2,22.1L500.2,21.4L500.2,20.8L500.1,20.2L500.1,19.6L500.0,19.0L500.0,18.4 Z" fill="#cfe8cc" stroke="none"/>
<path d="M500.0,17.0L500.0,17.5L500.1,18.1L500.1,18.7L500.2,19.3L500.2,19.9L500.2,20.5L500.3,21.1L500.3,21.8L500.4,22.4L500.5,23.1L500.5,23.8L500.6,24.5L500.7,25.2L500.7,26.0L500.8,26.8L500.9,27.5L501.0,28.3L501.1,29.1L501.2,29.9L501.3,30.8L501.4,31.6L501.5,32.5L501.6,33.4L501.8,34.2L501.9,35.1L502.1,36.0L502.2,37.0L502.4,37.9L502.6,38.8L502.8,39.8L503.0,40.8L503.2,41.7L503.4,42.7L503.6,43.7L503.9,44.7L504.1,45.7L504.4,46.7L504.7,47.8L505.0,48.8L505.4,49.9L505.7,50.9L506.1,52.0L506.5,53.0L506.9,54.1L507.3,55.2L507.8,56.3L508.3,57.4L508.8,58.5L509.4,59.6L509.9,60.6L511.8,63.9L513.7,66.7L515.6,69.3L517.4,71.6L519.3,73.7L521.2,75.7L523.1,77.5L525.0,79.2L526.9,80.8L528.8,82.3L530.6,83.7L532.5,85.1L534.4,86.4L536.3,87.7L538.2,88.9L540.1,90.1L542.0,91.2L543.8,92.3L545.7,93.4L547.6,94.4L549.5,95.4L551.4,96.4L553.3,97.4L555.1,98.3L557.0,99.2L558.9,100.1L560.8,101.0L562.7,101.9L564.6,102.8L566.5,103.6L568.3,104.4L570.2,105.3L572.1,106.1L574.0,106.9L575.9,107.7L577.8,108.5L579.7,109.2L581.5,110.0L583.4,110.8L585.3,111.5L587.2,112.3L589.1,113.0L591.0,113.7L592.9,114.5L594.7,115.2L596.6,115.9L598.5,116.6L600.4,117.3L602.3,118.0L604.2,118.8L606.1,119.5L607.9,120.2L609.8,120.8L611.7,121.5L613.6,122.2L615.5,122.9L617.4,123.6L619.3,124.3L621.1,125.0L623.0,125.6L624.9,126.3L626.8,127.0L628.7,127.7L630.6,128.3L632.5,129.0L634.3,129.7L636.2,130.3L638.1,131.0L640.0,131.7L641.9,132.3L643.8,133.0L645.6,133.7L647.5,134.3L649.4,135.0L651.3,135.7L653.2,136.3L655.1,137.0L657.0,137.7L658.8,138.3L660.7,139.0L662.6,139.7L664.5,140.3L666.4,141.0L668.3,141.7L670.2,142.3L672.0,143.0L673.9,143.7L675.8,144.3L677.7,145.0" fill="none" stroke="#e0332a" stroke-width="1.0"/>
<path d="M500.0,17.8L500.0,18.3L500.1,18.9L500.1,19.5L500.2,20.1L500.2,20.7L500.2,21.3L500.3,21.9L500.3,22.6L500.4,23.2L500.5,23.9L500.5,24.6L500.6,25.3L500.7,26.0L500.7,26.8L500.8,27.6L500.9,28.3L501.0,29.1L501.1,29.9L501.2,30.7L501.3,31.6L501.4,32.4L501.5,33.3L501.6,34.2L501.8,35.0L501.9,35.9L502.1,36.8L502.2,37.8L502.4,38.7L502.6,39.6L502.8,40.6L503.0,41.6L503.2,42.5L503.4,43.5L503.6,44.5L503.9,45.5L504.1,46.5L504.4,47.5L504.7,48.6L505.0,49.6L505.4,50.7L505.7,51.7L506.1,52.8L506.5,53.8L506.9,54.9L507.3,56.0L507.8,57.1L508.3,58.2L508.8,59.3L509.4,60.4L509.9,61.4L511.8,64.7L513.7,67.5L515.6,70.1L517.4,72.4L519.3,74.5L521.2,76.5L523.1,78.3L525.0,80.0L526.9,81.6L528.8,83.1L530.6,84.5L532.5,85.9L534.4,87.2L536.3,88.5L538.2,89.7L540.1,90.9L542.0,92.0L543.8,93.1L545.7,94.2L547.6,95.2L549.5,96.2L551.4,97.2L553.3,98.2L555.1,99.1L557.0,100.0L558.9,100.9L560.8,101.8L562.7,102.7L564.6,103.6L566.5,104.4L568.3,105.2L570.2,106.1L572.1,106.9L574.0,107.7L575.9,108.5L577.8,109.3L579.7,110.0L581.5,110.8L583.4,111.6L585.3,112.3L587.2,113.1L589.1,113.8L591.0,114.5L592.9,115.3L594.7,116.0L596.6,116.7L598.5,117.4L600.4,118.1L602.3,118.8L604.2,119.6L606.1,120.3L607.9,121.0L609.8,121.6L611.7,122.3L613.6,123.0L615.5,123.7L617.4,124.4L619.3,125.1L621.1,125.8L623.0,126.4L624.9,127.1L626.8,127.8L628.7,128.5L630.6,129.1L632.5,129.8L634.3,130.5L636.2,131.1L638.1,131.8L640.0,132.5L641.9,133.1L643.8,133.8L645.6,134.5L647.5,135.1L649.4,135.8L651.3,136.5L653.2,137.1L655.1,137.8L657.0,138.5L658.8,139.1L660.7,139.8L662.6,140.5L664.5,141.1L666.4,141.8L668.3,142.5L670.2,143.1L672.0,143.8L673.9,144.5L675.8,145.1L677.7,145.8" fill="none" stroke="#e0332a" stroke-width="1.5" stroke-dasharray="1.4,1.45"/>
<path d="M500.0,18.1L500.0,18.6L500.1,19.2L500.1,19.7L500.2,20.3L500.2,20.9L500.2,21.5L500.3,22.2L500.3,22.8L500.4,23.5L500.5,24.2L500.5,24.9L500.6,25.6L500.7,26.3L500.7,27.1L500.8,27.9L500.9,28.6L501.0,29.4L501.1,30.2L501.2,31.1L501.3,31.9L501.4,32.7L501.5,33.6L501.6,34.5L501.8,35.4L501.9,36.3L502.1,37.2L502.2,38.1L502.4,39.1L502.6,40.0L502.8,41.0L503.0,42.0L503.2,43.0L503.4,44.0L503.6,45.0L503.9,46.0L504.1,47.0L504.4,48.0L504.7,49.1L505.0,50.2L505.4,51.2L505.7,52.3L506.1,53.4L506.5,54.5L506.9,55.6L507.3,56.7L507.8,57.9L508.3,59.0L508.8,60.2L509.4,61.3L509.9,62.3L511.8,65.8L513.7,68.8L515.6,71.6L517.4,74.0L519.3,76.3L521.2,78.5L523.1,80.4L525.0,82.3L526.9,84.0L528.8,85.6L530.6,87.2L532.5,88.6L534.4,90.0L536.3,91.3L538.2,92.6L540.1,93.9L542.0,95.1L543.8,96.3L545.7,97.5L547.6,98.6L549.5,99.8L551.4,100.9L553.3,102.0L555.1,103.1L557.0,104.2L558.9,105.3L560.8,106.3L562.7,107.4L564.6,108.4L566.5,109.4L568.3,110.4L570.2,111.4L572.1,112.4L574.0,113.4L575.9,114.4L577.8,115.3L579.7,116.3L581.5,117.2L583.4,118.1L585.3,119.0L587.2,119.9L589.1,120.8L591.0,121.7L592.9,122.5L594.7,123.4L596.6,124.3L598.5,125.1L600.4,126.0L602.3,126.9L604.2,127.8L606.1,128.6L607.9,129.5L609.8,130.4L611.7,131.3L613.6,132.2L615.5,133.1L617.4,133.9L619.3,134.8L621.1,135.7L623.0,136.6L624.9,137.5L626.8,138.4L628.7,139.3L630.6,140.2L632.5,141.1L634.3,142.0L636.2,142.9L638.1,143.8L640.0,144.7L641.9,145.7L643.8,146.6L645.6,147.5L647.5,148.4L649.4,149.3L651.3,150.2L653.2,151.2L655.1,152.1L657.0,153.0L658.8,154.0L660.7,154.9L662.6,155.9L664.5,156.8L666.4,157.8L668.3,158.8L670.2,159.7L672.0,160.7L673.9,161.7L675.8,162.6L677.7,163.6" fill="none" stroke="#4b4fb8" stroke-width="1.20"/>
<path d="M500.0,18.4L500.0,19.0L500.1,19.6L500.1,20.2L500.2,20.8L500.2,21.4L500.2,22.1L500.3,22.7L500.3,23.4L500.4,24.1L500.5,24.9L500.5,25.6L500.6,26.4L500.7,27.1L500.7,27.9L500.8,28.7L500.9,29.6L501.0,30.4L501.1,31.3L501.2,32.2L501.3,33.1L501.4,34.0L501.5,35.0L501.6,35.9L501.8,36.9L501.9,37.9L502.1,38.9L502.2,39.9L502.4,40.9L502.6,42.0L502.8,43.0L503.0,44.1L503.2,45.2L503.4,46.3L503.6,47.4L503.9,48.6L504.1,49.7L504.4,50.8L504.7,51.9L505.0,53.1L505.4,54.2L505.7,55.3L506.1,56.5L506.5,57.7L506.9,58.8L507.3,60.0L507.8,61.2L508.3,62.4L508.8,63.6L509.4,64.9L509.9,65.9L511.8,69.5L513.7,72.7L515.6,75.5L517.4,78.0L519.3,80.3L521.2,82.4L523.1,84.4L525.0,86.3L526.9,88.1L528.8,89.9L530.6,91.5L532.5,93.1L534.4,94.6L536.3,96.0L538.2,97.4L540.1,98.8L542.0,100.1L543.8,101.4L545.7,102.7L547.6,103.9L549.5,105.2L551.4,106.4L553.3,107.5L555.1,108.7L557.0,109.9L558.9,111.0L560.8,112.1L562.7,113.2L564.6,114.3L566.5,115.3L568.3,116.4L570.2,117.4L572.1,118.5L574.0,119.5L575.9,120.5L577.8,121.5L579.7,122.5L581.5,123.5L583.4,124.4L585.3,125.4L587.2,126.4L589.1,127.3L591.0,128.3L592.9,129.2L594.7,130.1L596.6,131.1L598.5,132.0L600.4,132.9L602.3,133.8L604.2,134.7L606.1,135.7L607.9,136.6L609.8,137.4L611.7,138.3L613.6,139.2L615.5,140.1L617.4,141.0L619.3,141.8L621.1,142.7L623.0,143.6L624.9,144.4L626.8,145.3L628.7,146.2L630.6,147.1L632.5,147.9L634.3,148.8L636.2,149.7L638.1,150.6L640.0,151.5L641.9,152.4L643.8,153.3L645.6,154.3L647.5,155.2L649.4,156.2L651.3,157.1L653.2,158.1L655.1,159.1L657.0,160.1L658.8,161.1L660.7,162.2L662.6,163.2L664.5,164.3L666.4,165.3L668.3,166.4L670.2,167.4L672.0,168.5L673.9,169.6L675.8,170.7L677.7,171.8" fill="none" stroke="#239a4a" stroke-width="1.20"/>
<path d="M500.0,18.3L500.0,18.8L500.1,19.4L500.1,20.0L500.2,20.6L500.2,21.2L500.2,21.9L500.3,22.5L500.3,23.2L500.4,23.9L500.5,24.6L500.5,25.3L500.6,26.1L500.7,26.8L500.7,27.6L500.8,28.4L500.9,29.2L501.0,30.0L501.1,30.9L501.2,31.7L501.3,32.6L501.4,33.5L501.5,34.4L501.6,35.4L501.8,36.3L501.9,37.3L502.1,38.2L502.2,39.2L502.4,40.2L502.6,41.2L502.8,42.2L503.0,43.3L503.2,44.3L503.4,45.4L503.6,46.5L503.9,47.5L504.1,48.6L504.4,49.7L504.7,50.8L505.0,51.9L505.4,53.0L505.7,54.1L506.1,55.2L506.5,56.3L506.9,57.5L507.3,58.6L507.8,59.7L508.3,60.9L508.8,62.1L509.4,63.2L509.9,64.3L511.8,67.7L513.7,70.7L515.6,73.4L517.4,75.8L519.3,78.0L521.2,80.1L523.1,82.0L525.0,83.8L526.9,85.6L528.8,87.3L530.6,88.9L532.5,90.5L534.4,92.1L536.3,93.6L538.2,95.1L540.1,96.6L542.0,97.9L543.8,99.3L545.7,100.6L547.6,101.8L549.5,103.0L551.4,104.2L553.3,105.3L555.1,106.4L557.0,107.5L558.9,108.6L560.8,109.7L562.7,110.7L564.6,111.8L566.5,112.8L568.3,113.8L570.2,114.8L572.1,115.7L574.0,116.7L575.9,117.7L577.8,118.6L579.7,119.6L581.5,120.5L583.4,121.5L585.3,122.4L587.2,123.3L589.1,124.3L591.0,125.2L592.9,126.1L594.7,127.0L596.6,127.9L598.5,128.8L600.4,129.7L602.3,130.6L604.2,131.5L606.1,132.4L607.9,133.3L609.8,134.2L611.7,135.1L613.6,136.0L615.5,136.9L617.4,137.8L619.3,138.7L621.1,139.6L623.0,140.5L624.9,141.4L626.8,142.3L628.7,143.2L630.6,144.1L632.5,145.0L634.3,145.9L636.2,146.8L638.1,147.7L640.0,148.6L641.9,149.5L643.8,150.4L645.6,151.4L647.5,152.3L649.4,153.2L651.3,154.2L653.2,155.1L655.1,156.1L657.0,157.0L658.8,158.0L660.7,158.9L662.6,159.9L664.5,160.9L666.4,161.9L668.3,162.8L670.2,163.8L672.0,164.8L673.9,165.8L675.8,166.8L677.7,167.8" fill="none" stroke="#239a4a" stroke-width="1.20" stroke-dasharray="1.3,1.6"/>
</g>
<g clip-path="url(#cb2)">
<path d="M499.4,217.9L502.4,217.3L505.4,216.9L508.5,216.6L511.5,216.3L514.5,216.1L517.5,215.9L520.6,215.8L523.6,215.6L526.6,215.5L529.6,215.3L532.6,215.2L535.7,215.1L538.7,215.0L541.7,214.9L544.7,214.8L547.8,214.7L550.8,214.7L553.8,214.6L556.8,214.6L559.8,214.5L562.9,214.5L565.9,214.5L568.9,214.4L571.9,214.4L575.0,214.4L578.0,214.3L581.0,214.3L584.0,214.2L587.0,214.2L590.1,214.1L593.1,214.1L596.1,214.0L599.1,214.0L602.1,213.9L605.2,213.9L608.2,213.9L611.2,213.8L614.2,213.8L617.3,213.7L620.3,213.7L623.3,213.7L626.3,213.6L629.3,213.6L632.4,213.6L635.4,213.6L638.4,213.5L641.4,213.5L644.5,213.5L647.5,213.5L650.5,213.5L653.5,213.5L656.5,213.4L659.6,213.4L662.6,213.4L665.6,213.4L668.6,213.4L671.7,213.4L674.7,213.4L677.7,213.4 L677.7,236.6L674.7,236.0L671.7,235.5L668.6,235.0L665.6,234.4L662.6,233.9L659.6,233.4L656.5,232.9L653.5,232.4L650.5,231.9L647.5,231.5L644.5,231.0L641.4,230.6L638.4,230.1L635.4,229.7L632.4,229.2L629.3,228.8L626.3,228.4L623.3,227.9L620.3,227.5L617.3,227.1L614.2,226.7L611.2,226.4L608.2,226.0L605.2,225.6L602.1,225.3L599.1,224.9L596.1,224.6L593.1,224.3L590.1,223.9L587.0,223.6L584.0,223.4L581.0,223.1L578.0,222.8L575.0,222.6L571.9,222.4L568.9,222.1L565.9,221.9L562.9,221.7L559.8,221.5L556.8,221.3L553.8,221.1L550.8,220.9L547.8,220.8L544.7,220.6L541.7,220.5L538.7,220.3L535.7,220.2L532.6,220.1L529.6,220.0L526.6,219.8L523.6,219.7L520.6,219.6L517.5,219.5L514.5,219.4L511.5,219.3L508.5,219.2L505.4,219.0L502.4,218.9L499.4,218.7 Z" fill="#fdcbb5" stroke="none"/>
<path d="M499.4,218.0L502.4,218.0L505.4,218.0L508.5,218.0L511.5,218.0L514.5,218.0L517.5,218.0L520.6,218.0L523.6,218.0L526.6,218.0L529.6,218.0L532.6,218.0L535.7,218.0L538.7,218.0L541.7,218.0L544.7,218.0L547.8,218.0L550.8,218.0L553.8,218.0L556.8,218.0L559.8,218.0L562.9,218.0L565.9,218.0L568.9,218.0L571.9,218.0L575.0,218.0L578.0,218.0L581.0,218.0L584.0,218.0L587.0,218.0L590.1,218.0L593.1,218.0L596.1,218.0L599.1,218.0L602.1,218.0L605.2,218.0L608.2,218.0L611.2,218.0L614.2,218.0L617.3,218.0L620.3,218.0L623.3,218.0L626.3,218.0L629.3,218.0L632.4,218.0L635.4,218.0L638.4,218.0L641.4,218.0L644.5,218.0L647.5,218.0L650.5,218.0L653.5,218.0L656.5,218.0L659.6,218.0L662.6,218.0L665.6,218.0L668.6,218.0L671.7,218.0L674.7,218.0L677.7,218.0" fill="none" stroke="#e43a2e" stroke-width="1.2"/>
<path d="M499.4,218.7L502.4,218.7L505.4,218.7L508.5,218.7L511.5,218.7L514.5,218.7L517.5,218.7L520.6,218.7L523.6,218.7L526.6,218.7L529.6,218.7L532.6,218.7L535.7,218.7L538.7,218.7L541.7,218.7L544.7,218.7L547.8,218.7L550.8,218.7L553.8,218.7L556.8,218.7L559.8,218.7L562.9,218.7L565.9,218.7L568.9,218.7L571.9,218.7L575.0,218.7L578.0,218.7L581.0,218.7L584.0,218.7L587.0,218.7L590.1,218.7L593.1,218.7L596.1,218.7L599.1,218.7L602.1,218.7L605.2,218.7L608.2,218.7L611.2,218.7L614.2,218.7L617.3,218.7L620.3,218.7L623.3,218.7L626.3,218.7L629.3,218.7L632.4,218.7L635.4,218.7L638.4,218.7L641.4,218.7L644.5,218.7L647.5,218.7L650.5,218.7L653.5,218.7L656.5,218.7L659.6,218.7L662.6,218.7L665.6,218.7L668.6,218.7L671.7,218.7L674.7,218.7L677.7,218.7" fill="none" stroke="#dc2418" stroke-width="1.3" stroke-dasharray="1.4,1.45"/>
<path d="M499.4,218.4L502.4,218.6L505.4,218.7L508.5,218.9L511.5,219.2L514.5,219.4L517.5,219.7L520.6,220.0L523.6,220.2L526.6,220.4L529.6,220.6L532.6,220.7L535.7,220.8L538.7,220.9L541.7,221.1L544.7,221.2L547.8,221.4L550.8,221.6L553.8,221.8L556.8,222.0L559.8,222.3L562.9,222.6L565.9,222.8L568.9,223.1L571.9,223.3L575.0,223.6L578.0,223.8L581.0,224.1L584.0,224.3L587.0,224.5L590.1,224.7L593.1,225.0L596.1,225.2L599.1,225.4L602.1,225.7L605.2,225.9L608.2,226.2L611.2,226.5L614.2,226.8L617.3,227.1L620.3,227.4L623.3,227.7L626.3,228.0L629.3,228.4L632.4,228.7L635.4,229.1L638.4,229.4L641.4,229.8L644.5,230.1L647.5,230.5L650.5,230.9L653.5,231.3L656.5,231.7L659.6,232.1L662.6,232.5L665.6,232.9L668.6,233.4L671.7,233.8L674.7,234.3L677.7,234.7" fill="none" stroke="#4b4fb8" stroke-width="1.20"/>
<path d="M499.4,218.4L502.4,220.3L505.4,221.5L508.5,222.1L511.5,222.6L514.5,223.0L517.5,223.4L520.6,223.7L523.6,224.0L526.6,224.3L529.6,224.6L532.6,224.9L535.7,225.2L538.7,225.5L541.7,225.7L544.7,226.0L547.8,226.3L550.8,226.7L553.8,227.0L556.8,227.3L559.8,227.6L562.9,228.0L565.9,228.3L568.9,228.6L571.9,228.9L575.0,229.3L578.0,229.6L581.0,229.9L584.0,230.2L587.0,230.5L590.1,230.9L593.1,231.2L596.1,231.5L599.1,231.8L602.1,232.1L605.2,232.4L608.2,232.7L611.2,233.0L614.2,233.3L617.3,233.6L620.3,233.9L623.3,234.1L626.3,234.4L629.3,234.7L632.4,235.0L635.4,235.4L638.4,235.7L641.4,236.0L644.5,236.4L647.5,236.8L650.5,237.3L653.5,237.7L656.5,238.2L659.6,238.8L662.6,239.3L665.6,239.9L668.6,240.5L671.7,241.1L674.7,241.7L677.7,242.4" fill="none" stroke="#239a4a" stroke-width="1.20"/>
<path d="M499.4,218.4L502.4,219.6L505.4,220.4L508.5,220.7L511.5,221.0L514.5,221.2L517.5,221.3L520.6,221.5L523.6,221.7L526.6,221.9L529.6,222.2L532.6,222.5L535.7,222.9L538.7,223.3L541.7,223.7L544.7,224.0L547.8,224.3L550.8,224.6L553.8,224.9L556.8,225.2L559.8,225.4L562.9,225.7L565.9,225.9L568.9,226.2L571.9,226.4L575.0,226.7L578.0,226.9L581.0,227.2L584.0,227.5L587.0,227.7L590.1,228.0L593.1,228.3L596.1,228.6L599.1,228.8L602.1,229.1L605.2,229.4L608.2,229.7L611.2,230.0L614.2,230.3L617.3,230.6L620.3,231.0L623.3,231.3L626.3,231.6L629.3,231.9L632.4,232.3L635.4,232.6L638.4,233.0L641.4,233.4L644.5,233.7L647.5,234.1L650.5,234.5L653.5,234.9L656.5,235.4L659.6,235.8L662.6,236.3L665.6,236.7L668.6,237.2L671.7,237.7L674.7,238.2L677.7,238.6" fill="none" stroke="#239a4a" stroke-width="1.20" stroke-dasharray="1.3,1.6"/>
</g>
<g clip-path="url(#cc2)">
<path d="M499.4,256.7L502.4,256.1L505.4,255.7L508.5,255.4L511.5,255.1L514.5,254.9L517.5,254.7L520.6,254.6L523.6,254.4L526.6,254.3L529.6,254.1L532.6,254.0L535.7,253.9L538.7,253.8L541.7,253.7L544.7,253.6L547.8,253.5L550.8,253.5L553.8,253.4L556.8,253.4L559.8,253.3L562.9,253.3L565.9,253.3L568.9,253.2L571.9,253.2L575.0,253.2L578.0,253.1L581.0,253.1L584.0,253.0L587.0,253.0L590.1,252.9L593.1,252.9L596.1,252.8L599.1,252.8L602.1,252.7L605.2,252.7L608.2,252.7L611.2,252.6L614.2,252.6L617.3,252.5L620.3,252.5L623.3,252.5L626.3,252.4L629.3,252.4L632.4,252.4L635.4,252.4L638.4,252.3L641.4,252.3L644.5,252.3L647.5,252.3L650.5,252.3L653.5,252.3L656.5,252.2L659.6,252.2L662.6,252.2L665.6,252.2L668.6,252.2L671.7,252.2L674.7,252.2L677.7,252.2 L677.7,274.9L674.7,274.3L671.7,273.8L668.6,273.3L665.6,272.7L662.6,272.2L659.6,271.7L656.5,271.2L653.5,270.7L650.5,270.2L647.5,269.8L644.5,269.3L641.4,268.9L638.4,268.4L635.4,268.0L632.4,267.5L629.3,267.1L626.3,266.7L623.3,266.2L620.3,265.8L617.3,265.4L614.2,265.0L611.2,264.7L608.2,264.3L605.2,263.9L602.1,263.6L599.1,263.2L596.1,262.9L593.1,262.6L590.1,262.2L587.0,261.9L584.0,261.7L581.0,261.4L578.0,261.1L575.0,260.9L571.9,260.7L568.9,260.4L565.9,260.2L562.9,260.0L559.8,259.8L556.8,259.6L553.8,259.4L550.8,259.2L547.8,259.1L544.7,258.9L541.7,258.8L538.7,258.6L535.7,258.5L532.6,258.4L529.6,258.3L526.6,258.1L523.6,258.0L520.6,257.9L517.5,257.8L514.5,257.7L511.5,257.6L508.5,257.5L505.4,257.3L502.4,257.2L499.4,257.0 Z" fill="#fdcbb5" stroke="none"/>
<path d="M499.4,256.3L502.4,256.3L505.4,256.3L508.5,256.3L511.5,256.3L514.5,256.3L517.5,256.3L520.6,256.3L523.6,256.3L526.6,256.3L529.6,256.3L532.6,256.3L535.7,256.3L538.7,256.3L541.7,256.3L544.7,256.3L547.8,256.3L550.8,256.3L553.8,256.3L556.8,256.3L559.8,256.3L562.9,256.3L565.9,256.3L568.9,256.3L571.9,256.3L575.0,256.3L578.0,256.3L581.0,256.3L584.0,256.3L587.0,256.3L590.1,256.3L593.1,256.3L596.1,256.3L599.1,256.3L602.1,256.3L605.2,256.3L608.2,256.3L611.2,256.3L614.2,256.3L617.3,256.3L620.3,256.3L623.3,256.3L626.3,256.3L629.3,256.3L632.4,256.3L635.4,256.3L638.4,256.3L641.4,256.3L644.5,256.3L647.5,256.3L650.5,256.3L653.5,256.3L656.5,256.3L659.6,256.3L662.6,256.3L665.6,256.3L668.6,256.3L671.7,256.3L674.7,256.3L677.7,256.3" fill="none" stroke="#e43a2e" stroke-width="1.2"/>
<path d="M499.4,257.0L502.4,257.0L505.4,257.0L508.5,257.0L511.5,257.0L514.5,257.0L517.5,257.0L520.6,257.0L523.6,257.0L526.6,257.0L529.6,257.0L532.6,257.0L535.7,257.0L538.7,257.0L541.7,257.0L544.7,257.0L547.8,257.0L550.8,257.0L553.8,257.0L556.8,257.0L559.8,257.0L562.9,257.0L565.9,257.0L568.9,257.0L571.9,257.0L575.0,257.0L578.0,257.0L581.0,257.0L584.0,257.0L587.0,257.0L590.1,257.0L593.1,257.0L596.1,257.0L599.1,257.0L602.1,257.0L605.2,257.0L608.2,257.0L611.2,257.0L614.2,257.0L617.3,257.0L620.3,257.0L623.3,257.0L626.3,257.0L629.3,257.0L632.4,257.0L635.4,257.0L638.4,257.0L641.4,257.0L644.5,257.0L647.5,257.0L650.5,257.0L653.5,257.0L656.5,257.0L659.6,257.0L662.6,257.0L665.6,257.0L668.6,257.0L671.7,257.0L674.7,257.0L677.7,257.0" fill="none" stroke="#dc2418" stroke-width="1.3" stroke-dasharray="1.4,1.45"/>
<path d="M499.4,256.7L502.4,256.9L505.4,257.0L508.5,257.2L511.5,257.5L514.5,257.7L517.5,258.0L520.6,258.3L523.6,258.5L526.6,258.7L529.6,258.9L532.6,259.0L535.7,259.1L538.7,259.2L541.7,259.4L544.7,259.5L547.8,259.7L550.8,259.9L553.8,260.1L556.8,260.3L559.8,260.6L562.9,260.9L565.9,261.1L568.9,261.4L571.9,261.6L575.0,261.9L578.0,262.1L581.0,262.4L584.0,262.6L587.0,262.8L590.1,263.0L593.1,263.3L596.1,263.5L599.1,263.7L602.1,264.0L605.2,264.2L608.2,264.5L611.2,264.8L614.2,265.1L617.3,265.4L620.3,265.7L623.3,266.0L626.3,266.3L629.3,266.7L632.4,267.0L635.4,267.4L638.4,267.7L641.4,268.1L644.5,268.4L647.5,268.8L650.5,269.2L653.5,269.6L656.5,270.0L659.6,270.4L662.6,270.8L665.6,271.2L668.6,271.7L671.7,272.1L674.7,272.6L677.7,273.0" fill="none" stroke="#4b4fb8" stroke-width="1.20"/>
<path d="M499.4,256.7L502.4,258.6L505.4,259.8L508.5,260.4L511.5,260.9L514.5,261.3L517.5,261.7L520.6,262.0L523.6,262.3L526.6,262.6L529.6,262.9L532.6,263.2L535.7,263.5L538.7,263.8L541.7,264.0L544.7,264.3L547.8,264.6L550.8,265.0L553.8,265.3L556.8,265.6L559.8,265.9L562.9,266.3L565.9,266.6L568.9,266.9L571.9,267.2L575.0,267.6L578.0,267.9L581.0,268.2L584.0,268.5L587.0,268.8L590.1,269.2L593.1,269.5L596.1,269.8L599.1,270.1L602.1,270.4L605.2,270.7L608.2,271.0L611.2,271.3L614.2,271.6L617.3,271.9L620.3,272.2L623.3,272.4L626.3,272.7L629.3,273.0L632.4,273.3L635.4,273.7L638.4,274.0L641.4,274.3L644.5,274.7L647.5,275.1L650.5,275.6L653.5,276.0L656.5,276.5L659.6,277.1L662.6,277.6L665.6,278.2L668.6,278.8L671.7,279.4L674.7,280.0L677.7,280.7" fill="none" stroke="#239a4a" stroke-width="1.20"/>
<path d="M499.4,256.7L502.4,257.9L505.4,258.7L508.5,259.0L511.5,259.3L514.5,259.5L517.5,259.6L520.6,259.8L523.6,260.0L526.6,260.2L529.6,260.5L532.6,260.8L535.7,261.2L538.7,261.6L541.7,262.0L544.7,262.3L547.8,262.6L550.8,262.9L553.8,263.2L556.8,263.5L559.8,263.7L562.9,264.0L565.9,264.2L568.9,264.5L571.9,264.7L575.0,265.0L578.0,265.2L581.0,265.5L584.0,265.8L587.0,266.0L590.1,266.3L593.1,266.6L596.1,266.9L599.1,267.1L602.1,267.4L605.2,267.7L608.2,268.0L611.2,268.3L614.2,268.6L617.3,268.9L620.3,269.3L623.3,269.6L626.3,269.9L629.3,270.2L632.4,270.6L635.4,270.9L638.4,271.3L641.4,271.7L644.5,272.0L647.5,272.4L650.5,272.8L653.5,273.2L656.5,273.7L659.6,274.1L662.6,274.6L665.6,275.0L668.6,275.5L671.7,276.0L674.7,276.5L677.7,276.9" fill="none" stroke="#239a4a" stroke-width="1.20" stroke-dasharray="1.3,1.6"/>
</g>
<g clip-path="url(#ca2)">
<line x1="499.40" y1="188.85" x2="677.70" y2="188.85" stroke="#7a7a7a" stroke-width="1.1" stroke-dasharray="2.6,2.97" stroke-dashoffset="-0.8"/>
<path d="M499.4,184.1L501.4,181.1L503.4,181.2L505.4,181.5L507.4,181.9L509.4,182.4L511.4,182.8L513.4,183.3L515.4,183.9L517.4,184.5L519.4,185.1L521.4,185.6L523.4,186.1L525.4,186.7L527.4,187.2L529.5,187.7L531.5,188.2L533.5,188.7L535.5,189.1L537.5,189.5L539.5,189.8L541.5,190.2L543.5,190.5L545.5,190.8L547.5,191.1L549.5,191.4L551.5,191.7L553.5,192.0L555.5,192.3L557.5,192.5L559.5,192.8L561.5,193.0L563.5,193.3L565.5,193.5L567.5,193.8L569.5,194.0L571.5,194.2L573.5,194.5L575.5,194.7L577.5,194.9L579.5,195.1L581.5,195.3L583.5,195.5L585.5,195.7L587.5,195.9L589.6,196.1L591.6,196.3L593.6,196.5L595.6,196.6L597.6,196.8L599.6,197.0L601.6,197.2L603.6,197.3L605.6,197.5L607.6,197.7L609.6,197.8L611.6,198.0L613.6,198.2L615.6,198.3L617.6,198.5L619.6,198.6L621.6,198.8L623.6,198.9L625.6,199.1L627.6,199.2L629.6,199.4L631.6,199.5L633.6,199.7L635.6,199.8L637.6,200.0L639.6,200.1L641.6,200.2L643.6,200.4L645.6,200.5L647.6,200.6L649.7,200.7L651.7,200.9L653.7,201.0L655.7,201.1L657.7,201.2L659.7,201.3L661.7,201.4L663.7,201.5L665.7,201.6L667.7,201.7L669.7,201.8L671.7,201.9L673.7,202.0L675.7,202.0L677.7,202.1" fill="none" stroke="#e0332a" stroke-width="1.0"/>
<path d="M499.4,185.3L501.4,182.3L503.4,182.4L505.4,182.7L507.4,183.1L509.4,183.6L511.4,184.0L513.4,184.5L515.4,185.1L517.4,185.7L519.4,186.3L521.4,186.8L523.4,187.3L525.4,187.9L527.4,188.4L529.5,188.9L531.5,189.4L533.5,189.9L535.5,190.3L537.5,190.7L539.5,191.0L541.5,191.4L543.5,191.7L545.5,192.0L547.5,192.3L549.5,192.6L551.5,192.9L553.5,193.2L555.5,193.5L557.5,193.7L559.5,194.0L561.5,194.2L563.5,194.5L565.5,194.7L567.5,195.0L569.5,195.2L571.5,195.4L573.5,195.7L575.5,195.9L577.5,196.1L579.5,196.3L581.5,196.5L583.5,196.7L585.5,196.9L587.5,197.1L589.6,197.3L591.6,197.5L593.6,197.7L595.6,197.8L597.6,198.0L599.6,198.2L601.6,198.4L603.6,198.5L605.6,198.7L607.6,198.9L609.6,199.0L611.6,199.2L613.6,199.4L615.6,199.5L617.6,199.7L619.6,199.8L621.6,200.0L623.6,200.1L625.6,200.3L627.6,200.4L629.6,200.6L631.6,200.7L633.6,200.9L635.6,201.0L637.6,201.2L639.6,201.3L641.6,201.4L643.6,201.6L645.6,201.7L647.6,201.8L649.7,201.9L651.7,202.1L653.7,202.2L655.7,202.3L657.7,202.4L659.7,202.5L661.7,202.6L663.7,202.7L665.7,202.8L667.7,202.9L669.7,203.0L671.7,203.1L673.7,203.2L675.7,203.2L677.7,203.3" fill="none" stroke="#4b4fb8" stroke-width="1.2"/>
<path d="M499.4,181.8L501.4,178.8L503.4,178.9L505.4,179.2L507.4,179.6L509.4,180.1L511.4,180.5L513.4,181.0L515.4,181.6L517.4,182.2L519.4,182.8L521.4,183.3L523.4,183.8L525.4,184.4L527.4,184.9L529.5,185.4L531.5,185.9L533.5,186.4L535.5,186.8L537.5,187.2L539.5,187.5L541.5,187.9L543.5,188.2L545.5,188.5L547.5,188.8L549.5,189.1L551.5,189.4L553.5,189.7L555.5,190.0L557.5,190.2L559.5,190.5L561.5,190.7L563.5,191.0L565.5,191.2L567.5,191.5L569.5,191.7L571.5,191.9L573.5,192.2L575.5,192.4L577.5,192.6L579.5,192.8L581.5,193.0L583.5,193.2L585.5,193.4L587.5,193.6L589.6,193.8L591.6,194.0L593.6,194.2L595.6,194.3L597.6,194.5L599.6,194.7L601.6,194.9L603.6,195.0L605.6,195.2L607.6,195.4L609.6,195.5L611.6,195.7L613.6,195.9L615.6,196.0L617.6,196.2L619.6,196.3L621.6,196.5L623.6,196.6L625.6,196.8L627.6,196.9L629.6,197.1L631.6,197.2L633.6,197.4L635.6,197.5L637.6,197.7L639.6,197.8L641.6,197.9L643.6,198.1L645.6,198.2L647.6,198.3L649.7,198.4L651.7,198.6L653.7,198.7L655.7,198.8L657.7,198.9L659.7,199.0L661.7,199.1L663.7,199.2L665.7,199.3L667.7,199.4L669.7,199.5L671.7,199.6L673.7,199.7L675.7,199.7L677.7,199.8" fill="none" stroke="#239a4a" stroke-width="1.6"/>
<path d="M499.4,184.1L501.4,181.1L503.4,181.2L505.4,181.5L507.4,181.9L509.4,182.4L511.4,182.8L513.4,183.3L515.4,183.9L517.4,184.5L519.4,185.1L521.4,185.6L523.4,186.1L525.4,186.7L527.4,187.2L529.5,187.7L531.5,188.2L533.5,188.7L535.5,189.1L537.5,189.5L539.5,189.8L541.5,190.2L543.5,190.5L545.5,190.8L547.5,191.1L549.5,191.4L551.5,191.7L553.5,192.0L555.5,192.3L557.5,192.5L559.5,192.8L561.5,193.0L563.5,193.3L565.5,193.5L567.5,193.8L569.5,194.0L571.5,194.2L573.5,194.5L575.5,194.7L577.5,194.9L579.5,195.1L581.5,195.3L583.5,195.5L585.5,195.7L587.5,195.9L589.6,196.1L591.6,196.3L593.6,196.5L595.6,196.6L597.6,196.8L599.6,197.0L601.6,197.2L603.6,197.3L605.6,197.5L607.6,197.7L609.6,197.8L611.6,198.0L613.6,198.2L615.6,198.3L617.6,198.5L619.6,198.6L621.6,198.8L623.6,198.9L625.6,199.1L627.6,199.2L629.6,199.4L631.6,199.5L633.6,199.7L635.6,199.8L637.6,200.0L639.6,200.1L641.6,200.2L643.6,200.4L645.6,200.5L647.6,200.6L649.7,200.7L651.7,200.9L653.7,201.0L655.7,201.1L657.7,201.2L659.7,201.3L661.7,201.4L663.7,201.5L665.7,201.6L667.7,201.7L669.7,201.8L671.7,201.9L673.7,202.0L675.7,202.0L677.7,202.1" fill="none" stroke="#1d7a48" stroke-width="1.2"/>
<path d="M499.4,184.1L501.4,181.1L503.4,181.2L505.4,181.5L507.4,181.9L509.4,182.4L511.4,182.8L513.4,183.3L515.4,183.9L517.4,184.5L519.4,185.1L521.4,185.6L523.4,186.1L525.4,186.7L527.4,187.2L529.5,187.7L531.5,188.2L533.5,188.7L535.5,189.1L537.5,189.5L539.5,189.8L541.5,190.2L543.5,190.5L545.5,190.8L547.5,191.1L549.5,191.4L551.5,191.7L553.5,192.0L555.5,192.3L557.5,192.5L559.5,192.8L561.5,193.0L563.5,193.3L565.5,193.5L567.5,193.8L569.5,194.0L571.5,194.2L573.5,194.5L575.5,194.7L577.5,194.9L579.5,195.1L581.5,195.3L583.5,195.5L585.5,195.7L587.5,195.9L589.6,196.1L591.6,196.3L593.6,196.5L595.6,196.6L597.6,196.8L599.6,197.0L601.6,197.2L603.6,197.3L605.6,197.5L607.6,197.7L609.6,197.8L611.6,198.0L613.6,198.2L615.6,198.3L617.6,198.5L619.6,198.6L621.6,198.8L623.6,198.9L625.6,199.1L627.6,199.2L629.6,199.4L631.6,199.5L633.6,199.7L635.6,199.8L637.6,200.0L639.6,200.1L641.6,200.2L643.6,200.4L645.6,200.5L647.6,200.6L649.7,200.7L651.7,200.9L653.7,201.0L655.7,201.1L657.7,201.2L659.7,201.3L661.7,201.4L663.7,201.5L665.7,201.6L667.7,201.7L669.7,201.8L671.7,201.9L673.7,202.0L675.7,202.0L677.7,202.1" fill="none" stroke="#e8503a" stroke-width="1.3" stroke-dasharray="1.4,1.45"/>
</g>
<rect x="499.40" y="6.00" width="178.30" height="164.60" fill="none" stroke="#222" stroke-width="0.95"/>
<rect x="499.40" y="170.60" width="178.30" height="38.50" fill="none" stroke="#222" stroke-width="0.95"/>
<rect x="499.40" y="209.10" width="178.30" height="38.30" fill="none" stroke="#222" stroke-width="0.95"/>
<rect x="499.40" y="247.40" width="178.30" height="37.90" fill="none" stroke="#222" stroke-width="0.95"/>
<path d="M499.40,166.79h2.00M677.70,166.79h-2.00M499.40,164.56h2.00M677.70,164.56h-2.00M499.40,162.98h2.00M677.70,162.98h-2.00M499.40,161.75h2.00M677.70,161.75h-2.00M499.40,160.75h2.00M677.70,160.75h-2.00M499.40,159.90h2.00M677.70,159.90h-2.00M499.40,159.17h2.00M677.70,159.17h-2.00M499.40,158.52h2.00M677.70,158.52h-2.00M499.40,154.13h2.00M677.70,154.13h-2.00M499.40,151.90h2.00M677.70,151.90h-2.00M499.40,150.32h2.00M677.70,150.32h-2.00M499.40,149.09h2.00M677.70,149.09h-2.00M499.40,148.09h2.00M677.70,148.09h-2.00M499.40,147.24h2.00M677.70,147.24h-2.00M499.40,146.50h2.00M677.70,146.50h-2.00M499.40,145.86h2.00M677.70,145.86h-2.00M499.40,141.47h2.00M677.70,141.47h-2.00M499.40,139.24h2.00M677.70,139.24h-2.00M499.40,137.65h2.00M677.70,137.65h-2.00M499.40,136.43h2.00M677.70,136.43h-2.00M499.40,135.42h2.00M677.70,135.42h-2.00M499.40,134.58h2.00M677.70,134.58h-2.00M499.40,133.84h2.00M677.70,133.84h-2.00M499.40,133.19h2.00M677.70,133.19h-2.00M499.40,128.80h2.00M677.70,128.80h-2.00M499.40,126.57h2.00M677.70,126.57h-2.00M499.40,124.99h2.00M677.70,124.99h-2.00M499.40,123.77h2.00M677.70,123.77h-2.00M499.40,122.76h2.00M677.70,122.76h-2.00M499.40,121.92h2.00M677.70,121.92h-2.00M499.40,121.18h2.00M677.70,121.18h-2.00M499.40,120.53h2.00M677.70,120.53h-2.00M499.40,116.14h2.00M677.70,116.14h-2.00M499.40,113.91h2.00M677.70,113.91h-2.00M499.40,112.33h2.00M677.70,112.33h-2.00M499.40,111.10h2.00M677.70,111.10h-2.00M499.40,110.10h2.00M677.70,110.10h-2.00M499.40,109.25h2.00M677.70,109.25h-2.00M499.40,108.52h2.00M677.70,108.52h-2.00M499.40,107.87h2.00M677.70,107.87h-2.00M499.40,103.48h2.00M677.70,103.48h-2.00M499.40,101.25h2.00M677.70,101.25h-2.00M499.40,99.67h2.00M677.70,99.67h-2.00M499.40,98.44h2.00M677.70,98.44h-2.00M499.40,97.44h2.00M677.70,97.44h-2.00M499.40,96.59h2.00M677.70,96.59h-2.00M499.40,95.86h2.00M677.70,95.86h-2.00M499.40,95.21h2.00M677.70,95.21h-2.00M499.40,90.82h2.00M677.70,90.82h-2.00M499.40,88.59h2.00M677.70,88.59h-2.00M499.40,87.01h2.00M677.70,87.01h-2.00M499.40,85.78h2.00M677.70,85.78h-2.00M499.40,84.78h2.00M677.70,84.78h-2.00M499.40,83.93h2.00M677.70,83.93h-2.00M499.40,83.20h2.00M677.70,83.20h-2.00M499.40,82.55h2.00M677.70,82.55h-2.00M499.40,78.16h2.00M677.70,78.16h-2.00M499.40,75.93h2.00M677.70,75.93h-2.00M499.40,74.35h2.00M677.70,74.35h-2.00M499.40,73.12h2.00M677.70,73.12h-2.00M499.40,72.12h2.00M677.70,72.12h-2.00M499.40,71.27h2.00M677.70,71.27h-2.00M499.40,70.53h2.00M677.70,70.53h-2.00M499.40,69.89h2.00M677.70,69.89h-2.00M499.40,65.50h2.00M677.70,65.50h-2.00M499.40,63.27h2.00M677.70,63.27h-2.00M499.40,61.68h2.00M677.70,61.68h-2.00M499.40,60.46h2.00M677.70,60.46h-2.00M499.40,59.46h2.00M677.70,59.46h-2.00M499.40,58.61h2.00M677.70,58.61h-2.00M499.40,57.87h2.00M677.70,57.87h-2.00M499.40,57.23h2.00M677.70,57.23h-2.00M499.40,52.83h2.00M677.70,52.83h-2.00M499.40,50.61h2.00M677.70,50.61h-2.00M499.40,49.02h2.00M677.70,49.02h-2.00M499.40,47.80h2.00M677.70,47.80h-2.00M499.40,46.79h2.00M677.70,46.79h-2.00M499.40,45.95h2.00M677.70,45.95h-2.00M499.40,45.21h2.00M677.70,45.21h-2.00M499.40,44.56h2.00M677.70,44.56h-2.00M499.40,40.17h2.00M677.70,40.17h-2.00M499.40,37.94h2.00M677.70,37.94h-2.00M499.40,36.36h2.00M677.70,36.36h-2.00M499.40,35.13h2.00M677.70,35.13h-2.00M499.40,34.13h2.00M677.70,34.13h-2.00M499.40,33.28h2.00M677.70,33.28h-2.00M499.40,32.55h2.00M677.70,32.55h-2.00M499.40,31.90h2.00M677.70,31.90h-2.00M499.40,27.51h2.00M677.70,27.51h-2.00M499.40,25.28h2.00M677.70,25.28h-2.00M499.40,23.70h2.00M677.70,23.70h-2.00M499.40,22.47h2.00M677.70,22.47h-2.00M499.40,21.47h2.00M677.70,21.47h-2.00M499.40,20.62h2.00M677.70,20.62h-2.00M499.40,19.89h2.00M677.70,19.89h-2.00M499.40,19.24h2.00M677.70,19.24h-2.00M499.40,14.85h2.00M677.70,14.85h-2.00M499.40,12.62h2.00M677.70,12.62h-2.00M499.40,11.04h2.00M677.70,11.04h-2.00M499.40,9.81h2.00M677.70,9.81h-2.00M499.40,8.81h2.00M677.70,8.81h-2.00M499.40,7.96h2.00M677.70,7.96h-2.00M499.40,7.23h2.00M677.70,7.23h-2.00M499.40,6.58h2.00M677.70,6.58h-2.00M499.40,246.96h2.00M677.70,246.96h-2.00M499.40,246.10h2.00M677.70,246.10h-2.00M499.40,245.35h2.00M677.70,245.35h-2.00M499.40,244.69h2.00M677.70,244.69h-2.00M499.40,240.22h2.00M677.70,240.22h-2.00M499.40,237.95h2.00M677.70,237.95h-2.00M499.40,236.33h2.00M677.70,236.33h-2.00M499.40,235.08h2.00M677.70,235.08h-2.00M499.40,234.06h2.00M677.70,234.06h-2.00M499.40,233.20h2.00M677.70,233.20h-2.00M499.40,232.45h2.00M677.70,232.45h-2.00M499.40,231.79h2.00M677.70,231.79h-2.00M499.40,227.32h2.00M677.70,227.32h-2.00M499.40,225.05h2.00M677.70,225.05h-2.00M499.40,223.43h2.00M677.70,223.43h-2.00M499.40,222.18h2.00M677.70,222.18h-2.00M499.40,221.16h2.00M677.70,221.16h-2.00M499.40,220.30h2.00M677.70,220.30h-2.00M499.40,219.55h2.00M677.70,219.55h-2.00M499.40,218.89h2.00M677.70,218.89h-2.00M499.40,214.42h2.00M677.70,214.42h-2.00M499.40,212.15h2.00M677.70,212.15h-2.00M499.40,210.53h2.00M677.70,210.53h-2.00M499.40,209.28h2.00M677.70,209.28h-2.00M499.40,285.26h2.00M677.70,285.26h-2.00M499.40,284.40h2.00M677.70,284.40h-2.00M499.40,283.65h2.00M677.70,283.65h-2.00M499.40,282.99h2.00M677.70,282.99h-2.00M499.40,278.52h2.00M677.70,278.52h-2.00M499.40,276.25h2.00M677.70,276.25h-2.00M499.40,274.63h2.00M677.70,274.63h-2.00M499.40,273.38h2.00M677.70,273.38h-2.00M499.40,272.36h2.00M677.70,272.36h-2.00M499.40,271.50h2.00M677.70,271.50h-2.00M499.40,270.75h2.00M677.70,270.75h-2.00M499.40,270.09h2.00M677.70,270.09h-2.00M499.40,265.62h2.00M677.70,265.62h-2.00M499.40,263.35h2.00M677.70,263.35h-2.00M499.40,261.73h2.00M677.70,261.73h-2.00M499.40,260.48h2.00M677.70,260.48h-2.00M499.40,259.46h2.00M677.70,259.46h-2.00M499.40,258.60h2.00M677.70,258.60h-2.00M499.40,257.85h2.00M677.70,257.85h-2.00M499.40,257.19h2.00M677.70,257.19h-2.00M499.40,252.72h2.00M677.70,252.72h-2.00M499.40,250.45h2.00M677.70,250.45h-2.00M499.40,248.83h2.00M677.70,248.83h-2.00M499.40,247.58h2.00M677.70,247.58h-2.00M499.40,207.10h2.00M677.70,207.10h-2.00M499.40,205.10h2.00M677.70,205.10h-2.00M499.40,203.10h2.00M677.70,203.10h-2.00M499.40,201.10h2.00M677.70,201.10h-2.00M499.40,197.10h2.00M677.70,197.10h-2.00M499.40,195.10h2.00M677.70,195.10h-2.00M499.40,193.10h2.00M677.70,193.10h-2.00M499.40,191.10h2.00M677.70,191.10h-2.00M499.40,187.10h2.00M677.70,187.10h-2.00M499.40,185.10h2.00M677.70,185.10h-2.00M499.40,183.10h2.00M677.70,183.10h-2.00M499.40,181.10h2.00M677.70,181.10h-2.00M499.40,177.10h2.00M677.70,177.10h-2.00M499.40,175.10h2.00M677.70,175.10h-2.00M499.40,173.10h2.00M677.70,173.10h-2.00M499.40,171.10h2.00M677.70,171.10h-2.00M502.97,170.60v-1.60M502.97,209.10v-1.60M502.97,247.40v-1.60M502.97,285.30v-1.60M506.53,170.60v-1.60M506.53,209.10v-1.60M506.53,247.40v-1.60M506.53,285.30v-1.60M510.10,170.60v-1.60M510.10,209.10v-1.60M510.10,247.40v-1.60M510.10,285.30v-1.60M513.66,170.60v-1.60M513.66,209.10v-1.60M513.66,247.40v-1.60M513.66,285.30v-1.60M517.23,170.60v-1.60M517.23,209.10v-1.60M517.23,247.40v-1.60M517.23,285.30v-1.60M520.80,170.60v-1.60M520.80,209.10v-1.60M520.80,247.40v-1.60M520.80,285.30v-1.60M524.36,170.60v-1.60M524.36,209.10v-1.60M524.36,247.40v-1.60M524.36,285.30v-1.60M527.93,170.60v-1.60M527.93,209.10v-1.60M527.93,247.40v-1.60M527.93,285.30v-1.60M531.49,170.60v-1.60M531.49,209.10v-1.60M531.49,247.40v-1.60M531.49,285.30v-1.60M535.06,170.60v-1.60M535.06,209.10v-1.60M535.06,247.40v-1.60M535.06,285.30v-1.60M538.63,170.60v-1.60M538.63,209.10v-1.60M538.63,247.40v-1.60M538.63,285.30v-1.60M542.19,170.60v-1.60M542.19,209.10v-1.60M542.19,247.40v-1.60M542.19,285.30v-1.60M545.76,170.60v-1.60M545.76,209.10v-1.60M545.76,247.40v-1.60M545.76,285.30v-1.60M549.32,170.60v-1.60M549.32,209.10v-1.60M549.32,247.40v-1.60M549.32,285.30v-1.60M552.89,170.60v-1.60M552.89,209.10v-1.60M552.89,247.40v-1.60M552.89,285.30v-1.60M556.46,170.60v-1.60M556.46,209.10v-1.60M556.46,247.40v-1.60M556.46,285.30v-1.60M560.02,170.60v-1.60M560.02,209.10v-1.60M560.02,247.40v-1.60M560.02,285.30v-1.60M563.59,170.60v-1.60M563.59,209.10v-1.60M563.59,247.40v-1.60M563.59,285.30v-1.60M567.15,170.60v-1.60M567.15,209.10v-1.60M567.15,247.40v-1.60M567.15,285.30v-1.60M570.72,170.60v-1.60M570.72,209.10v-1.60M570.72,247.40v-1.60M570.72,285.30v-1.60M574.29,170.60v-1.60M574.29,209.10v-1.60M574.29,247.40v-1.60M574.29,285.30v-1.60M577.85,170.60v-1.60M577.85,209.10v-1.60M577.85,247.40v-1.60M577.85,285.30v-1.60M581.42,170.60v-1.60M581.42,209.10v-1.60M581.42,247.40v-1.60M581.42,285.30v-1.60M584.98,170.60v-1.60M584.98,209.10v-1.60M584.98,247.40v-1.60M584.98,285.30v-1.60M588.55,170.60v-1.60M588.55,209.10v-1.60M588.55,247.40v-1.60M588.55,285.30v-1.60M592.12,170.60v-1.60M592.12,209.10v-1.60M592.12,247.40v-1.60M592.12,285.30v-1.60M595.68,170.60v-1.60M595.68,209.10v-1.60M595.68,247.40v-1.60M595.68,285.30v-1.60M599.25,170.60v-1.60M599.25,209.10v-1.60M599.25,247.40v-1.60M599.25,285.30v-1.60M602.81,170.60v-1.60M602.81,209.10v-1.60M602.81,247.40v-1.60M602.81,285.30v-1.60M606.38,170.60v-1.60M606.38,209.10v-1.60M606.38,247.40v-1.60M606.38,285.30v-1.60M609.95,170.60v-1.60M609.95,209.10v-1.60M609.95,247.40v-1.60M609.95,285.30v-1.60M613.51,170.60v-1.60M613.51,209.10v-1.60M613.51,247.40v-1.60M613.51,285.30v-1.60M617.08,170.60v-1.60M617.08,209.10v-1.60M617.08,247.40v-1.60M617.08,285.30v-1.60M620.64,170.60v-1.60M620.64,209.10v-1.60M620.64,247.40v-1.60M620.64,285.30v-1.60M624.21,170.60v-1.60M624.21,209.10v-1.60M624.21,247.40v-1.60M624.21,285.30v-1.60M627.78,170.60v-1.60M627.78,209.10v-1.60M627.78,247.40v-1.60M627.78,285.30v-1.60M631.34,170.60v-1.60M631.34,209.10v-1.60M631.34,247.40v-1.60M631.34,285.30v-1.60M634.91,170.60v-1.60M634.91,209.10v-1.60M634.91,247.40v-1.60M634.91,285.30v-1.60M638.47,170.60v-1.60M638.47,209.10v-1.60M638.47,247.40v-1.60M638.47,285.30v-1.60M642.04,170.60v-1.60M642.04,209.10v-1.60M642.04,247.40v-1.60M642.04,285.30v-1.60M645.61,170.60v-1.60M645.61,209.10v-1.60M645.61,247.40v-1.60M645.61,285.30v-1.60M649.17,170.60v-1.60M649.17,209.10v-1.60M649.17,247.40v-1.60M649.17,285.30v-1.60M652.74,170.60v-1.60M652.74,209.10v-1.60M652.74,247.40v-1.60M652.74,285.30v-1.60M656.30,170.60v-1.60M656.30,209.10v-1.60M656.30,247.40v-1.60M656.30,285.30v-1.60M659.87,170.60v-1.60M659.87,209.10v-1.60M659.87,247.40v-1.60M659.87,285.30v-1.60M663.44,170.60v-1.60M663.44,209.10v-1.60M663.44,247.40v-1.60M663.44,285.30v-1.60M667.00,170.60v-1.60M667.00,209.10v-1.60M667.00,247.40v-1.60M667.00,285.30v-1.60M670.57,170.60v-1.60M670.57,209.10v-1.60M670.57,247.40v-1.60M670.57,285.30v-1.60M674.13,170.60v-1.60M674.13,209.10v-1.60M674.13,247.40v-1.60M674.13,285.30v-1.60" stroke="#555" stroke-width="0.45" fill="none"/>
<path d="M499.40,170.60h4.00M677.70,170.60h-4.00M499.40,157.94h4.00M677.70,157.94h-4.00M499.40,145.28h4.00M677.70,145.28h-4.00M499.40,132.62h4.00M677.70,132.62h-4.00M499.40,119.95h4.00M677.70,119.95h-4.00M499.40,107.29h4.00M677.70,107.29h-4.00M499.40,94.63h4.00M677.70,94.63h-4.00M499.40,81.97h4.00M677.70,81.97h-4.00M499.40,69.31h4.00M677.70,69.31h-4.00M499.40,56.65h4.00M677.70,56.65h-4.00M499.40,43.98h4.00M677.70,43.98h-4.00M499.40,31.32h4.00M677.70,31.32h-4.00M499.40,18.66h4.00M677.70,18.66h-4.00M499.40,6.00h4.00M677.70,6.00h-4.00M499.40,244.10h4.00M677.70,244.10h-4.00M499.40,231.20h4.00M677.70,231.20h-4.00M499.40,218.30h4.00M677.70,218.30h-4.00M499.40,282.40h4.00M677.70,282.40h-4.00M499.40,269.50h4.00M677.70,269.50h-4.00M499.40,256.60h4.00M677.70,256.60h-4.00M499.40,209.10h4.00M677.70,209.10h-4.00M499.40,199.10h4.00M677.70,199.10h-4.00M499.40,189.10h4.00M677.70,189.10h-4.00M499.40,179.10h4.00M677.70,179.10h-4.00M535.06,170.60v-3.40M535.06,209.10v-3.40M535.06,247.40v-3.40M535.06,285.30v-3.40M570.72,170.60v-3.40M570.72,209.10v-3.40M570.72,247.40v-3.40M570.72,285.30v-3.40M606.38,170.60v-3.40M606.38,209.10v-3.40M606.38,247.40v-3.40M606.38,285.30v-3.40M642.04,170.60v-3.40M642.04,209.10v-3.40M642.04,247.40v-3.40M642.04,285.30v-3.40M677.70,170.60v-3.40M677.70,209.10v-3.40M677.70,247.40v-3.40M677.70,285.30v-3.40" stroke="#333" stroke-width="0.6" fill="none"/>
<text x="535.06" y="295.00" font-size="7.20" text-anchor="middle" fill="#000" style="stroke-width:0.12px">10</text>
<text x="570.72" y="295.00" font-size="7.20" text-anchor="middle" fill="#000" style="stroke-width:0.12px">20</text>
<text x="606.38" y="295.00" font-size="7.20" text-anchor="middle" fill="#000" style="stroke-width:0.12px">30</text>
<text x="642.04" y="295.00" font-size="7.20" text-anchor="middle" fill="#000" style="stroke-width:0.12px">40</text>
<text x="677.70" y="295.00" font-size="7.20" text-anchor="middle" fill="#000" style="stroke-width:0.12px">50</text>
<text x="588.55" y="305.70" font-size="10.20" text-anchor="middle" fill="#000" >M [TeV]</text>
<text x="494.90" y="173.45" font-size="7.0" text-anchor="end" style="stroke-width:0.12px">10<tspan dy="-2.7" font-size="5.4">-16</tspan></text>
<text x="494.90" y="160.79" font-size="7.0" text-anchor="end" style="stroke-width:0.12px">10<tspan dy="-2.7" font-size="5.4">-15</tspan></text>
<text x="494.90" y="148.13" font-size="7.0" text-anchor="end" style="stroke-width:0.12px">10<tspan dy="-2.7" font-size="5.4">-14</tspan></text>
<text x="494.90" y="135.47" font-size="7.0" text-anchor="end" style="stroke-width:0.12px">10<tspan dy="-2.7" font-size="5.4">-13</tspan></text>
<text x="494.90" y="122.80" font-size="7.0" text-anchor="end" style="stroke-width:0.12px">10<tspan dy="-2.7" font-size="5.4">-12</tspan></text>
<text x="494.90" y="110.14" font-size="7.0" text-anchor="end" style="stroke-width:0.12px">10<tspan dy="-2.7" font-size="5.4">-11</tspan></text>
<text x="494.90" y="97.48" font-size="7.0" text-anchor="end" style="stroke-width:0.12px">10<tspan dy="-2.7" font-size="5.4">-10</tspan></text>
<text x="494.90" y="84.82" font-size="7.0" text-anchor="end" style="stroke-width:0.12px">10<tspan dy="-2.7" font-size="5.4">-9</tspan></text>
<text x="494.90" y="72.16" font-size="7.0" text-anchor="end" style="stroke-width:0.12px">10<tspan dy="-2.7" font-size="5.4">-8</tspan></text>
<text x="494.90" y="59.50" font-size="7.0" text-anchor="end" style="stroke-width:0.12px">10<tspan dy="-2.7" font-size="5.4">-7</tspan></text>
<text x="494.90" y="46.83" font-size="7.0" text-anchor="end" style="stroke-width:0.12px">10<tspan dy="-2.7" font-size="5.4">-6</tspan></text>
<text x="494.90" y="34.17" font-size="7.0" text-anchor="end" style="stroke-width:0.12px">10<tspan dy="-2.7" font-size="5.4">-5</tspan></text>
<text x="494.90" y="21.51" font-size="7.0" text-anchor="end" style="stroke-width:0.12px">10<tspan dy="-2.7" font-size="5.4">-4</tspan></text>
<text x="494.90" y="8.85" font-size="7.0" text-anchor="end" style="stroke-width:0.12px">10<tspan dy="-2.7" font-size="5.4">-3</tspan></text>
<text x="494.80" y="180.25" font-size="7.10" text-anchor="end" fill="#000" style="stroke-width:0.12px">1.5</text>
<text x="494.80" y="190.10" font-size="7.10" text-anchor="end" fill="#000" style="stroke-width:0.12px">1</text>
<text x="494.80" y="199.95" font-size="7.10" text-anchor="end" fill="#000" style="stroke-width:0.12px">0.5</text>
<text x="494.80" y="209.80" font-size="7.10" text-anchor="end" fill="#000" style="stroke-width:0.12px">0</text>
<text x="494.90" y="220.90" font-size="7.0" text-anchor="end" style="stroke-width:0.12px">10<tspan dy="-3" font-size="5.4">0</tspan></text>
<text x="494.90" y="233.80" font-size="7.0" text-anchor="end" style="stroke-width:0.12px">10<tspan dy="-3" font-size="5.4">-1</tspan></text>
<text x="494.90" y="246.70" font-size="7.0" text-anchor="end" style="stroke-width:0.12px">10<tspan dy="-3" font-size="5.4">-2</tspan></text>
<text x="494.90" y="259.20" font-size="7.0" text-anchor="end" style="stroke-width:0.12px">10<tspan dy="-3" font-size="5.4">0</tspan></text>
<text x="494.90" y="272.10" font-size="7.0" text-anchor="end" style="stroke-width:0.12px">10<tspan dy="-3" font-size="5.4">-1</tspan></text>
<text x="494.90" y="285.00" font-size="7.0" text-anchor="end" style="stroke-width:0.12px">10<tspan dy="-3" font-size="5.4">-2</tspan></text>
<text transform="translate(475.30,91.50) rotate(-90)" font-size="10" text-anchor="middle">dL / dM<tspan dy="-3.8" font-size="7">2</tspan></text>
<text x="503.20" y="18.70" font-size="10.2">dL(g&#947;) / dM<tspan dy="-4.6" font-size="8">2</tspan><tspan dy="4.6"> comparison at 100 TeV</tspan></text>
<text x="503.00" y="28.90" font-size="8.50" text-anchor="start" fill="#000" >Q=M</text>
<text x="551.80" y="121.30" font-size="7.10" text-anchor="end" fill="#000" >NNPDF2.3</text>
<line x1="555.60" y1="119.40" x2="567.40" y2="119.40" stroke="#e0332a" stroke-width="1.2" />
<text x="551.80" y="132.02" font-size="7.10" text-anchor="end" fill="#000" >APFEL_NN23</text>
<line x1="555.60" y1="130.12" x2="567.40" y2="130.12" stroke="#e0332a" stroke-width="1.2" stroke-dasharray="1.3,1.6"/>
<text x="551.80" y="142.74" font-size="7.10" text-anchor="end" fill="#000" >MRST2004</text>
<line x1="555.60" y1="140.84" x2="567.40" y2="140.84" stroke="#4b4fb8" stroke-width="1.2" />
<text x="551.80" y="153.46" font-size="7.10" text-anchor="end" fill="#000" >CT14 0.00</text>
<line x1="555.60" y1="151.56" x2="567.40" y2="151.56" stroke="#239a4a" stroke-width="1.2" />
<text x="551.80" y="164.18" font-size="7.10" text-anchor="end" fill="#000" >CT14 0.14</text>
<line x1="555.60" y1="162.28" x2="567.40" y2="162.28" stroke="#239a4a" stroke-width="1.2" stroke-dasharray="1.3,1.6"/>
<text x="503.00" y="178.30" font-size="7.08" style="stroke-width:0.2px">Ratio Q=M / Q=m<tspan dy="1.6" font-size="5">t</tspan></text>
<rect x="500.00" y="209.7" width="93.84" height="6.3" fill="#fff"/>
<text x="503.00" y="216.20" font-size="7.20" text-anchor="start" fill="#000" style="stroke-width:0.2px">Ratio over NNPDF2.3, Q=M</text>
<rect x="500.00" y="248.0" width="96.75" height="5.4" fill="#fff"/>
<text x="503.00" y="254.80" font-size="7.2" style="stroke-width:0.2px">Ratio over NNPDF2.3, Q=m<tspan dy="1.6" font-size="5">t</tspan></text>
</g>
</svg>
</body></html>
